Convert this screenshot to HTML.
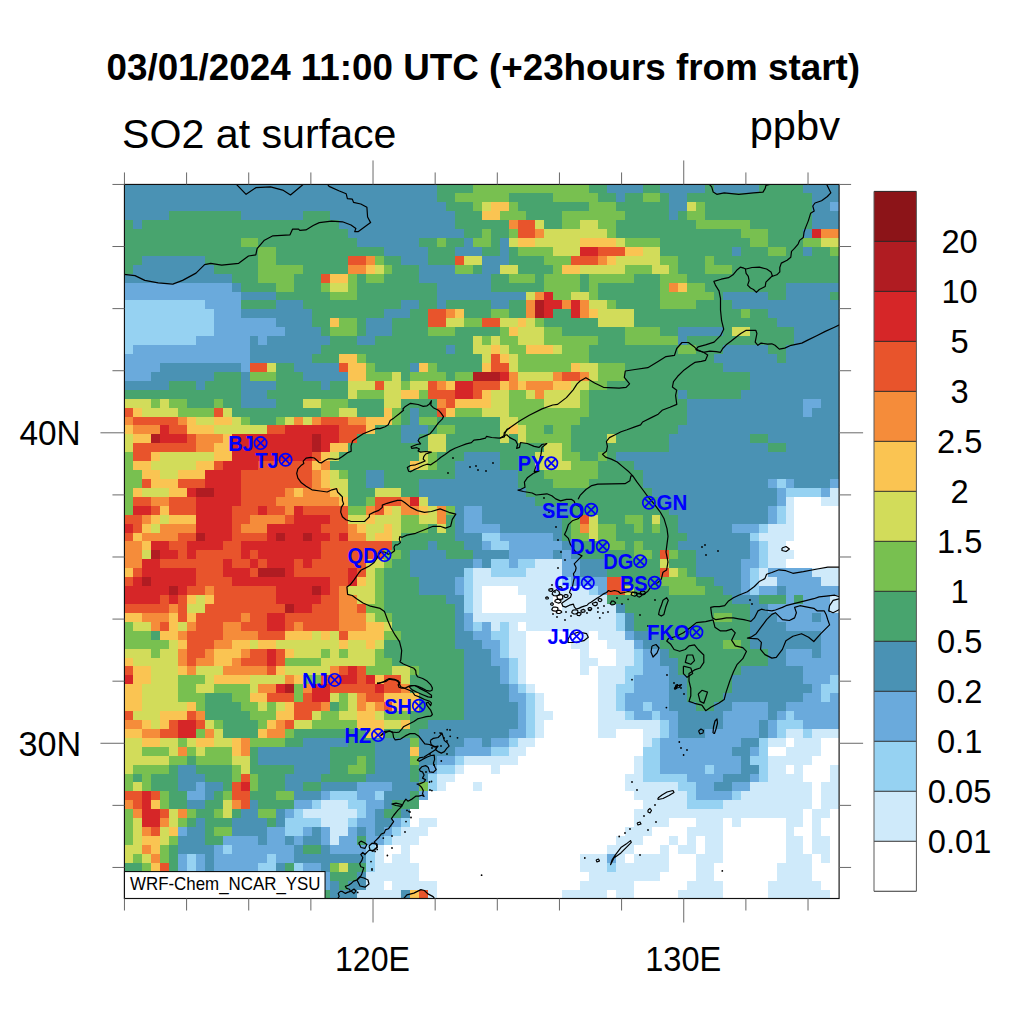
<!DOCTYPE html>
<html><head><meta charset="utf-8"><style>
html,body{margin:0;padding:0;background:#fff;}
svg{display:block;}
text{font-family:"Liberation Sans",sans-serif;fill:#000;}
</style></head><body>
<svg width="1024" height="1024" viewBox="0 0 1024 1024">
<rect width="1024" height="1024" fill="#fff"/>
<text x="106.5" y="80.1" font-size="37.5" font-weight="bold" textLength="753.5" lengthAdjust="spacingAndGlyphs">03/01/2024 11:00 UTC (+23hours from start)</text>
<text x="122" y="148" font-size="41.5" textLength="274.5" lengthAdjust="spacingAndGlyphs">SO2 at surface</text>
<text x="749.7" y="140" font-size="41.5" textLength="90.3" lengthAdjust="spacingAndGlyphs">ppbv</text>
<clipPath id="mc"><rect x="124.44" y="184.44" width="714.6600000000001" height="714.06"/></clipPath>
<g clip-path="url(#mc)" shape-rendering="crispEdges">
<rect x="124.44" y="184.44" width="313.16" height="9.43" fill="#4a92b4"/>
<rect x="437.10" y="184.44" width="36.23" height="9.43" fill="#48a46e"/>
<rect x="472.84" y="184.44" width="116.63" height="9.43" fill="#78c050"/>
<rect x="588.97" y="184.44" width="18.37" height="9.43" fill="#48a46e"/>
<rect x="606.84" y="184.44" width="36.23" height="9.43" fill="#4a92b4"/>
<rect x="642.57" y="184.44" width="18.37" height="9.43" fill="#48a46e"/>
<rect x="660.44" y="184.44" width="45.17" height="9.43" fill="#4a92b4"/>
<rect x="705.10" y="184.44" width="9.43" height="9.43" fill="#48a46e"/>
<rect x="714.03" y="184.44" width="45.17" height="9.43" fill="#4a92b4"/>
<rect x="758.70" y="184.44" width="45.17" height="9.43" fill="#48a46e"/>
<rect x="803.37" y="184.44" width="36.23" height="9.43" fill="#4a92b4"/>
<rect x="124.44" y="193.37" width="313.16" height="9.43" fill="#4a92b4"/>
<rect x="437.10" y="193.37" width="18.37" height="9.43" fill="#48a46e"/>
<rect x="454.97" y="193.37" width="54.10" height="9.43" fill="#78c050"/>
<rect x="508.57" y="193.37" width="45.17" height="9.43" fill="#48a46e"/>
<rect x="553.24" y="193.37" width="45.17" height="9.43" fill="#78c050"/>
<rect x="597.90" y="193.37" width="18.37" height="9.43" fill="#48a46e"/>
<rect x="615.77" y="193.37" width="9.43" height="9.43" fill="#4a92b4"/>
<rect x="624.70" y="193.37" width="18.37" height="9.43" fill="#48a46e"/>
<rect x="642.57" y="193.37" width="18.37" height="9.43" fill="#78c050"/>
<rect x="660.44" y="193.37" width="9.43" height="9.43" fill="#48a46e"/>
<rect x="669.37" y="193.37" width="18.37" height="9.43" fill="#4a92b4"/>
<rect x="687.23" y="193.37" width="125.57" height="9.43" fill="#48a46e"/>
<rect x="812.30" y="193.37" width="27.30" height="9.43" fill="#4a92b4"/>
<rect x="124.44" y="202.29" width="322.10" height="9.43" fill="#4a92b4"/>
<rect x="446.04" y="202.29" width="27.30" height="9.43" fill="#48a46e"/>
<rect x="472.84" y="202.29" width="9.43" height="9.43" fill="#78c050"/>
<rect x="481.77" y="202.29" width="9.43" height="9.43" fill="#d2dc5a"/>
<rect x="490.70" y="202.29" width="18.37" height="9.43" fill="#fac452"/>
<rect x="508.57" y="202.29" width="9.43" height="9.43" fill="#78c050"/>
<rect x="517.50" y="202.29" width="71.97" height="9.43" fill="#48a46e"/>
<rect x="588.97" y="202.29" width="27.30" height="9.43" fill="#78c050"/>
<rect x="615.77" y="202.29" width="54.10" height="9.43" fill="#48a46e"/>
<rect x="669.37" y="202.29" width="18.37" height="9.43" fill="#4a92b4"/>
<rect x="687.23" y="202.29" width="9.43" height="9.43" fill="#d2dc5a"/>
<rect x="696.17" y="202.29" width="9.43" height="9.43" fill="#78c050"/>
<rect x="705.10" y="202.29" width="107.70" height="9.43" fill="#48a46e"/>
<rect x="812.30" y="202.29" width="18.37" height="9.43" fill="#4a92b4"/>
<rect x="830.17" y="202.29" width="9.43" height="9.43" fill="#6aaadc"/>
<rect x="124.44" y="211.22" width="45.17" height="9.43" fill="#4a92b4"/>
<rect x="169.11" y="211.22" width="71.97" height="9.43" fill="#48a46e"/>
<rect x="240.57" y="211.22" width="63.03" height="9.43" fill="#4a92b4"/>
<rect x="303.11" y="211.22" width="27.30" height="9.43" fill="#48a46e"/>
<rect x="329.90" y="211.22" width="125.57" height="9.43" fill="#4a92b4"/>
<rect x="454.97" y="211.22" width="27.30" height="9.43" fill="#48a46e"/>
<rect x="481.77" y="211.22" width="18.37" height="9.43" fill="#fac452"/>
<rect x="499.64" y="211.22" width="27.30" height="9.43" fill="#78c050"/>
<rect x="526.44" y="211.22" width="36.23" height="9.43" fill="#48a46e"/>
<rect x="562.17" y="211.22" width="63.03" height="9.43" fill="#78c050"/>
<rect x="624.70" y="211.22" width="45.17" height="9.43" fill="#48a46e"/>
<rect x="669.37" y="211.22" width="9.43" height="9.43" fill="#4a92b4"/>
<rect x="678.30" y="211.22" width="9.43" height="9.43" fill="#48a46e"/>
<rect x="687.23" y="211.22" width="18.37" height="9.43" fill="#78c050"/>
<rect x="705.10" y="211.22" width="107.70" height="9.43" fill="#48a46e"/>
<rect x="812.30" y="211.22" width="27.30" height="9.43" fill="#4a92b4"/>
<rect x="124.44" y="220.14" width="9.43" height="9.43" fill="#48a46e"/>
<rect x="133.37" y="220.14" width="9.43" height="9.43" fill="#4a92b4"/>
<rect x="142.31" y="220.14" width="197.03" height="9.43" fill="#48a46e"/>
<rect x="338.84" y="220.14" width="116.63" height="9.43" fill="#4a92b4"/>
<rect x="454.97" y="220.14" width="54.10" height="9.43" fill="#48a46e"/>
<rect x="508.57" y="220.14" width="9.43" height="9.43" fill="#f58c3a"/>
<rect x="517.50" y="220.14" width="18.37" height="9.43" fill="#e8542c"/>
<rect x="535.37" y="220.14" width="9.43" height="9.43" fill="#d2dc5a"/>
<rect x="544.30" y="220.14" width="18.37" height="9.43" fill="#48a46e"/>
<rect x="562.17" y="220.14" width="18.37" height="9.43" fill="#78c050"/>
<rect x="580.04" y="220.14" width="18.37" height="9.43" fill="#d2dc5a"/>
<rect x="597.90" y="220.14" width="18.37" height="9.43" fill="#78c050"/>
<rect x="615.77" y="220.14" width="80.90" height="9.43" fill="#48a46e"/>
<rect x="696.17" y="220.14" width="54.10" height="9.43" fill="#78c050"/>
<rect x="749.77" y="220.14" width="63.03" height="9.43" fill="#48a46e"/>
<rect x="812.30" y="220.14" width="27.30" height="9.43" fill="#4a92b4"/>
<rect x="124.44" y="229.07" width="223.83" height="9.43" fill="#48a46e"/>
<rect x="347.77" y="229.07" width="116.63" height="9.43" fill="#4a92b4"/>
<rect x="463.90" y="229.07" width="18.37" height="9.43" fill="#48a46e"/>
<rect x="481.77" y="229.07" width="9.43" height="9.43" fill="#78c050"/>
<rect x="490.70" y="229.07" width="18.37" height="9.43" fill="#48a46e"/>
<rect x="508.57" y="229.07" width="9.43" height="9.43" fill="#78c050"/>
<rect x="517.50" y="229.07" width="18.37" height="9.43" fill="#e8542c"/>
<rect x="535.37" y="229.07" width="9.43" height="9.43" fill="#f58c3a"/>
<rect x="544.30" y="229.07" width="63.03" height="9.43" fill="#d2dc5a"/>
<rect x="606.84" y="229.07" width="9.43" height="9.43" fill="#78c050"/>
<rect x="615.77" y="229.07" width="125.57" height="9.43" fill="#48a46e"/>
<rect x="740.83" y="229.07" width="27.30" height="9.43" fill="#78c050"/>
<rect x="767.63" y="229.07" width="36.23" height="9.43" fill="#48a46e"/>
<rect x="803.37" y="229.07" width="9.43" height="9.43" fill="#4a92b4"/>
<rect x="812.30" y="229.07" width="9.43" height="9.43" fill="#d62628"/>
<rect x="821.23" y="229.07" width="18.37" height="9.43" fill="#f58c3a"/>
<rect x="124.44" y="237.99" width="116.63" height="9.43" fill="#48a46e"/>
<rect x="240.57" y="237.99" width="18.37" height="9.43" fill="#78c050"/>
<rect x="258.44" y="237.99" width="98.77" height="9.43" fill="#48a46e"/>
<rect x="356.70" y="237.99" width="63.03" height="9.43" fill="#4a92b4"/>
<rect x="419.24" y="237.99" width="18.37" height="9.43" fill="#48a46e"/>
<rect x="437.10" y="237.99" width="9.43" height="9.43" fill="#78c050"/>
<rect x="446.04" y="237.99" width="18.37" height="9.43" fill="#48a46e"/>
<rect x="463.90" y="237.99" width="9.43" height="9.43" fill="#4a92b4"/>
<rect x="472.84" y="237.99" width="18.37" height="9.43" fill="#78c050"/>
<rect x="490.70" y="237.99" width="9.43" height="9.43" fill="#48a46e"/>
<rect x="499.64" y="237.99" width="9.43" height="9.43" fill="#4a92b4"/>
<rect x="508.57" y="237.99" width="9.43" height="9.43" fill="#d2dc5a"/>
<rect x="517.50" y="237.99" width="18.37" height="9.43" fill="#fac452"/>
<rect x="535.37" y="237.99" width="45.17" height="9.43" fill="#d2dc5a"/>
<rect x="580.04" y="237.99" width="36.23" height="9.43" fill="#fac452"/>
<rect x="615.77" y="237.99" width="9.43" height="9.43" fill="#d2dc5a"/>
<rect x="624.70" y="237.99" width="36.23" height="9.43" fill="#78c050"/>
<rect x="660.44" y="237.99" width="89.83" height="9.43" fill="#48a46e"/>
<rect x="749.77" y="237.99" width="18.37" height="9.43" fill="#78c050"/>
<rect x="767.63" y="237.99" width="36.23" height="9.43" fill="#48a46e"/>
<rect x="803.37" y="237.99" width="18.37" height="9.43" fill="#78c050"/>
<rect x="821.23" y="237.99" width="18.37" height="9.43" fill="#d2dc5a"/>
<rect x="124.44" y="246.92" width="134.50" height="9.43" fill="#48a46e"/>
<rect x="258.44" y="246.92" width="18.37" height="9.43" fill="#78c050"/>
<rect x="276.31" y="246.92" width="107.70" height="9.43" fill="#48a46e"/>
<rect x="383.50" y="246.92" width="45.17" height="9.43" fill="#4a92b4"/>
<rect x="428.17" y="246.92" width="27.30" height="9.43" fill="#48a46e"/>
<rect x="454.97" y="246.92" width="27.30" height="9.43" fill="#4a92b4"/>
<rect x="481.77" y="246.92" width="18.37" height="9.43" fill="#48a46e"/>
<rect x="499.64" y="246.92" width="9.43" height="9.43" fill="#4a92b4"/>
<rect x="508.57" y="246.92" width="9.43" height="9.43" fill="#48a46e"/>
<rect x="517.50" y="246.92" width="36.23" height="9.43" fill="#78c050"/>
<rect x="553.24" y="246.92" width="27.30" height="9.43" fill="#d2dc5a"/>
<rect x="580.04" y="246.92" width="18.37" height="9.43" fill="#d62628"/>
<rect x="597.90" y="246.92" width="27.30" height="9.43" fill="#e8542c"/>
<rect x="624.70" y="246.92" width="18.37" height="9.43" fill="#fac452"/>
<rect x="642.57" y="246.92" width="18.37" height="9.43" fill="#d2dc5a"/>
<rect x="660.44" y="246.92" width="71.97" height="9.43" fill="#48a46e"/>
<rect x="731.90" y="246.92" width="9.43" height="9.43" fill="#4a92b4"/>
<rect x="740.83" y="246.92" width="27.30" height="9.43" fill="#48a46e"/>
<rect x="767.63" y="246.92" width="18.37" height="9.43" fill="#78c050"/>
<rect x="785.50" y="246.92" width="18.37" height="9.43" fill="#48a46e"/>
<rect x="803.37" y="246.92" width="9.43" height="9.43" fill="#4a92b4"/>
<rect x="812.30" y="246.92" width="18.37" height="9.43" fill="#48a46e"/>
<rect x="830.17" y="246.92" width="9.43" height="9.43" fill="#78c050"/>
<rect x="124.44" y="255.85" width="18.37" height="9.43" fill="#48a46e"/>
<rect x="142.31" y="255.85" width="63.03" height="9.43" fill="#4a92b4"/>
<rect x="204.84" y="255.85" width="54.10" height="9.43" fill="#48a46e"/>
<rect x="258.44" y="255.85" width="18.37" height="9.43" fill="#78c050"/>
<rect x="276.31" y="255.85" width="71.97" height="9.43" fill="#48a46e"/>
<rect x="347.77" y="255.85" width="18.37" height="9.43" fill="#e8542c"/>
<rect x="365.64" y="255.85" width="9.43" height="9.43" fill="#f58c3a"/>
<rect x="374.57" y="255.85" width="9.43" height="9.43" fill="#78c050"/>
<rect x="383.50" y="255.85" width="18.37" height="9.43" fill="#48a46e"/>
<rect x="401.37" y="255.85" width="27.30" height="9.43" fill="#4a92b4"/>
<rect x="428.17" y="255.85" width="27.30" height="9.43" fill="#48a46e"/>
<rect x="454.97" y="255.85" width="9.43" height="9.43" fill="#e8542c"/>
<rect x="463.90" y="255.85" width="18.37" height="9.43" fill="#d2dc5a"/>
<rect x="481.77" y="255.85" width="27.30" height="9.43" fill="#4a92b4"/>
<rect x="508.57" y="255.85" width="36.23" height="9.43" fill="#48a46e"/>
<rect x="544.30" y="255.85" width="27.30" height="9.43" fill="#78c050"/>
<rect x="571.10" y="255.85" width="27.30" height="9.43" fill="#e8542c"/>
<rect x="597.90" y="255.85" width="9.43" height="9.43" fill="#f58c3a"/>
<rect x="606.84" y="255.85" width="9.43" height="9.43" fill="#fac452"/>
<rect x="615.77" y="255.85" width="45.17" height="9.43" fill="#d2dc5a"/>
<rect x="660.44" y="255.85" width="18.37" height="9.43" fill="#78c050"/>
<rect x="678.30" y="255.85" width="27.30" height="9.43" fill="#48a46e"/>
<rect x="705.10" y="255.85" width="9.43" height="9.43" fill="#78c050"/>
<rect x="714.03" y="255.85" width="125.57" height="9.43" fill="#48a46e"/>
<rect x="124.44" y="264.77" width="9.43" height="9.43" fill="#48a46e"/>
<rect x="133.37" y="264.77" width="80.90" height="9.43" fill="#4a92b4"/>
<rect x="213.77" y="264.77" width="45.17" height="9.43" fill="#48a46e"/>
<rect x="258.44" y="264.77" width="45.17" height="9.43" fill="#78c050"/>
<rect x="303.11" y="264.77" width="45.17" height="9.43" fill="#48a46e"/>
<rect x="347.77" y="264.77" width="18.37" height="9.43" fill="#f58c3a"/>
<rect x="365.64" y="264.77" width="9.43" height="9.43" fill="#fac452"/>
<rect x="374.57" y="264.77" width="9.43" height="9.43" fill="#d2dc5a"/>
<rect x="383.50" y="264.77" width="9.43" height="9.43" fill="#78c050"/>
<rect x="392.44" y="264.77" width="27.30" height="9.43" fill="#48a46e"/>
<rect x="419.24" y="264.77" width="36.23" height="9.43" fill="#4a92b4"/>
<rect x="454.97" y="264.77" width="18.37" height="9.43" fill="#78c050"/>
<rect x="472.84" y="264.77" width="9.43" height="9.43" fill="#48a46e"/>
<rect x="481.77" y="264.77" width="18.37" height="9.43" fill="#4a92b4"/>
<rect x="499.64" y="264.77" width="18.37" height="9.43" fill="#d2dc5a"/>
<rect x="517.50" y="264.77" width="36.23" height="9.43" fill="#48a46e"/>
<rect x="553.24" y="264.77" width="9.43" height="9.43" fill="#78c050"/>
<rect x="562.17" y="264.77" width="18.37" height="9.43" fill="#fac452"/>
<rect x="580.04" y="264.77" width="45.17" height="9.43" fill="#d2dc5a"/>
<rect x="624.70" y="264.77" width="27.30" height="9.43" fill="#78c050"/>
<rect x="651.50" y="264.77" width="18.37" height="9.43" fill="#d2dc5a"/>
<rect x="669.37" y="264.77" width="9.43" height="9.43" fill="#78c050"/>
<rect x="678.30" y="264.77" width="27.30" height="9.43" fill="#48a46e"/>
<rect x="705.10" y="264.77" width="27.30" height="9.43" fill="#78c050"/>
<rect x="731.90" y="264.77" width="107.70" height="9.43" fill="#48a46e"/>
<rect x="124.44" y="273.70" width="107.70" height="9.43" fill="#4a92b4"/>
<rect x="231.64" y="273.70" width="27.30" height="9.43" fill="#48a46e"/>
<rect x="258.44" y="273.70" width="36.23" height="9.43" fill="#78c050"/>
<rect x="294.17" y="273.70" width="27.30" height="9.43" fill="#48a46e"/>
<rect x="320.97" y="273.70" width="9.43" height="9.43" fill="#e8542c"/>
<rect x="329.90" y="273.70" width="18.37" height="9.43" fill="#fac452"/>
<rect x="347.77" y="273.70" width="9.43" height="9.43" fill="#78c050"/>
<rect x="356.70" y="273.70" width="9.43" height="9.43" fill="#48a46e"/>
<rect x="365.64" y="273.70" width="18.37" height="9.43" fill="#78c050"/>
<rect x="383.50" y="273.70" width="36.23" height="9.43" fill="#48a46e"/>
<rect x="419.24" y="273.70" width="71.97" height="9.43" fill="#4a92b4"/>
<rect x="490.70" y="273.70" width="18.37" height="9.43" fill="#48a46e"/>
<rect x="508.57" y="273.70" width="27.30" height="9.43" fill="#78c050"/>
<rect x="535.37" y="273.70" width="9.43" height="9.43" fill="#48a46e"/>
<rect x="544.30" y="273.70" width="36.23" height="9.43" fill="#78c050"/>
<rect x="580.04" y="273.70" width="9.43" height="9.43" fill="#48a46e"/>
<rect x="588.97" y="273.70" width="45.17" height="9.43" fill="#78c050"/>
<rect x="633.64" y="273.70" width="27.30" height="9.43" fill="#48a46e"/>
<rect x="660.44" y="273.70" width="27.30" height="9.43" fill="#78c050"/>
<rect x="687.23" y="273.70" width="152.37" height="9.43" fill="#48a46e"/>
<rect x="124.44" y="282.62" width="107.70" height="9.43" fill="#6aaadc"/>
<rect x="231.64" y="282.62" width="9.43" height="9.43" fill="#4a92b4"/>
<rect x="240.57" y="282.62" width="36.23" height="9.43" fill="#48a46e"/>
<rect x="276.31" y="282.62" width="18.37" height="9.43" fill="#78c050"/>
<rect x="294.17" y="282.62" width="27.30" height="9.43" fill="#48a46e"/>
<rect x="320.97" y="282.62" width="9.43" height="9.43" fill="#78c050"/>
<rect x="329.90" y="282.62" width="18.37" height="9.43" fill="#d2dc5a"/>
<rect x="347.77" y="282.62" width="9.43" height="9.43" fill="#78c050"/>
<rect x="356.70" y="282.62" width="80.90" height="9.43" fill="#48a46e"/>
<rect x="437.10" y="282.62" width="54.10" height="9.43" fill="#4a92b4"/>
<rect x="490.70" y="282.62" width="54.10" height="9.43" fill="#48a46e"/>
<rect x="544.30" y="282.62" width="36.23" height="9.43" fill="#78c050"/>
<rect x="580.04" y="282.62" width="9.43" height="9.43" fill="#48a46e"/>
<rect x="588.97" y="282.62" width="9.43" height="9.43" fill="#78c050"/>
<rect x="597.90" y="282.62" width="63.03" height="9.43" fill="#48a46e"/>
<rect x="660.44" y="282.62" width="9.43" height="9.43" fill="#78c050"/>
<rect x="669.37" y="282.62" width="9.43" height="9.43" fill="#f58c3a"/>
<rect x="678.30" y="282.62" width="9.43" height="9.43" fill="#fac452"/>
<rect x="687.23" y="282.62" width="18.37" height="9.43" fill="#78c050"/>
<rect x="705.10" y="282.62" width="80.90" height="9.43" fill="#48a46e"/>
<rect x="785.50" y="282.62" width="54.10" height="9.43" fill="#4a92b4"/>
<rect x="124.44" y="291.55" width="116.63" height="9.43" fill="#6aaadc"/>
<rect x="240.57" y="291.55" width="36.23" height="9.43" fill="#4a92b4"/>
<rect x="276.31" y="291.55" width="54.10" height="9.43" fill="#48a46e"/>
<rect x="329.90" y="291.55" width="27.30" height="9.43" fill="#78c050"/>
<rect x="356.70" y="291.55" width="80.90" height="9.43" fill="#48a46e"/>
<rect x="437.10" y="291.55" width="89.83" height="9.43" fill="#4a92b4"/>
<rect x="526.44" y="291.55" width="9.43" height="9.43" fill="#d2dc5a"/>
<rect x="535.37" y="291.55" width="9.43" height="9.43" fill="#f58c3a"/>
<rect x="544.30" y="291.55" width="9.43" height="9.43" fill="#d62628"/>
<rect x="553.24" y="291.55" width="18.37" height="9.43" fill="#78c050"/>
<rect x="571.10" y="291.55" width="18.37" height="9.43" fill="#d2dc5a"/>
<rect x="588.97" y="291.55" width="9.43" height="9.43" fill="#78c050"/>
<rect x="597.90" y="291.55" width="63.03" height="9.43" fill="#48a46e"/>
<rect x="660.44" y="291.55" width="54.10" height="9.43" fill="#78c050"/>
<rect x="714.03" y="291.55" width="9.43" height="9.43" fill="#48a46e"/>
<rect x="722.97" y="291.55" width="45.17" height="9.43" fill="#4a92b4"/>
<rect x="767.63" y="291.55" width="18.37" height="9.43" fill="#48a46e"/>
<rect x="785.50" y="291.55" width="45.17" height="9.43" fill="#4a92b4"/>
<rect x="830.17" y="291.55" width="9.43" height="9.43" fill="#48a46e"/>
<rect x="124.44" y="300.47" width="80.90" height="9.43" fill="#96d2f2"/>
<rect x="204.84" y="300.47" width="36.23" height="9.43" fill="#6aaadc"/>
<rect x="240.57" y="300.47" width="36.23" height="9.43" fill="#48a46e"/>
<rect x="276.31" y="300.47" width="27.30" height="9.43" fill="#4a92b4"/>
<rect x="303.11" y="300.47" width="98.77" height="9.43" fill="#48a46e"/>
<rect x="401.37" y="300.47" width="18.37" height="9.43" fill="#4a92b4"/>
<rect x="419.24" y="300.47" width="18.37" height="9.43" fill="#48a46e"/>
<rect x="437.10" y="300.47" width="9.43" height="9.43" fill="#4a92b4"/>
<rect x="446.04" y="300.47" width="45.17" height="9.43" fill="#48a46e"/>
<rect x="490.70" y="300.47" width="18.37" height="9.43" fill="#4a92b4"/>
<rect x="508.57" y="300.47" width="18.37" height="9.43" fill="#48a46e"/>
<rect x="526.44" y="300.47" width="9.43" height="9.43" fill="#f58c3a"/>
<rect x="535.37" y="300.47" width="9.43" height="9.43" fill="#b01c22"/>
<rect x="544.30" y="300.47" width="18.37" height="9.43" fill="#d62628"/>
<rect x="562.17" y="300.47" width="9.43" height="9.43" fill="#f58c3a"/>
<rect x="571.10" y="300.47" width="9.43" height="9.43" fill="#d62628"/>
<rect x="580.04" y="300.47" width="9.43" height="9.43" fill="#f58c3a"/>
<rect x="588.97" y="300.47" width="18.37" height="9.43" fill="#d2dc5a"/>
<rect x="606.84" y="300.47" width="9.43" height="9.43" fill="#78c050"/>
<rect x="615.77" y="300.47" width="45.17" height="9.43" fill="#48a46e"/>
<rect x="660.44" y="300.47" width="36.23" height="9.43" fill="#78c050"/>
<rect x="696.17" y="300.47" width="36.23" height="9.43" fill="#48a46e"/>
<rect x="731.90" y="300.47" width="107.70" height="9.43" fill="#4a92b4"/>
<rect x="124.44" y="309.40" width="89.83" height="9.43" fill="#96d2f2"/>
<rect x="213.77" y="309.40" width="27.30" height="9.43" fill="#6aaadc"/>
<rect x="240.57" y="309.40" width="71.97" height="9.43" fill="#4a92b4"/>
<rect x="312.04" y="309.40" width="71.97" height="9.43" fill="#48a46e"/>
<rect x="383.50" y="309.40" width="27.30" height="9.43" fill="#4a92b4"/>
<rect x="410.30" y="309.40" width="18.37" height="9.43" fill="#48a46e"/>
<rect x="428.17" y="309.40" width="18.37" height="9.43" fill="#e8542c"/>
<rect x="446.04" y="309.40" width="9.43" height="9.43" fill="#f58c3a"/>
<rect x="454.97" y="309.40" width="9.43" height="9.43" fill="#fac452"/>
<rect x="463.90" y="309.40" width="27.30" height="9.43" fill="#48a46e"/>
<rect x="490.70" y="309.40" width="18.37" height="9.43" fill="#78c050"/>
<rect x="508.57" y="309.40" width="18.37" height="9.43" fill="#48a46e"/>
<rect x="526.44" y="309.40" width="9.43" height="9.43" fill="#f58c3a"/>
<rect x="535.37" y="309.40" width="9.43" height="9.43" fill="#b01c22"/>
<rect x="544.30" y="309.40" width="9.43" height="9.43" fill="#d62628"/>
<rect x="553.24" y="309.40" width="18.37" height="9.43" fill="#48a46e"/>
<rect x="571.10" y="309.40" width="9.43" height="9.43" fill="#d62628"/>
<rect x="580.04" y="309.40" width="9.43" height="9.43" fill="#f58c3a"/>
<rect x="588.97" y="309.40" width="9.43" height="9.43" fill="#fac452"/>
<rect x="597.90" y="309.40" width="36.23" height="9.43" fill="#d2dc5a"/>
<rect x="633.64" y="309.40" width="107.70" height="9.43" fill="#48a46e"/>
<rect x="740.83" y="309.40" width="9.43" height="9.43" fill="#78c050"/>
<rect x="749.77" y="309.40" width="18.37" height="9.43" fill="#48a46e"/>
<rect x="767.63" y="309.40" width="71.97" height="9.43" fill="#4a92b4"/>
<rect x="124.44" y="318.33" width="89.83" height="9.43" fill="#96d2f2"/>
<rect x="213.77" y="318.33" width="63.03" height="9.43" fill="#6aaadc"/>
<rect x="276.31" y="318.33" width="36.23" height="9.43" fill="#4a92b4"/>
<rect x="312.04" y="318.33" width="18.37" height="9.43" fill="#48a46e"/>
<rect x="329.90" y="318.33" width="9.43" height="9.43" fill="#fac452"/>
<rect x="338.84" y="318.33" width="18.37" height="9.43" fill="#78c050"/>
<rect x="356.70" y="318.33" width="9.43" height="9.43" fill="#48a46e"/>
<rect x="365.64" y="318.33" width="27.30" height="9.43" fill="#4a92b4"/>
<rect x="392.44" y="318.33" width="36.23" height="9.43" fill="#48a46e"/>
<rect x="428.17" y="318.33" width="18.37" height="9.43" fill="#e8542c"/>
<rect x="446.04" y="318.33" width="18.37" height="9.43" fill="#d2dc5a"/>
<rect x="463.90" y="318.33" width="18.37" height="9.43" fill="#78c050"/>
<rect x="481.77" y="318.33" width="18.37" height="9.43" fill="#e8542c"/>
<rect x="499.64" y="318.33" width="18.37" height="9.43" fill="#d2dc5a"/>
<rect x="517.50" y="318.33" width="9.43" height="9.43" fill="#fac452"/>
<rect x="526.44" y="318.33" width="9.43" height="9.43" fill="#d2dc5a"/>
<rect x="535.37" y="318.33" width="9.43" height="9.43" fill="#78c050"/>
<rect x="544.30" y="318.33" width="54.10" height="9.43" fill="#48a46e"/>
<rect x="597.90" y="318.33" width="36.23" height="9.43" fill="#d2dc5a"/>
<rect x="633.64" y="318.33" width="143.43" height="9.43" fill="#48a46e"/>
<rect x="776.57" y="318.33" width="63.03" height="9.43" fill="#4a92b4"/>
<rect x="124.44" y="327.25" width="89.83" height="9.43" fill="#96d2f2"/>
<rect x="213.77" y="327.25" width="71.97" height="9.43" fill="#6aaadc"/>
<rect x="285.24" y="327.25" width="36.23" height="9.43" fill="#4a92b4"/>
<rect x="320.97" y="327.25" width="9.43" height="9.43" fill="#48a46e"/>
<rect x="329.90" y="327.25" width="27.30" height="9.43" fill="#78c050"/>
<rect x="356.70" y="327.25" width="9.43" height="9.43" fill="#48a46e"/>
<rect x="365.64" y="327.25" width="27.30" height="9.43" fill="#4a92b4"/>
<rect x="392.44" y="327.25" width="36.23" height="9.43" fill="#48a46e"/>
<rect x="428.17" y="327.25" width="27.30" height="9.43" fill="#78c050"/>
<rect x="454.97" y="327.25" width="45.17" height="9.43" fill="#48a46e"/>
<rect x="499.64" y="327.25" width="9.43" height="9.43" fill="#78c050"/>
<rect x="508.57" y="327.25" width="9.43" height="9.43" fill="#fac452"/>
<rect x="517.50" y="327.25" width="27.30" height="9.43" fill="#d2dc5a"/>
<rect x="544.30" y="327.25" width="18.37" height="9.43" fill="#78c050"/>
<rect x="562.17" y="327.25" width="63.03" height="9.43" fill="#48a46e"/>
<rect x="624.70" y="327.25" width="36.23" height="9.43" fill="#78c050"/>
<rect x="660.44" y="327.25" width="18.37" height="9.43" fill="#48a46e"/>
<rect x="678.30" y="327.25" width="45.17" height="9.43" fill="#4a92b4"/>
<rect x="722.97" y="327.25" width="9.43" height="9.43" fill="#48a46e"/>
<rect x="731.90" y="327.25" width="18.37" height="9.43" fill="#d2dc5a"/>
<rect x="749.77" y="327.25" width="45.17" height="9.43" fill="#48a46e"/>
<rect x="794.43" y="327.25" width="45.17" height="9.43" fill="#4a92b4"/>
<rect x="124.44" y="336.18" width="71.97" height="9.43" fill="#96d2f2"/>
<rect x="195.91" y="336.18" width="54.10" height="9.43" fill="#6aaadc"/>
<rect x="249.51" y="336.18" width="9.43" height="9.43" fill="#4a92b4"/>
<rect x="258.44" y="336.18" width="9.43" height="9.43" fill="#6aaadc"/>
<rect x="267.37" y="336.18" width="63.03" height="9.43" fill="#4a92b4"/>
<rect x="329.90" y="336.18" width="27.30" height="9.43" fill="#48a46e"/>
<rect x="356.70" y="336.18" width="18.37" height="9.43" fill="#4a92b4"/>
<rect x="374.57" y="336.18" width="98.77" height="9.43" fill="#48a46e"/>
<rect x="472.84" y="336.18" width="9.43" height="9.43" fill="#d2dc5a"/>
<rect x="481.77" y="336.18" width="9.43" height="9.43" fill="#78c050"/>
<rect x="490.70" y="336.18" width="9.43" height="9.43" fill="#d2dc5a"/>
<rect x="499.64" y="336.18" width="18.37" height="9.43" fill="#78c050"/>
<rect x="517.50" y="336.18" width="27.30" height="9.43" fill="#d2dc5a"/>
<rect x="544.30" y="336.18" width="54.10" height="9.43" fill="#78c050"/>
<rect x="597.90" y="336.18" width="27.30" height="9.43" fill="#48a46e"/>
<rect x="624.70" y="336.18" width="54.10" height="9.43" fill="#78c050"/>
<rect x="678.30" y="336.18" width="9.43" height="9.43" fill="#4a92b4"/>
<rect x="687.23" y="336.18" width="107.70" height="9.43" fill="#48a46e"/>
<rect x="794.43" y="336.18" width="45.17" height="9.43" fill="#4a92b4"/>
<rect x="124.44" y="345.10" width="9.43" height="9.43" fill="#96d2f2"/>
<rect x="133.37" y="345.10" width="116.63" height="9.43" fill="#6aaadc"/>
<rect x="249.51" y="345.10" width="71.97" height="9.43" fill="#4a92b4"/>
<rect x="320.97" y="345.10" width="125.57" height="9.43" fill="#48a46e"/>
<rect x="446.04" y="345.10" width="9.43" height="9.43" fill="#4a92b4"/>
<rect x="454.97" y="345.10" width="18.37" height="9.43" fill="#48a46e"/>
<rect x="472.84" y="345.10" width="18.37" height="9.43" fill="#d2dc5a"/>
<rect x="490.70" y="345.10" width="9.43" height="9.43" fill="#fac452"/>
<rect x="499.64" y="345.10" width="9.43" height="9.43" fill="#d2dc5a"/>
<rect x="508.57" y="345.10" width="18.37" height="9.43" fill="#78c050"/>
<rect x="526.44" y="345.10" width="27.30" height="9.43" fill="#fac452"/>
<rect x="553.24" y="345.10" width="9.43" height="9.43" fill="#d2dc5a"/>
<rect x="562.17" y="345.10" width="27.30" height="9.43" fill="#78c050"/>
<rect x="588.97" y="345.10" width="89.83" height="9.43" fill="#48a46e"/>
<rect x="678.30" y="345.10" width="18.37" height="9.43" fill="#78c050"/>
<rect x="696.17" y="345.10" width="27.30" height="9.43" fill="#48a46e"/>
<rect x="722.97" y="345.10" width="45.17" height="9.43" fill="#4a92b4"/>
<rect x="767.63" y="345.10" width="18.37" height="9.43" fill="#48a46e"/>
<rect x="785.50" y="345.10" width="54.10" height="9.43" fill="#4a92b4"/>
<rect x="124.44" y="354.03" width="125.57" height="9.43" fill="#6aaadc"/>
<rect x="249.51" y="354.03" width="63.03" height="9.43" fill="#4a92b4"/>
<rect x="312.04" y="354.03" width="27.30" height="9.43" fill="#48a46e"/>
<rect x="338.84" y="354.03" width="18.37" height="9.43" fill="#fac452"/>
<rect x="356.70" y="354.03" width="9.43" height="9.43" fill="#78c050"/>
<rect x="365.64" y="354.03" width="116.63" height="9.43" fill="#48a46e"/>
<rect x="481.77" y="354.03" width="9.43" height="9.43" fill="#d2dc5a"/>
<rect x="490.70" y="354.03" width="9.43" height="9.43" fill="#e8542c"/>
<rect x="499.64" y="354.03" width="9.43" height="9.43" fill="#fac452"/>
<rect x="508.57" y="354.03" width="9.43" height="9.43" fill="#d2dc5a"/>
<rect x="517.50" y="354.03" width="71.97" height="9.43" fill="#78c050"/>
<rect x="588.97" y="354.03" width="125.57" height="9.43" fill="#48a46e"/>
<rect x="714.03" y="354.03" width="63.03" height="9.43" fill="#4a92b4"/>
<rect x="776.57" y="354.03" width="9.43" height="9.43" fill="#48a46e"/>
<rect x="785.50" y="354.03" width="54.10" height="9.43" fill="#4a92b4"/>
<rect x="124.44" y="362.95" width="36.23" height="9.43" fill="#6aaadc"/>
<rect x="160.17" y="362.95" width="80.90" height="9.43" fill="#4a92b4"/>
<rect x="240.57" y="362.95" width="9.43" height="9.43" fill="#6aaadc"/>
<rect x="249.51" y="362.95" width="18.37" height="9.43" fill="#e8542c"/>
<rect x="267.37" y="362.95" width="9.43" height="9.43" fill="#d2dc5a"/>
<rect x="276.31" y="362.95" width="18.37" height="9.43" fill="#48a46e"/>
<rect x="294.17" y="362.95" width="45.17" height="9.43" fill="#4a92b4"/>
<rect x="338.84" y="362.95" width="9.43" height="9.43" fill="#e8542c"/>
<rect x="347.77" y="362.95" width="18.37" height="9.43" fill="#fac452"/>
<rect x="365.64" y="362.95" width="9.43" height="9.43" fill="#78c050"/>
<rect x="374.57" y="362.95" width="36.23" height="9.43" fill="#48a46e"/>
<rect x="410.30" y="362.95" width="9.43" height="9.43" fill="#4a92b4"/>
<rect x="419.24" y="362.95" width="9.43" height="9.43" fill="#fac452"/>
<rect x="428.17" y="362.95" width="9.43" height="9.43" fill="#78c050"/>
<rect x="437.10" y="362.95" width="45.17" height="9.43" fill="#48a46e"/>
<rect x="481.77" y="362.95" width="9.43" height="9.43" fill="#fac452"/>
<rect x="490.70" y="362.95" width="18.37" height="9.43" fill="#e8542c"/>
<rect x="508.57" y="362.95" width="9.43" height="9.43" fill="#d2dc5a"/>
<rect x="517.50" y="362.95" width="54.10" height="9.43" fill="#78c050"/>
<rect x="571.10" y="362.95" width="9.43" height="9.43" fill="#fac452"/>
<rect x="580.04" y="362.95" width="18.37" height="9.43" fill="#d2dc5a"/>
<rect x="597.90" y="362.95" width="27.30" height="9.43" fill="#78c050"/>
<rect x="624.70" y="362.95" width="98.77" height="9.43" fill="#48a46e"/>
<rect x="722.97" y="362.95" width="116.63" height="9.43" fill="#4a92b4"/>
<rect x="124.44" y="371.88" width="27.30" height="9.43" fill="#6aaadc"/>
<rect x="151.24" y="371.88" width="63.03" height="9.43" fill="#4a92b4"/>
<rect x="213.77" y="371.88" width="27.30" height="9.43" fill="#48a46e"/>
<rect x="240.57" y="371.88" width="9.43" height="9.43" fill="#4a92b4"/>
<rect x="249.51" y="371.88" width="27.30" height="9.43" fill="#78c050"/>
<rect x="276.31" y="371.88" width="27.30" height="9.43" fill="#48a46e"/>
<rect x="303.11" y="371.88" width="45.17" height="9.43" fill="#4a92b4"/>
<rect x="347.77" y="371.88" width="18.37" height="9.43" fill="#fac452"/>
<rect x="365.64" y="371.88" width="27.30" height="9.43" fill="#78c050"/>
<rect x="392.44" y="371.88" width="9.43" height="9.43" fill="#d2dc5a"/>
<rect x="401.37" y="371.88" width="9.43" height="9.43" fill="#48a46e"/>
<rect x="410.30" y="371.88" width="36.23" height="9.43" fill="#78c050"/>
<rect x="446.04" y="371.88" width="9.43" height="9.43" fill="#48a46e"/>
<rect x="454.97" y="371.88" width="18.37" height="9.43" fill="#78c050"/>
<rect x="472.84" y="371.88" width="27.30" height="9.43" fill="#b01c22"/>
<rect x="499.64" y="371.88" width="9.43" height="9.43" fill="#d62628"/>
<rect x="508.57" y="371.88" width="9.43" height="9.43" fill="#f58c3a"/>
<rect x="517.50" y="371.88" width="36.23" height="9.43" fill="#d2dc5a"/>
<rect x="553.24" y="371.88" width="9.43" height="9.43" fill="#f58c3a"/>
<rect x="562.17" y="371.88" width="18.37" height="9.43" fill="#e8542c"/>
<rect x="580.04" y="371.88" width="9.43" height="9.43" fill="#f58c3a"/>
<rect x="588.97" y="371.88" width="9.43" height="9.43" fill="#d2dc5a"/>
<rect x="597.90" y="371.88" width="27.30" height="9.43" fill="#78c050"/>
<rect x="624.70" y="371.88" width="125.57" height="9.43" fill="#48a46e"/>
<rect x="749.77" y="371.88" width="89.83" height="9.43" fill="#4a92b4"/>
<rect x="124.44" y="380.81" width="45.17" height="9.43" fill="#4a92b4"/>
<rect x="169.11" y="380.81" width="27.30" height="9.43" fill="#48a46e"/>
<rect x="195.91" y="380.81" width="9.43" height="9.43" fill="#4a92b4"/>
<rect x="204.84" y="380.81" width="36.23" height="9.43" fill="#48a46e"/>
<rect x="240.57" y="380.81" width="36.23" height="9.43" fill="#4a92b4"/>
<rect x="276.31" y="380.81" width="45.17" height="9.43" fill="#48a46e"/>
<rect x="320.97" y="380.81" width="9.43" height="9.43" fill="#4a92b4"/>
<rect x="329.90" y="380.81" width="18.37" height="9.43" fill="#48a46e"/>
<rect x="347.77" y="380.81" width="27.30" height="9.43" fill="#d2dc5a"/>
<rect x="374.57" y="380.81" width="9.43" height="9.43" fill="#e8542c"/>
<rect x="383.50" y="380.81" width="18.37" height="9.43" fill="#d2dc5a"/>
<rect x="401.37" y="380.81" width="9.43" height="9.43" fill="#78c050"/>
<rect x="410.30" y="380.81" width="18.37" height="9.43" fill="#d2dc5a"/>
<rect x="428.17" y="380.81" width="9.43" height="9.43" fill="#e8542c"/>
<rect x="437.10" y="380.81" width="9.43" height="9.43" fill="#f58c3a"/>
<rect x="446.04" y="380.81" width="9.43" height="9.43" fill="#fac452"/>
<rect x="454.97" y="380.81" width="18.37" height="9.43" fill="#d62628"/>
<rect x="472.84" y="380.81" width="27.30" height="9.43" fill="#e8542c"/>
<rect x="499.64" y="380.81" width="9.43" height="9.43" fill="#fac452"/>
<rect x="508.57" y="380.81" width="9.43" height="9.43" fill="#f58c3a"/>
<rect x="517.50" y="380.81" width="9.43" height="9.43" fill="#fac452"/>
<rect x="526.44" y="380.81" width="27.30" height="9.43" fill="#f58c3a"/>
<rect x="553.24" y="380.81" width="18.37" height="9.43" fill="#fac452"/>
<rect x="571.10" y="380.81" width="18.37" height="9.43" fill="#d2dc5a"/>
<rect x="588.97" y="380.81" width="18.37" height="9.43" fill="#78c050"/>
<rect x="606.84" y="380.81" width="143.43" height="9.43" fill="#48a46e"/>
<rect x="749.77" y="380.81" width="89.83" height="9.43" fill="#4a92b4"/>
<rect x="124.44" y="389.73" width="116.63" height="9.43" fill="#48a46e"/>
<rect x="240.57" y="389.73" width="27.30" height="9.43" fill="#4a92b4"/>
<rect x="267.37" y="389.73" width="80.90" height="9.43" fill="#48a46e"/>
<rect x="347.77" y="389.73" width="9.43" height="9.43" fill="#d2dc5a"/>
<rect x="356.70" y="389.73" width="27.30" height="9.43" fill="#78c050"/>
<rect x="383.50" y="389.73" width="18.37" height="9.43" fill="#d2dc5a"/>
<rect x="401.37" y="389.73" width="18.37" height="9.43" fill="#fac452"/>
<rect x="419.24" y="389.73" width="9.43" height="9.43" fill="#78c050"/>
<rect x="428.17" y="389.73" width="27.30" height="9.43" fill="#e8542c"/>
<rect x="454.97" y="389.73" width="18.37" height="9.43" fill="#d62628"/>
<rect x="472.84" y="389.73" width="9.43" height="9.43" fill="#e8542c"/>
<rect x="481.77" y="389.73" width="9.43" height="9.43" fill="#fac452"/>
<rect x="490.70" y="389.73" width="18.37" height="9.43" fill="#d2dc5a"/>
<rect x="508.57" y="389.73" width="18.37" height="9.43" fill="#78c050"/>
<rect x="526.44" y="389.73" width="9.43" height="9.43" fill="#d2dc5a"/>
<rect x="535.37" y="389.73" width="9.43" height="9.43" fill="#f58c3a"/>
<rect x="544.30" y="389.73" width="36.23" height="9.43" fill="#d2dc5a"/>
<rect x="580.04" y="389.73" width="9.43" height="9.43" fill="#78c050"/>
<rect x="588.97" y="389.73" width="89.83" height="9.43" fill="#48a46e"/>
<rect x="678.30" y="389.73" width="9.43" height="9.43" fill="#4a92b4"/>
<rect x="687.23" y="389.73" width="54.10" height="9.43" fill="#48a46e"/>
<rect x="740.83" y="389.73" width="98.77" height="9.43" fill="#4a92b4"/>
<rect x="124.44" y="398.66" width="27.30" height="9.43" fill="#d2dc5a"/>
<rect x="151.24" y="398.66" width="9.43" height="9.43" fill="#78c050"/>
<rect x="160.17" y="398.66" width="9.43" height="9.43" fill="#d2dc5a"/>
<rect x="169.11" y="398.66" width="18.37" height="9.43" fill="#78c050"/>
<rect x="186.97" y="398.66" width="27.30" height="9.43" fill="#48a46e"/>
<rect x="213.77" y="398.66" width="9.43" height="9.43" fill="#78c050"/>
<rect x="222.71" y="398.66" width="18.37" height="9.43" fill="#48a46e"/>
<rect x="240.57" y="398.66" width="36.23" height="9.43" fill="#4a92b4"/>
<rect x="276.31" y="398.66" width="27.30" height="9.43" fill="#48a46e"/>
<rect x="303.11" y="398.66" width="18.37" height="9.43" fill="#d2dc5a"/>
<rect x="320.97" y="398.66" width="27.30" height="9.43" fill="#78c050"/>
<rect x="347.77" y="398.66" width="36.23" height="9.43" fill="#48a46e"/>
<rect x="383.50" y="398.66" width="18.37" height="9.43" fill="#d2dc5a"/>
<rect x="401.37" y="398.66" width="36.23" height="9.43" fill="#48a46e"/>
<rect x="437.10" y="398.66" width="9.43" height="9.43" fill="#f58c3a"/>
<rect x="446.04" y="398.66" width="9.43" height="9.43" fill="#e8542c"/>
<rect x="454.97" y="398.66" width="36.23" height="9.43" fill="#fac452"/>
<rect x="490.70" y="398.66" width="18.37" height="9.43" fill="#d2dc5a"/>
<rect x="508.57" y="398.66" width="36.23" height="9.43" fill="#78c050"/>
<rect x="544.30" y="398.66" width="36.23" height="9.43" fill="#d2dc5a"/>
<rect x="580.04" y="398.66" width="9.43" height="9.43" fill="#78c050"/>
<rect x="588.97" y="398.66" width="98.77" height="9.43" fill="#48a46e"/>
<rect x="687.23" y="398.66" width="116.63" height="9.43" fill="#4a92b4"/>
<rect x="803.37" y="398.66" width="18.37" height="9.43" fill="#6aaadc"/>
<rect x="821.23" y="398.66" width="18.37" height="9.43" fill="#4a92b4"/>
<rect x="124.44" y="407.58" width="9.43" height="9.43" fill="#e8542c"/>
<rect x="133.37" y="407.58" width="9.43" height="9.43" fill="#fac452"/>
<rect x="142.31" y="407.58" width="36.23" height="9.43" fill="#d2dc5a"/>
<rect x="178.04" y="407.58" width="36.23" height="9.43" fill="#78c050"/>
<rect x="213.77" y="407.58" width="9.43" height="9.43" fill="#e8542c"/>
<rect x="222.71" y="407.58" width="9.43" height="9.43" fill="#d2dc5a"/>
<rect x="231.64" y="407.58" width="89.83" height="9.43" fill="#48a46e"/>
<rect x="320.97" y="407.58" width="18.37" height="9.43" fill="#78c050"/>
<rect x="338.84" y="407.58" width="18.37" height="9.43" fill="#d2dc5a"/>
<rect x="356.70" y="407.58" width="27.30" height="9.43" fill="#48a46e"/>
<rect x="383.50" y="407.58" width="9.43" height="9.43" fill="#fac452"/>
<rect x="392.44" y="407.58" width="9.43" height="9.43" fill="#78c050"/>
<rect x="401.37" y="407.58" width="9.43" height="9.43" fill="#48a46e"/>
<rect x="410.30" y="407.58" width="9.43" height="9.43" fill="#4a92b4"/>
<rect x="419.24" y="407.58" width="18.37" height="9.43" fill="#48a46e"/>
<rect x="437.10" y="407.58" width="9.43" height="9.43" fill="#e8542c"/>
<rect x="446.04" y="407.58" width="9.43" height="9.43" fill="#fac452"/>
<rect x="454.97" y="407.58" width="27.30" height="9.43" fill="#78c050"/>
<rect x="481.77" y="407.58" width="27.30" height="9.43" fill="#d2dc5a"/>
<rect x="508.57" y="407.58" width="80.90" height="9.43" fill="#78c050"/>
<rect x="588.97" y="407.58" width="98.77" height="9.43" fill="#48a46e"/>
<rect x="687.23" y="407.58" width="116.63" height="9.43" fill="#4a92b4"/>
<rect x="803.37" y="407.58" width="9.43" height="9.43" fill="#6aaadc"/>
<rect x="812.30" y="407.58" width="27.30" height="9.43" fill="#4a92b4"/>
<rect x="124.44" y="416.51" width="9.43" height="9.43" fill="#f58c3a"/>
<rect x="133.37" y="416.51" width="45.17" height="9.43" fill="#e8542c"/>
<rect x="178.04" y="416.51" width="9.43" height="9.43" fill="#f58c3a"/>
<rect x="186.97" y="416.51" width="9.43" height="9.43" fill="#fac452"/>
<rect x="195.91" y="416.51" width="18.37" height="9.43" fill="#d2dc5a"/>
<rect x="213.77" y="416.51" width="18.37" height="9.43" fill="#fac452"/>
<rect x="231.64" y="416.51" width="9.43" height="9.43" fill="#d2dc5a"/>
<rect x="240.57" y="416.51" width="9.43" height="9.43" fill="#78c050"/>
<rect x="249.51" y="416.51" width="27.30" height="9.43" fill="#48a46e"/>
<rect x="276.31" y="416.51" width="9.43" height="9.43" fill="#78c050"/>
<rect x="285.24" y="416.51" width="9.43" height="9.43" fill="#d2dc5a"/>
<rect x="294.17" y="416.51" width="9.43" height="9.43" fill="#f58c3a"/>
<rect x="303.11" y="416.51" width="9.43" height="9.43" fill="#d2dc5a"/>
<rect x="312.04" y="416.51" width="9.43" height="9.43" fill="#f58c3a"/>
<rect x="320.97" y="416.51" width="27.30" height="9.43" fill="#e8542c"/>
<rect x="347.77" y="416.51" width="18.37" height="9.43" fill="#f58c3a"/>
<rect x="365.64" y="416.51" width="27.30" height="9.43" fill="#fac452"/>
<rect x="392.44" y="416.51" width="9.43" height="9.43" fill="#78c050"/>
<rect x="401.37" y="416.51" width="9.43" height="9.43" fill="#48a46e"/>
<rect x="410.30" y="416.51" width="9.43" height="9.43" fill="#4a92b4"/>
<rect x="419.24" y="416.51" width="18.37" height="9.43" fill="#78c050"/>
<rect x="437.10" y="416.51" width="63.03" height="9.43" fill="#48a46e"/>
<rect x="499.64" y="416.51" width="18.37" height="9.43" fill="#d2dc5a"/>
<rect x="517.50" y="416.51" width="63.03" height="9.43" fill="#78c050"/>
<rect x="580.04" y="416.51" width="107.70" height="9.43" fill="#48a46e"/>
<rect x="687.23" y="416.51" width="152.37" height="9.43" fill="#4a92b4"/>
<rect x="124.44" y="425.44" width="9.43" height="9.43" fill="#fac452"/>
<rect x="133.37" y="425.44" width="27.30" height="9.43" fill="#f58c3a"/>
<rect x="160.17" y="425.44" width="9.43" height="9.43" fill="#d62628"/>
<rect x="169.11" y="425.44" width="18.37" height="9.43" fill="#e8542c"/>
<rect x="186.97" y="425.44" width="27.30" height="9.43" fill="#fac452"/>
<rect x="213.77" y="425.44" width="54.10" height="9.43" fill="#d2dc5a"/>
<rect x="267.37" y="425.44" width="18.37" height="9.43" fill="#e8542c"/>
<rect x="285.24" y="425.44" width="54.10" height="9.43" fill="#d62628"/>
<rect x="338.84" y="425.44" width="27.30" height="9.43" fill="#e8542c"/>
<rect x="365.64" y="425.44" width="9.43" height="9.43" fill="#fac452"/>
<rect x="374.57" y="425.44" width="27.30" height="9.43" fill="#48a46e"/>
<rect x="401.37" y="425.44" width="27.30" height="9.43" fill="#4a92b4"/>
<rect x="428.17" y="425.44" width="9.43" height="9.43" fill="#48a46e"/>
<rect x="437.10" y="425.44" width="18.37" height="9.43" fill="#78c050"/>
<rect x="454.97" y="425.44" width="45.17" height="9.43" fill="#48a46e"/>
<rect x="499.64" y="425.44" width="9.43" height="9.43" fill="#d2dc5a"/>
<rect x="508.57" y="425.44" width="9.43" height="9.43" fill="#fac452"/>
<rect x="517.50" y="425.44" width="9.43" height="9.43" fill="#d2dc5a"/>
<rect x="526.44" y="425.44" width="18.37" height="9.43" fill="#78c050"/>
<rect x="544.30" y="425.44" width="9.43" height="9.43" fill="#48a46e"/>
<rect x="553.24" y="425.44" width="18.37" height="9.43" fill="#78c050"/>
<rect x="571.10" y="425.44" width="107.70" height="9.43" fill="#48a46e"/>
<rect x="678.30" y="425.44" width="161.30" height="9.43" fill="#4a92b4"/>
<rect x="124.44" y="434.36" width="9.43" height="9.43" fill="#d2dc5a"/>
<rect x="133.37" y="434.36" width="18.37" height="9.43" fill="#fac452"/>
<rect x="151.24" y="434.36" width="9.43" height="9.43" fill="#b01c22"/>
<rect x="160.17" y="434.36" width="27.30" height="9.43" fill="#d62628"/>
<rect x="186.97" y="434.36" width="9.43" height="9.43" fill="#e8542c"/>
<rect x="195.91" y="434.36" width="27.30" height="9.43" fill="#f58c3a"/>
<rect x="222.71" y="434.36" width="9.43" height="9.43" fill="#fac452"/>
<rect x="231.64" y="434.36" width="80.90" height="9.43" fill="#d62628"/>
<rect x="312.04" y="434.36" width="9.43" height="9.43" fill="#b01c22"/>
<rect x="320.97" y="434.36" width="18.37" height="9.43" fill="#d62628"/>
<rect x="338.84" y="434.36" width="18.37" height="9.43" fill="#e8542c"/>
<rect x="356.70" y="434.36" width="45.17" height="9.43" fill="#48a46e"/>
<rect x="401.37" y="434.36" width="18.37" height="9.43" fill="#4a92b4"/>
<rect x="419.24" y="434.36" width="9.43" height="9.43" fill="#48a46e"/>
<rect x="428.17" y="434.36" width="18.37" height="9.43" fill="#d2dc5a"/>
<rect x="446.04" y="434.36" width="54.10" height="9.43" fill="#48a46e"/>
<rect x="499.64" y="434.36" width="9.43" height="9.43" fill="#d2dc5a"/>
<rect x="508.57" y="434.36" width="9.43" height="9.43" fill="#48a46e"/>
<rect x="517.50" y="434.36" width="9.43" height="9.43" fill="#d2dc5a"/>
<rect x="526.44" y="434.36" width="45.17" height="9.43" fill="#78c050"/>
<rect x="571.10" y="434.36" width="36.23" height="9.43" fill="#48a46e"/>
<rect x="606.84" y="434.36" width="9.43" height="9.43" fill="#d2dc5a"/>
<rect x="615.77" y="434.36" width="54.10" height="9.43" fill="#48a46e"/>
<rect x="669.37" y="434.36" width="80.90" height="9.43" fill="#4a92b4"/>
<rect x="749.77" y="434.36" width="18.37" height="9.43" fill="#48a46e"/>
<rect x="767.63" y="434.36" width="71.97" height="9.43" fill="#4a92b4"/>
<rect x="124.44" y="443.29" width="9.43" height="9.43" fill="#d2dc5a"/>
<rect x="133.37" y="443.29" width="63.03" height="9.43" fill="#e8542c"/>
<rect x="195.91" y="443.29" width="18.37" height="9.43" fill="#f58c3a"/>
<rect x="213.77" y="443.29" width="18.37" height="9.43" fill="#fac452"/>
<rect x="231.64" y="443.29" width="80.90" height="9.43" fill="#d62628"/>
<rect x="312.04" y="443.29" width="9.43" height="9.43" fill="#b01c22"/>
<rect x="320.97" y="443.29" width="9.43" height="9.43" fill="#d62628"/>
<rect x="329.90" y="443.29" width="18.37" height="9.43" fill="#fac452"/>
<rect x="347.77" y="443.29" width="80.90" height="9.43" fill="#48a46e"/>
<rect x="428.17" y="443.29" width="18.37" height="9.43" fill="#d2dc5a"/>
<rect x="446.04" y="443.29" width="98.77" height="9.43" fill="#48a46e"/>
<rect x="544.30" y="443.29" width="18.37" height="9.43" fill="#d2dc5a"/>
<rect x="562.17" y="443.29" width="9.43" height="9.43" fill="#78c050"/>
<rect x="571.10" y="443.29" width="98.77" height="9.43" fill="#48a46e"/>
<rect x="669.37" y="443.29" width="98.77" height="9.43" fill="#4a92b4"/>
<rect x="767.63" y="443.29" width="18.37" height="9.43" fill="#48a46e"/>
<rect x="785.50" y="443.29" width="54.10" height="9.43" fill="#4a92b4"/>
<rect x="124.44" y="452.21" width="9.43" height="9.43" fill="#78c050"/>
<rect x="133.37" y="452.21" width="18.37" height="9.43" fill="#e8542c"/>
<rect x="151.24" y="452.21" width="9.43" height="9.43" fill="#fac452"/>
<rect x="160.17" y="452.21" width="54.10" height="9.43" fill="#d2dc5a"/>
<rect x="213.77" y="452.21" width="18.37" height="9.43" fill="#fac452"/>
<rect x="231.64" y="452.21" width="80.90" height="9.43" fill="#d62628"/>
<rect x="312.04" y="452.21" width="9.43" height="9.43" fill="#e8542c"/>
<rect x="320.97" y="452.21" width="9.43" height="9.43" fill="#fac452"/>
<rect x="329.90" y="452.21" width="9.43" height="9.43" fill="#d2dc5a"/>
<rect x="338.84" y="452.21" width="80.90" height="9.43" fill="#48a46e"/>
<rect x="419.24" y="452.21" width="9.43" height="9.43" fill="#d2dc5a"/>
<rect x="428.17" y="452.21" width="9.43" height="9.43" fill="#78c050"/>
<rect x="437.10" y="452.21" width="27.30" height="9.43" fill="#48a46e"/>
<rect x="463.90" y="452.21" width="36.23" height="9.43" fill="#4a92b4"/>
<rect x="499.64" y="452.21" width="36.23" height="9.43" fill="#48a46e"/>
<rect x="535.37" y="452.21" width="27.30" height="9.43" fill="#d2dc5a"/>
<rect x="562.17" y="452.21" width="18.37" height="9.43" fill="#78c050"/>
<rect x="580.04" y="452.21" width="18.37" height="9.43" fill="#48a46e"/>
<rect x="597.90" y="452.21" width="9.43" height="9.43" fill="#78c050"/>
<rect x="606.84" y="452.21" width="9.43" height="9.43" fill="#48a46e"/>
<rect x="615.77" y="452.21" width="223.83" height="9.43" fill="#4a92b4"/>
<rect x="124.44" y="461.14" width="9.43" height="9.43" fill="#78c050"/>
<rect x="133.37" y="461.14" width="18.37" height="9.43" fill="#fac452"/>
<rect x="151.24" y="461.14" width="45.17" height="9.43" fill="#d2dc5a"/>
<rect x="195.91" y="461.14" width="18.37" height="9.43" fill="#fac452"/>
<rect x="213.77" y="461.14" width="9.43" height="9.43" fill="#e8542c"/>
<rect x="222.71" y="461.14" width="36.23" height="9.43" fill="#d62628"/>
<rect x="258.44" y="461.14" width="54.10" height="9.43" fill="#e8542c"/>
<rect x="312.04" y="461.14" width="9.43" height="9.43" fill="#fac452"/>
<rect x="320.97" y="461.14" width="9.43" height="9.43" fill="#f58c3a"/>
<rect x="329.90" y="461.14" width="80.90" height="9.43" fill="#48a46e"/>
<rect x="410.30" y="461.14" width="9.43" height="9.43" fill="#fac452"/>
<rect x="419.24" y="461.14" width="9.43" height="9.43" fill="#d2dc5a"/>
<rect x="428.17" y="461.14" width="9.43" height="9.43" fill="#78c050"/>
<rect x="437.10" y="461.14" width="18.37" height="9.43" fill="#48a46e"/>
<rect x="454.97" y="461.14" width="45.17" height="9.43" fill="#4a92b4"/>
<rect x="499.64" y="461.14" width="36.23" height="9.43" fill="#48a46e"/>
<rect x="535.37" y="461.14" width="36.23" height="9.43" fill="#d2dc5a"/>
<rect x="571.10" y="461.14" width="27.30" height="9.43" fill="#78c050"/>
<rect x="597.90" y="461.14" width="36.23" height="9.43" fill="#48a46e"/>
<rect x="633.64" y="461.14" width="205.96" height="9.43" fill="#4a92b4"/>
<rect x="124.44" y="470.06" width="18.37" height="9.43" fill="#78c050"/>
<rect x="142.31" y="470.06" width="18.37" height="9.43" fill="#fac452"/>
<rect x="160.17" y="470.06" width="18.37" height="9.43" fill="#d2dc5a"/>
<rect x="178.04" y="470.06" width="27.30" height="9.43" fill="#fac452"/>
<rect x="204.84" y="470.06" width="36.23" height="9.43" fill="#d62628"/>
<rect x="240.57" y="470.06" width="71.97" height="9.43" fill="#e8542c"/>
<rect x="312.04" y="470.06" width="9.43" height="9.43" fill="#f58c3a"/>
<rect x="320.97" y="470.06" width="9.43" height="9.43" fill="#fac452"/>
<rect x="329.90" y="470.06" width="9.43" height="9.43" fill="#d2dc5a"/>
<rect x="338.84" y="470.06" width="9.43" height="9.43" fill="#78c050"/>
<rect x="347.77" y="470.06" width="18.37" height="9.43" fill="#48a46e"/>
<rect x="365.64" y="470.06" width="18.37" height="9.43" fill="#4a92b4"/>
<rect x="383.50" y="470.06" width="71.97" height="9.43" fill="#48a46e"/>
<rect x="454.97" y="470.06" width="63.03" height="9.43" fill="#4a92b4"/>
<rect x="517.50" y="470.06" width="27.30" height="9.43" fill="#48a46e"/>
<rect x="544.30" y="470.06" width="54.10" height="9.43" fill="#78c050"/>
<rect x="597.90" y="470.06" width="45.17" height="9.43" fill="#48a46e"/>
<rect x="642.57" y="470.06" width="197.03" height="9.43" fill="#4a92b4"/>
<rect x="124.44" y="478.99" width="18.37" height="9.43" fill="#78c050"/>
<rect x="142.31" y="478.99" width="9.43" height="9.43" fill="#e8542c"/>
<rect x="151.24" y="478.99" width="27.30" height="9.43" fill="#fac452"/>
<rect x="178.04" y="478.99" width="27.30" height="9.43" fill="#e8542c"/>
<rect x="204.84" y="478.99" width="36.23" height="9.43" fill="#d62628"/>
<rect x="240.57" y="478.99" width="71.97" height="9.43" fill="#e8542c"/>
<rect x="312.04" y="478.99" width="9.43" height="9.43" fill="#f58c3a"/>
<rect x="320.97" y="478.99" width="9.43" height="9.43" fill="#fac452"/>
<rect x="329.90" y="478.99" width="18.37" height="9.43" fill="#d2dc5a"/>
<rect x="347.77" y="478.99" width="18.37" height="9.43" fill="#48a46e"/>
<rect x="365.64" y="478.99" width="18.37" height="9.43" fill="#4a92b4"/>
<rect x="383.50" y="478.99" width="36.23" height="9.43" fill="#48a46e"/>
<rect x="419.24" y="478.99" width="98.77" height="9.43" fill="#4a92b4"/>
<rect x="517.50" y="478.99" width="36.23" height="9.43" fill="#48a46e"/>
<rect x="553.24" y="478.99" width="36.23" height="9.43" fill="#78c050"/>
<rect x="588.97" y="478.99" width="54.10" height="9.43" fill="#48a46e"/>
<rect x="642.57" y="478.99" width="125.57" height="9.43" fill="#4a92b4"/>
<rect x="767.63" y="478.99" width="9.43" height="9.43" fill="#6aaadc"/>
<rect x="776.57" y="478.99" width="9.43" height="9.43" fill="#96d2f2"/>
<rect x="785.50" y="478.99" width="9.43" height="9.43" fill="#6aaadc"/>
<rect x="794.43" y="478.99" width="36.23" height="9.43" fill="#4a92b4"/>
<rect x="830.17" y="478.99" width="9.43" height="9.43" fill="#6aaadc"/>
<rect x="124.44" y="487.92" width="9.43" height="9.43" fill="#78c050"/>
<rect x="133.37" y="487.92" width="9.43" height="9.43" fill="#fac452"/>
<rect x="142.31" y="487.92" width="27.30" height="9.43" fill="#d2dc5a"/>
<rect x="169.11" y="487.92" width="18.37" height="9.43" fill="#fac452"/>
<rect x="186.97" y="487.92" width="9.43" height="9.43" fill="#d62628"/>
<rect x="195.91" y="487.92" width="18.37" height="9.43" fill="#b01c22"/>
<rect x="213.77" y="487.92" width="27.30" height="9.43" fill="#d62628"/>
<rect x="240.57" y="487.92" width="45.17" height="9.43" fill="#e8542c"/>
<rect x="285.24" y="487.92" width="9.43" height="9.43" fill="#f58c3a"/>
<rect x="294.17" y="487.92" width="9.43" height="9.43" fill="#fac452"/>
<rect x="303.11" y="487.92" width="27.30" height="9.43" fill="#f58c3a"/>
<rect x="329.90" y="487.92" width="9.43" height="9.43" fill="#fac452"/>
<rect x="338.84" y="487.92" width="9.43" height="9.43" fill="#d2dc5a"/>
<rect x="347.77" y="487.92" width="27.30" height="9.43" fill="#48a46e"/>
<rect x="374.57" y="487.92" width="27.30" height="9.43" fill="#d2dc5a"/>
<rect x="401.37" y="487.92" width="18.37" height="9.43" fill="#48a46e"/>
<rect x="419.24" y="487.92" width="107.70" height="9.43" fill="#4a92b4"/>
<rect x="526.44" y="487.92" width="125.57" height="9.43" fill="#48a46e"/>
<rect x="651.50" y="487.92" width="125.57" height="9.43" fill="#4a92b4"/>
<rect x="776.57" y="487.92" width="9.43" height="9.43" fill="#6aaadc"/>
<rect x="785.50" y="487.92" width="36.23" height="9.43" fill="#96d2f2"/>
<rect x="821.23" y="487.92" width="9.43" height="9.43" fill="#6aaadc"/>
<rect x="830.17" y="487.92" width="9.43" height="9.43" fill="#cfeafa"/>
<rect x="124.44" y="496.84" width="9.43" height="9.43" fill="#78c050"/>
<rect x="133.37" y="496.84" width="18.37" height="9.43" fill="#e8542c"/>
<rect x="151.24" y="496.84" width="18.37" height="9.43" fill="#f58c3a"/>
<rect x="169.11" y="496.84" width="27.30" height="9.43" fill="#e8542c"/>
<rect x="195.91" y="496.84" width="45.17" height="9.43" fill="#d62628"/>
<rect x="240.57" y="496.84" width="36.23" height="9.43" fill="#e8542c"/>
<rect x="276.31" y="496.84" width="63.03" height="9.43" fill="#f58c3a"/>
<rect x="338.84" y="496.84" width="9.43" height="9.43" fill="#fac452"/>
<rect x="347.77" y="496.84" width="18.37" height="9.43" fill="#48a46e"/>
<rect x="365.64" y="496.84" width="9.43" height="9.43" fill="#78c050"/>
<rect x="374.57" y="496.84" width="27.30" height="9.43" fill="#e8542c"/>
<rect x="401.37" y="496.84" width="9.43" height="9.43" fill="#f58c3a"/>
<rect x="410.30" y="496.84" width="9.43" height="9.43" fill="#d62628"/>
<rect x="419.24" y="496.84" width="9.43" height="9.43" fill="#d2dc5a"/>
<rect x="428.17" y="496.84" width="107.70" height="9.43" fill="#4a92b4"/>
<rect x="535.37" y="496.84" width="125.57" height="9.43" fill="#48a46e"/>
<rect x="660.44" y="496.84" width="116.63" height="9.43" fill="#4a92b4"/>
<rect x="776.57" y="496.84" width="9.43" height="9.43" fill="#6aaadc"/>
<rect x="785.50" y="496.84" width="9.43" height="9.43" fill="#cfeafa"/>
<rect x="794.43" y="496.84" width="27.30" height="9.43" fill="#ffffff"/>
<rect x="821.23" y="496.84" width="18.37" height="9.43" fill="#cfeafa"/>
<rect x="124.44" y="505.77" width="9.43" height="9.43" fill="#78c050"/>
<rect x="133.37" y="505.77" width="18.37" height="9.43" fill="#d62628"/>
<rect x="151.24" y="505.77" width="9.43" height="9.43" fill="#e8542c"/>
<rect x="160.17" y="505.77" width="9.43" height="9.43" fill="#fac452"/>
<rect x="169.11" y="505.77" width="27.30" height="9.43" fill="#e8542c"/>
<rect x="195.91" y="505.77" width="36.23" height="9.43" fill="#d62628"/>
<rect x="231.64" y="505.77" width="27.30" height="9.43" fill="#e8542c"/>
<rect x="258.44" y="505.77" width="9.43" height="9.43" fill="#d62628"/>
<rect x="267.37" y="505.77" width="18.37" height="9.43" fill="#e8542c"/>
<rect x="285.24" y="505.77" width="9.43" height="9.43" fill="#f58c3a"/>
<rect x="294.17" y="505.77" width="9.43" height="9.43" fill="#d62628"/>
<rect x="303.11" y="505.77" width="45.17" height="9.43" fill="#e8542c"/>
<rect x="347.77" y="505.77" width="18.37" height="9.43" fill="#78c050"/>
<rect x="365.64" y="505.77" width="9.43" height="9.43" fill="#f58c3a"/>
<rect x="374.57" y="505.77" width="9.43" height="9.43" fill="#e8542c"/>
<rect x="383.50" y="505.77" width="9.43" height="9.43" fill="#fac452"/>
<rect x="392.44" y="505.77" width="9.43" height="9.43" fill="#d2dc5a"/>
<rect x="401.37" y="505.77" width="18.37" height="9.43" fill="#f58c3a"/>
<rect x="419.24" y="505.77" width="9.43" height="9.43" fill="#fac452"/>
<rect x="428.17" y="505.77" width="9.43" height="9.43" fill="#d2dc5a"/>
<rect x="437.10" y="505.77" width="9.43" height="9.43" fill="#f58c3a"/>
<rect x="446.04" y="505.77" width="9.43" height="9.43" fill="#78c050"/>
<rect x="454.97" y="505.77" width="9.43" height="9.43" fill="#4a92b4"/>
<rect x="463.90" y="505.77" width="18.37" height="9.43" fill="#6aaadc"/>
<rect x="481.77" y="505.77" width="89.83" height="9.43" fill="#4a92b4"/>
<rect x="571.10" y="505.77" width="98.77" height="9.43" fill="#48a46e"/>
<rect x="669.37" y="505.77" width="98.77" height="9.43" fill="#4a92b4"/>
<rect x="767.63" y="505.77" width="9.43" height="9.43" fill="#6aaadc"/>
<rect x="776.57" y="505.77" width="9.43" height="9.43" fill="#96d2f2"/>
<rect x="785.50" y="505.77" width="9.43" height="9.43" fill="#cfeafa"/>
<rect x="794.43" y="505.77" width="45.17" height="9.43" fill="#ffffff"/>
<rect x="124.44" y="514.69" width="18.37" height="9.43" fill="#e8542c"/>
<rect x="142.31" y="514.69" width="9.43" height="9.43" fill="#f58c3a"/>
<rect x="151.24" y="514.69" width="9.43" height="9.43" fill="#fac452"/>
<rect x="160.17" y="514.69" width="9.43" height="9.43" fill="#d2dc5a"/>
<rect x="169.11" y="514.69" width="27.30" height="9.43" fill="#fac452"/>
<rect x="195.91" y="514.69" width="36.23" height="9.43" fill="#d62628"/>
<rect x="231.64" y="514.69" width="18.37" height="9.43" fill="#e8542c"/>
<rect x="249.51" y="514.69" width="36.23" height="9.43" fill="#f58c3a"/>
<rect x="285.24" y="514.69" width="9.43" height="9.43" fill="#e8542c"/>
<rect x="294.17" y="514.69" width="36.23" height="9.43" fill="#d62628"/>
<rect x="329.90" y="514.69" width="18.37" height="9.43" fill="#e8542c"/>
<rect x="347.77" y="514.69" width="18.37" height="9.43" fill="#d2dc5a"/>
<rect x="365.64" y="514.69" width="9.43" height="9.43" fill="#fac452"/>
<rect x="374.57" y="514.69" width="27.30" height="9.43" fill="#d2dc5a"/>
<rect x="401.37" y="514.69" width="18.37" height="9.43" fill="#78c050"/>
<rect x="419.24" y="514.69" width="18.37" height="9.43" fill="#d2dc5a"/>
<rect x="437.10" y="514.69" width="9.43" height="9.43" fill="#f58c3a"/>
<rect x="446.04" y="514.69" width="9.43" height="9.43" fill="#48a46e"/>
<rect x="454.97" y="514.69" width="9.43" height="9.43" fill="#4a92b4"/>
<rect x="463.90" y="514.69" width="18.37" height="9.43" fill="#6aaadc"/>
<rect x="481.77" y="514.69" width="80.90" height="9.43" fill="#4a92b4"/>
<rect x="562.17" y="514.69" width="9.43" height="9.43" fill="#48a46e"/>
<rect x="571.10" y="514.69" width="9.43" height="9.43" fill="#78c050"/>
<rect x="580.04" y="514.69" width="9.43" height="9.43" fill="#e8542c"/>
<rect x="588.97" y="514.69" width="9.43" height="9.43" fill="#d2dc5a"/>
<rect x="597.90" y="514.69" width="27.30" height="9.43" fill="#48a46e"/>
<rect x="624.70" y="514.69" width="18.37" height="9.43" fill="#78c050"/>
<rect x="642.57" y="514.69" width="9.43" height="9.43" fill="#48a46e"/>
<rect x="651.50" y="514.69" width="9.43" height="9.43" fill="#d2dc5a"/>
<rect x="660.44" y="514.69" width="18.37" height="9.43" fill="#48a46e"/>
<rect x="678.30" y="514.69" width="89.83" height="9.43" fill="#4a92b4"/>
<rect x="767.63" y="514.69" width="9.43" height="9.43" fill="#6aaadc"/>
<rect x="776.57" y="514.69" width="9.43" height="9.43" fill="#96d2f2"/>
<rect x="785.50" y="514.69" width="9.43" height="9.43" fill="#cfeafa"/>
<rect x="794.43" y="514.69" width="45.17" height="9.43" fill="#ffffff"/>
<rect x="124.44" y="523.62" width="9.43" height="9.43" fill="#d62628"/>
<rect x="133.37" y="523.62" width="9.43" height="9.43" fill="#e8542c"/>
<rect x="142.31" y="523.62" width="9.43" height="9.43" fill="#fac452"/>
<rect x="151.24" y="523.62" width="9.43" height="9.43" fill="#d2dc5a"/>
<rect x="160.17" y="523.62" width="36.23" height="9.43" fill="#f58c3a"/>
<rect x="195.91" y="523.62" width="36.23" height="9.43" fill="#d62628"/>
<rect x="231.64" y="523.62" width="9.43" height="9.43" fill="#e8542c"/>
<rect x="240.57" y="523.62" width="27.30" height="9.43" fill="#f58c3a"/>
<rect x="267.37" y="523.62" width="54.10" height="9.43" fill="#d62628"/>
<rect x="320.97" y="523.62" width="27.30" height="9.43" fill="#e8542c"/>
<rect x="347.77" y="523.62" width="9.43" height="9.43" fill="#f58c3a"/>
<rect x="356.70" y="523.62" width="9.43" height="9.43" fill="#fac452"/>
<rect x="365.64" y="523.62" width="18.37" height="9.43" fill="#d2dc5a"/>
<rect x="383.50" y="523.62" width="9.43" height="9.43" fill="#fac452"/>
<rect x="392.44" y="523.62" width="9.43" height="9.43" fill="#d2dc5a"/>
<rect x="401.37" y="523.62" width="27.30" height="9.43" fill="#78c050"/>
<rect x="428.17" y="523.62" width="9.43" height="9.43" fill="#48a46e"/>
<rect x="437.10" y="523.62" width="9.43" height="9.43" fill="#d2dc5a"/>
<rect x="446.04" y="523.62" width="9.43" height="9.43" fill="#48a46e"/>
<rect x="454.97" y="523.62" width="9.43" height="9.43" fill="#4a92b4"/>
<rect x="463.90" y="523.62" width="36.23" height="9.43" fill="#6aaadc"/>
<rect x="499.64" y="523.62" width="63.03" height="9.43" fill="#4a92b4"/>
<rect x="562.17" y="523.62" width="9.43" height="9.43" fill="#48a46e"/>
<rect x="571.10" y="523.62" width="9.43" height="9.43" fill="#78c050"/>
<rect x="580.04" y="523.62" width="9.43" height="9.43" fill="#f58c3a"/>
<rect x="588.97" y="523.62" width="9.43" height="9.43" fill="#d2dc5a"/>
<rect x="597.90" y="523.62" width="18.37" height="9.43" fill="#78c050"/>
<rect x="615.77" y="523.62" width="18.37" height="9.43" fill="#48a46e"/>
<rect x="633.64" y="523.62" width="9.43" height="9.43" fill="#78c050"/>
<rect x="642.57" y="523.62" width="9.43" height="9.43" fill="#48a46e"/>
<rect x="651.50" y="523.62" width="9.43" height="9.43" fill="#78c050"/>
<rect x="660.44" y="523.62" width="18.37" height="9.43" fill="#48a46e"/>
<rect x="678.30" y="523.62" width="54.10" height="9.43" fill="#4a92b4"/>
<rect x="731.90" y="523.62" width="27.30" height="9.43" fill="#6aaadc"/>
<rect x="758.70" y="523.62" width="9.43" height="9.43" fill="#96d2f2"/>
<rect x="767.63" y="523.62" width="27.30" height="9.43" fill="#cfeafa"/>
<rect x="794.43" y="523.62" width="45.17" height="9.43" fill="#ffffff"/>
<rect x="124.44" y="532.54" width="9.43" height="9.43" fill="#e8542c"/>
<rect x="133.37" y="532.54" width="9.43" height="9.43" fill="#fac452"/>
<rect x="142.31" y="532.54" width="36.23" height="9.43" fill="#f58c3a"/>
<rect x="178.04" y="532.54" width="18.37" height="9.43" fill="#e8542c"/>
<rect x="195.91" y="532.54" width="9.43" height="9.43" fill="#b01c22"/>
<rect x="204.84" y="532.54" width="27.30" height="9.43" fill="#d62628"/>
<rect x="231.64" y="532.54" width="36.23" height="9.43" fill="#e8542c"/>
<rect x="267.37" y="532.54" width="9.43" height="9.43" fill="#d62628"/>
<rect x="276.31" y="532.54" width="9.43" height="9.43" fill="#b01c22"/>
<rect x="285.24" y="532.54" width="18.37" height="9.43" fill="#d62628"/>
<rect x="303.11" y="532.54" width="9.43" height="9.43" fill="#b01c22"/>
<rect x="312.04" y="532.54" width="18.37" height="9.43" fill="#d62628"/>
<rect x="329.90" y="532.54" width="9.43" height="9.43" fill="#e8542c"/>
<rect x="338.84" y="532.54" width="9.43" height="9.43" fill="#d62628"/>
<rect x="347.77" y="532.54" width="18.37" height="9.43" fill="#f58c3a"/>
<rect x="365.64" y="532.54" width="9.43" height="9.43" fill="#d2dc5a"/>
<rect x="374.57" y="532.54" width="18.37" height="9.43" fill="#fac452"/>
<rect x="392.44" y="532.54" width="9.43" height="9.43" fill="#d2dc5a"/>
<rect x="401.37" y="532.54" width="54.10" height="9.43" fill="#48a46e"/>
<rect x="454.97" y="532.54" width="27.30" height="9.43" fill="#4a92b4"/>
<rect x="481.77" y="532.54" width="18.37" height="9.43" fill="#96d2f2"/>
<rect x="499.64" y="532.54" width="54.10" height="9.43" fill="#6aaadc"/>
<rect x="553.24" y="532.54" width="9.43" height="9.43" fill="#4a92b4"/>
<rect x="562.17" y="532.54" width="9.43" height="9.43" fill="#48a46e"/>
<rect x="571.10" y="532.54" width="18.37" height="9.43" fill="#78c050"/>
<rect x="588.97" y="532.54" width="9.43" height="9.43" fill="#d2dc5a"/>
<rect x="597.90" y="532.54" width="18.37" height="9.43" fill="#78c050"/>
<rect x="615.77" y="532.54" width="71.97" height="9.43" fill="#48a46e"/>
<rect x="687.23" y="532.54" width="63.03" height="9.43" fill="#4a92b4"/>
<rect x="749.77" y="532.54" width="9.43" height="9.43" fill="#96d2f2"/>
<rect x="758.70" y="532.54" width="36.23" height="9.43" fill="#cfeafa"/>
<rect x="794.43" y="532.54" width="45.17" height="9.43" fill="#ffffff"/>
<rect x="124.44" y="541.47" width="18.37" height="9.43" fill="#f58c3a"/>
<rect x="142.31" y="541.47" width="9.43" height="9.43" fill="#fac452"/>
<rect x="151.24" y="541.47" width="18.37" height="9.43" fill="#d62628"/>
<rect x="169.11" y="541.47" width="18.37" height="9.43" fill="#e8542c"/>
<rect x="186.97" y="541.47" width="36.23" height="9.43" fill="#d62628"/>
<rect x="222.71" y="541.47" width="18.37" height="9.43" fill="#e8542c"/>
<rect x="240.57" y="541.47" width="80.90" height="9.43" fill="#d62628"/>
<rect x="320.97" y="541.47" width="71.97" height="9.43" fill="#e8542c"/>
<rect x="392.44" y="541.47" width="36.23" height="9.43" fill="#48a46e"/>
<rect x="428.17" y="541.47" width="9.43" height="9.43" fill="#4a92b4"/>
<rect x="437.10" y="541.47" width="27.30" height="9.43" fill="#48a46e"/>
<rect x="463.90" y="541.47" width="18.37" height="9.43" fill="#4a92b4"/>
<rect x="481.77" y="541.47" width="9.43" height="9.43" fill="#6aaadc"/>
<rect x="490.70" y="541.47" width="18.37" height="9.43" fill="#96d2f2"/>
<rect x="508.57" y="541.47" width="54.10" height="9.43" fill="#6aaadc"/>
<rect x="562.17" y="541.47" width="18.37" height="9.43" fill="#4a92b4"/>
<rect x="580.04" y="541.47" width="27.30" height="9.43" fill="#48a46e"/>
<rect x="606.84" y="541.47" width="18.37" height="9.43" fill="#78c050"/>
<rect x="624.70" y="541.47" width="9.43" height="9.43" fill="#48a46e"/>
<rect x="633.64" y="541.47" width="9.43" height="9.43" fill="#78c050"/>
<rect x="642.57" y="541.47" width="36.23" height="9.43" fill="#48a46e"/>
<rect x="678.30" y="541.47" width="71.97" height="9.43" fill="#4a92b4"/>
<rect x="749.77" y="541.47" width="9.43" height="9.43" fill="#6aaadc"/>
<rect x="758.70" y="541.47" width="9.43" height="9.43" fill="#96d2f2"/>
<rect x="767.63" y="541.47" width="18.37" height="9.43" fill="#cfeafa"/>
<rect x="785.50" y="541.47" width="54.10" height="9.43" fill="#ffffff"/>
<rect x="124.44" y="550.40" width="18.37" height="9.43" fill="#f58c3a"/>
<rect x="142.31" y="550.40" width="9.43" height="9.43" fill="#d2dc5a"/>
<rect x="151.24" y="550.40" width="9.43" height="9.43" fill="#b01c22"/>
<rect x="160.17" y="550.40" width="18.37" height="9.43" fill="#d62628"/>
<rect x="178.04" y="550.40" width="9.43" height="9.43" fill="#e8542c"/>
<rect x="186.97" y="550.40" width="9.43" height="9.43" fill="#d62628"/>
<rect x="195.91" y="550.40" width="45.17" height="9.43" fill="#e8542c"/>
<rect x="240.57" y="550.40" width="9.43" height="9.43" fill="#d62628"/>
<rect x="249.51" y="550.40" width="9.43" height="9.43" fill="#e8542c"/>
<rect x="258.44" y="550.40" width="63.03" height="9.43" fill="#d62628"/>
<rect x="320.97" y="550.40" width="63.03" height="9.43" fill="#e8542c"/>
<rect x="383.50" y="550.40" width="18.37" height="9.43" fill="#78c050"/>
<rect x="401.37" y="550.40" width="9.43" height="9.43" fill="#48a46e"/>
<rect x="410.30" y="550.40" width="36.23" height="9.43" fill="#4a92b4"/>
<rect x="446.04" y="550.40" width="27.30" height="9.43" fill="#48a46e"/>
<rect x="472.84" y="550.40" width="36.23" height="9.43" fill="#4a92b4"/>
<rect x="508.57" y="550.40" width="45.17" height="9.43" fill="#6aaadc"/>
<rect x="553.24" y="550.40" width="9.43" height="9.43" fill="#4a92b4"/>
<rect x="562.17" y="550.40" width="9.43" height="9.43" fill="#6aaadc"/>
<rect x="571.10" y="550.40" width="9.43" height="9.43" fill="#4a92b4"/>
<rect x="580.04" y="550.40" width="54.10" height="9.43" fill="#48a46e"/>
<rect x="633.64" y="550.40" width="18.37" height="9.43" fill="#78c050"/>
<rect x="651.50" y="550.40" width="9.43" height="9.43" fill="#48a46e"/>
<rect x="660.44" y="550.40" width="9.43" height="9.43" fill="#e8542c"/>
<rect x="669.37" y="550.40" width="9.43" height="9.43" fill="#78c050"/>
<rect x="678.30" y="550.40" width="18.37" height="9.43" fill="#48a46e"/>
<rect x="696.17" y="550.40" width="54.10" height="9.43" fill="#4a92b4"/>
<rect x="749.77" y="550.40" width="9.43" height="9.43" fill="#6aaadc"/>
<rect x="758.70" y="550.40" width="9.43" height="9.43" fill="#96d2f2"/>
<rect x="767.63" y="550.40" width="27.30" height="9.43" fill="#cfeafa"/>
<rect x="794.43" y="550.40" width="45.17" height="9.43" fill="#ffffff"/>
<rect x="124.44" y="559.32" width="18.37" height="9.43" fill="#f58c3a"/>
<rect x="142.31" y="559.32" width="18.37" height="9.43" fill="#d62628"/>
<rect x="160.17" y="559.32" width="63.03" height="9.43" fill="#e8542c"/>
<rect x="222.71" y="559.32" width="9.43" height="9.43" fill="#d62628"/>
<rect x="231.64" y="559.32" width="18.37" height="9.43" fill="#e8542c"/>
<rect x="249.51" y="559.32" width="9.43" height="9.43" fill="#d62628"/>
<rect x="258.44" y="559.32" width="9.43" height="9.43" fill="#e8542c"/>
<rect x="267.37" y="559.32" width="27.30" height="9.43" fill="#d62628"/>
<rect x="294.17" y="559.32" width="9.43" height="9.43" fill="#e8542c"/>
<rect x="303.11" y="559.32" width="9.43" height="9.43" fill="#d62628"/>
<rect x="312.04" y="559.32" width="54.10" height="9.43" fill="#e8542c"/>
<rect x="365.64" y="559.32" width="18.37" height="9.43" fill="#d2dc5a"/>
<rect x="383.50" y="559.32" width="9.43" height="9.43" fill="#78c050"/>
<rect x="392.44" y="559.32" width="18.37" height="9.43" fill="#48a46e"/>
<rect x="410.30" y="559.32" width="63.03" height="9.43" fill="#4a92b4"/>
<rect x="472.84" y="559.32" width="9.43" height="9.43" fill="#6aaadc"/>
<rect x="481.77" y="559.32" width="9.43" height="9.43" fill="#4a92b4"/>
<rect x="490.70" y="559.32" width="18.37" height="9.43" fill="#96d2f2"/>
<rect x="508.57" y="559.32" width="9.43" height="9.43" fill="#6aaadc"/>
<rect x="517.50" y="559.32" width="18.37" height="9.43" fill="#96d2f2"/>
<rect x="535.37" y="559.32" width="27.30" height="9.43" fill="#cfeafa"/>
<rect x="562.17" y="559.32" width="18.37" height="9.43" fill="#6aaadc"/>
<rect x="580.04" y="559.32" width="27.30" height="9.43" fill="#4a92b4"/>
<rect x="606.84" y="559.32" width="54.10" height="9.43" fill="#48a46e"/>
<rect x="660.44" y="559.32" width="9.43" height="9.43" fill="#d2dc5a"/>
<rect x="669.37" y="559.32" width="27.30" height="9.43" fill="#48a46e"/>
<rect x="696.17" y="559.32" width="45.17" height="9.43" fill="#4a92b4"/>
<rect x="740.83" y="559.32" width="18.37" height="9.43" fill="#6aaadc"/>
<rect x="758.70" y="559.32" width="9.43" height="9.43" fill="#96d2f2"/>
<rect x="767.63" y="559.32" width="18.37" height="9.43" fill="#cfeafa"/>
<rect x="785.50" y="559.32" width="54.10" height="9.43" fill="#ffffff"/>
<rect x="124.44" y="568.25" width="9.43" height="9.43" fill="#fac452"/>
<rect x="133.37" y="568.25" width="9.43" height="9.43" fill="#e8542c"/>
<rect x="142.31" y="568.25" width="54.10" height="9.43" fill="#d62628"/>
<rect x="195.91" y="568.25" width="27.30" height="9.43" fill="#e8542c"/>
<rect x="222.71" y="568.25" width="27.30" height="9.43" fill="#d62628"/>
<rect x="249.51" y="568.25" width="9.43" height="9.43" fill="#e8542c"/>
<rect x="258.44" y="568.25" width="27.30" height="9.43" fill="#b01c22"/>
<rect x="285.24" y="568.25" width="9.43" height="9.43" fill="#d62628"/>
<rect x="294.17" y="568.25" width="54.10" height="9.43" fill="#e8542c"/>
<rect x="347.77" y="568.25" width="9.43" height="9.43" fill="#d62628"/>
<rect x="356.70" y="568.25" width="9.43" height="9.43" fill="#e8542c"/>
<rect x="365.64" y="568.25" width="9.43" height="9.43" fill="#d2dc5a"/>
<rect x="374.57" y="568.25" width="9.43" height="9.43" fill="#78c050"/>
<rect x="383.50" y="568.25" width="27.30" height="9.43" fill="#48a46e"/>
<rect x="410.30" y="568.25" width="54.10" height="9.43" fill="#4a92b4"/>
<rect x="463.90" y="568.25" width="9.43" height="9.43" fill="#96d2f2"/>
<rect x="472.84" y="568.25" width="18.37" height="9.43" fill="#cfeafa"/>
<rect x="490.70" y="568.25" width="36.23" height="9.43" fill="#96d2f2"/>
<rect x="526.44" y="568.25" width="36.23" height="9.43" fill="#cfeafa"/>
<rect x="562.17" y="568.25" width="18.37" height="9.43" fill="#6aaadc"/>
<rect x="580.04" y="568.25" width="27.30" height="9.43" fill="#4a92b4"/>
<rect x="606.84" y="568.25" width="54.10" height="9.43" fill="#48a46e"/>
<rect x="660.44" y="568.25" width="9.43" height="9.43" fill="#e8542c"/>
<rect x="669.37" y="568.25" width="9.43" height="9.43" fill="#d2dc5a"/>
<rect x="678.30" y="568.25" width="9.43" height="9.43" fill="#78c050"/>
<rect x="687.23" y="568.25" width="9.43" height="9.43" fill="#48a46e"/>
<rect x="696.17" y="568.25" width="45.17" height="9.43" fill="#4a92b4"/>
<rect x="740.83" y="568.25" width="9.43" height="9.43" fill="#6aaadc"/>
<rect x="749.77" y="568.25" width="9.43" height="9.43" fill="#96d2f2"/>
<rect x="758.70" y="568.25" width="9.43" height="9.43" fill="#cfeafa"/>
<rect x="767.63" y="568.25" width="45.17" height="9.43" fill="#6aaadc"/>
<rect x="812.30" y="568.25" width="27.30" height="9.43" fill="#cfeafa"/>
<rect x="124.44" y="577.17" width="9.43" height="9.43" fill="#e8542c"/>
<rect x="133.37" y="577.17" width="9.43" height="9.43" fill="#d62628"/>
<rect x="142.31" y="577.17" width="9.43" height="9.43" fill="#b01c22"/>
<rect x="151.24" y="577.17" width="45.17" height="9.43" fill="#d62628"/>
<rect x="195.91" y="577.17" width="36.23" height="9.43" fill="#e8542c"/>
<rect x="231.64" y="577.17" width="98.77" height="9.43" fill="#d62628"/>
<rect x="329.90" y="577.17" width="18.37" height="9.43" fill="#e8542c"/>
<rect x="347.77" y="577.17" width="9.43" height="9.43" fill="#d62628"/>
<rect x="356.70" y="577.17" width="9.43" height="9.43" fill="#fac452"/>
<rect x="365.64" y="577.17" width="9.43" height="9.43" fill="#d2dc5a"/>
<rect x="374.57" y="577.17" width="9.43" height="9.43" fill="#78c050"/>
<rect x="383.50" y="577.17" width="36.23" height="9.43" fill="#48a46e"/>
<rect x="419.24" y="577.17" width="36.23" height="9.43" fill="#4a92b4"/>
<rect x="454.97" y="577.17" width="9.43" height="9.43" fill="#6aaadc"/>
<rect x="463.90" y="577.17" width="9.43" height="9.43" fill="#96d2f2"/>
<rect x="472.84" y="577.17" width="89.83" height="9.43" fill="#cfeafa"/>
<rect x="562.17" y="577.17" width="9.43" height="9.43" fill="#96d2f2"/>
<rect x="571.10" y="577.17" width="36.23" height="9.43" fill="#6aaadc"/>
<rect x="606.84" y="577.17" width="18.37" height="9.43" fill="#e8542c"/>
<rect x="624.70" y="577.17" width="36.23" height="9.43" fill="#48a46e"/>
<rect x="660.44" y="577.17" width="36.23" height="9.43" fill="#78c050"/>
<rect x="696.17" y="577.17" width="18.37" height="9.43" fill="#48a46e"/>
<rect x="714.03" y="577.17" width="27.30" height="9.43" fill="#4a92b4"/>
<rect x="740.83" y="577.17" width="9.43" height="9.43" fill="#6aaadc"/>
<rect x="749.77" y="577.17" width="9.43" height="9.43" fill="#96d2f2"/>
<rect x="758.70" y="577.17" width="18.37" height="9.43" fill="#cfeafa"/>
<rect x="776.57" y="577.17" width="45.17" height="9.43" fill="#6aaadc"/>
<rect x="821.23" y="577.17" width="18.37" height="9.43" fill="#cfeafa"/>
<rect x="124.44" y="586.10" width="45.17" height="9.43" fill="#d62628"/>
<rect x="169.11" y="586.10" width="9.43" height="9.43" fill="#b01c22"/>
<rect x="178.04" y="586.10" width="9.43" height="9.43" fill="#d62628"/>
<rect x="186.97" y="586.10" width="18.37" height="9.43" fill="#e8542c"/>
<rect x="204.84" y="586.10" width="9.43" height="9.43" fill="#f58c3a"/>
<rect x="213.77" y="586.10" width="63.03" height="9.43" fill="#e8542c"/>
<rect x="276.31" y="586.10" width="36.23" height="9.43" fill="#d62628"/>
<rect x="312.04" y="586.10" width="9.43" height="9.43" fill="#b01c22"/>
<rect x="320.97" y="586.10" width="9.43" height="9.43" fill="#d62628"/>
<rect x="329.90" y="586.10" width="9.43" height="9.43" fill="#e8542c"/>
<rect x="338.84" y="586.10" width="9.43" height="9.43" fill="#f58c3a"/>
<rect x="347.77" y="586.10" width="27.30" height="9.43" fill="#d2dc5a"/>
<rect x="374.57" y="586.10" width="9.43" height="9.43" fill="#78c050"/>
<rect x="383.50" y="586.10" width="36.23" height="9.43" fill="#48a46e"/>
<rect x="419.24" y="586.10" width="36.23" height="9.43" fill="#4a92b4"/>
<rect x="454.97" y="586.10" width="9.43" height="9.43" fill="#6aaadc"/>
<rect x="463.90" y="586.10" width="9.43" height="9.43" fill="#96d2f2"/>
<rect x="472.84" y="586.10" width="9.43" height="9.43" fill="#cfeafa"/>
<rect x="481.77" y="586.10" width="36.23" height="9.43" fill="#ffffff"/>
<rect x="517.50" y="586.10" width="71.97" height="9.43" fill="#cfeafa"/>
<rect x="588.97" y="586.10" width="9.43" height="9.43" fill="#96d2f2"/>
<rect x="597.90" y="586.10" width="9.43" height="9.43" fill="#6aaadc"/>
<rect x="606.84" y="586.10" width="18.37" height="9.43" fill="#e8542c"/>
<rect x="624.70" y="586.10" width="9.43" height="9.43" fill="#d2dc5a"/>
<rect x="633.64" y="586.10" width="36.23" height="9.43" fill="#48a46e"/>
<rect x="669.37" y="586.10" width="36.23" height="9.43" fill="#78c050"/>
<rect x="705.10" y="586.10" width="18.37" height="9.43" fill="#48a46e"/>
<rect x="722.97" y="586.10" width="18.37" height="9.43" fill="#4a92b4"/>
<rect x="740.83" y="586.10" width="9.43" height="9.43" fill="#6aaadc"/>
<rect x="749.77" y="586.10" width="9.43" height="9.43" fill="#96d2f2"/>
<rect x="758.70" y="586.10" width="18.37" height="9.43" fill="#6aaadc"/>
<rect x="776.57" y="586.10" width="9.43" height="9.43" fill="#4a92b4"/>
<rect x="785.50" y="586.10" width="54.10" height="9.43" fill="#6aaadc"/>
<rect x="124.44" y="595.02" width="36.23" height="9.43" fill="#d62628"/>
<rect x="160.17" y="595.02" width="9.43" height="9.43" fill="#e8542c"/>
<rect x="169.11" y="595.02" width="9.43" height="9.43" fill="#d62628"/>
<rect x="178.04" y="595.02" width="9.43" height="9.43" fill="#e8542c"/>
<rect x="186.97" y="595.02" width="9.43" height="9.43" fill="#fac452"/>
<rect x="195.91" y="595.02" width="9.43" height="9.43" fill="#d2dc5a"/>
<rect x="204.84" y="595.02" width="9.43" height="9.43" fill="#fac452"/>
<rect x="213.77" y="595.02" width="63.03" height="9.43" fill="#e8542c"/>
<rect x="276.31" y="595.02" width="45.17" height="9.43" fill="#d62628"/>
<rect x="320.97" y="595.02" width="18.37" height="9.43" fill="#e8542c"/>
<rect x="338.84" y="595.02" width="18.37" height="9.43" fill="#f58c3a"/>
<rect x="356.70" y="595.02" width="18.37" height="9.43" fill="#d2dc5a"/>
<rect x="374.57" y="595.02" width="9.43" height="9.43" fill="#78c050"/>
<rect x="383.50" y="595.02" width="63.03" height="9.43" fill="#48a46e"/>
<rect x="446.04" y="595.02" width="18.37" height="9.43" fill="#4a92b4"/>
<rect x="463.90" y="595.02" width="9.43" height="9.43" fill="#96d2f2"/>
<rect x="472.84" y="595.02" width="9.43" height="9.43" fill="#cfeafa"/>
<rect x="481.77" y="595.02" width="45.17" height="9.43" fill="#ffffff"/>
<rect x="526.44" y="595.02" width="27.30" height="9.43" fill="#cfeafa"/>
<rect x="553.24" y="595.02" width="9.43" height="9.43" fill="#ffffff"/>
<rect x="562.17" y="595.02" width="45.17" height="9.43" fill="#cfeafa"/>
<rect x="606.84" y="595.02" width="125.57" height="9.43" fill="#48a46e"/>
<rect x="731.90" y="595.02" width="27.30" height="9.43" fill="#4a92b4"/>
<rect x="758.70" y="595.02" width="27.30" height="9.43" fill="#48a46e"/>
<rect x="785.50" y="595.02" width="9.43" height="9.43" fill="#6aaadc"/>
<rect x="794.43" y="595.02" width="9.43" height="9.43" fill="#48a46e"/>
<rect x="803.37" y="595.02" width="27.30" height="9.43" fill="#6aaadc"/>
<rect x="830.17" y="595.02" width="9.43" height="9.43" fill="#cfeafa"/>
<rect x="124.44" y="603.95" width="45.17" height="9.43" fill="#e8542c"/>
<rect x="169.11" y="603.95" width="9.43" height="9.43" fill="#f58c3a"/>
<rect x="178.04" y="603.95" width="9.43" height="9.43" fill="#e8542c"/>
<rect x="186.97" y="603.95" width="18.37" height="9.43" fill="#d2dc5a"/>
<rect x="204.84" y="603.95" width="80.90" height="9.43" fill="#e8542c"/>
<rect x="285.24" y="603.95" width="9.43" height="9.43" fill="#b01c22"/>
<rect x="294.17" y="603.95" width="18.37" height="9.43" fill="#d62628"/>
<rect x="312.04" y="603.95" width="27.30" height="9.43" fill="#e8542c"/>
<rect x="338.84" y="603.95" width="18.37" height="9.43" fill="#f58c3a"/>
<rect x="356.70" y="603.95" width="9.43" height="9.43" fill="#e8542c"/>
<rect x="365.64" y="603.95" width="18.37" height="9.43" fill="#78c050"/>
<rect x="383.50" y="603.95" width="71.97" height="9.43" fill="#48a46e"/>
<rect x="454.97" y="603.95" width="9.43" height="9.43" fill="#4a92b4"/>
<rect x="463.90" y="603.95" width="9.43" height="9.43" fill="#96d2f2"/>
<rect x="472.84" y="603.95" width="9.43" height="9.43" fill="#cfeafa"/>
<rect x="481.77" y="603.95" width="45.17" height="9.43" fill="#ffffff"/>
<rect x="526.44" y="603.95" width="27.30" height="9.43" fill="#cfeafa"/>
<rect x="553.24" y="603.95" width="9.43" height="9.43" fill="#ffffff"/>
<rect x="562.17" y="603.95" width="54.10" height="9.43" fill="#cfeafa"/>
<rect x="615.77" y="603.95" width="9.43" height="9.43" fill="#4a92b4"/>
<rect x="624.70" y="603.95" width="125.57" height="9.43" fill="#48a46e"/>
<rect x="749.77" y="603.95" width="18.37" height="9.43" fill="#4a92b4"/>
<rect x="767.63" y="603.95" width="63.03" height="9.43" fill="#6aaadc"/>
<rect x="830.17" y="603.95" width="9.43" height="9.43" fill="#cfeafa"/>
<rect x="124.44" y="612.88" width="18.37" height="9.43" fill="#fac452"/>
<rect x="142.31" y="612.88" width="27.30" height="9.43" fill="#f58c3a"/>
<rect x="169.11" y="612.88" width="9.43" height="9.43" fill="#fac452"/>
<rect x="178.04" y="612.88" width="9.43" height="9.43" fill="#e8542c"/>
<rect x="186.97" y="612.88" width="9.43" height="9.43" fill="#fac452"/>
<rect x="195.91" y="612.88" width="45.17" height="9.43" fill="#e8542c"/>
<rect x="240.57" y="612.88" width="9.43" height="9.43" fill="#f58c3a"/>
<rect x="249.51" y="612.88" width="18.37" height="9.43" fill="#e8542c"/>
<rect x="267.37" y="612.88" width="18.37" height="9.43" fill="#d62628"/>
<rect x="285.24" y="612.88" width="54.10" height="9.43" fill="#e8542c"/>
<rect x="338.84" y="612.88" width="27.30" height="9.43" fill="#f58c3a"/>
<rect x="365.64" y="612.88" width="9.43" height="9.43" fill="#d2dc5a"/>
<rect x="374.57" y="612.88" width="18.37" height="9.43" fill="#78c050"/>
<rect x="392.44" y="612.88" width="63.03" height="9.43" fill="#48a46e"/>
<rect x="454.97" y="612.88" width="9.43" height="9.43" fill="#4a92b4"/>
<rect x="463.90" y="612.88" width="9.43" height="9.43" fill="#6aaadc"/>
<rect x="472.84" y="612.88" width="143.43" height="9.43" fill="#cfeafa"/>
<rect x="615.77" y="612.88" width="9.43" height="9.43" fill="#96d2f2"/>
<rect x="624.70" y="612.88" width="9.43" height="9.43" fill="#4a92b4"/>
<rect x="633.64" y="612.88" width="80.90" height="9.43" fill="#48a46e"/>
<rect x="714.03" y="612.88" width="18.37" height="9.43" fill="#78c050"/>
<rect x="731.90" y="612.88" width="18.37" height="9.43" fill="#48a46e"/>
<rect x="749.77" y="612.88" width="27.30" height="9.43" fill="#4a92b4"/>
<rect x="776.57" y="612.88" width="36.23" height="9.43" fill="#6aaadc"/>
<rect x="812.30" y="612.88" width="9.43" height="9.43" fill="#4a92b4"/>
<rect x="821.23" y="612.88" width="18.37" height="9.43" fill="#6aaadc"/>
<rect x="124.44" y="621.80" width="9.43" height="9.43" fill="#78c050"/>
<rect x="133.37" y="621.80" width="18.37" height="9.43" fill="#d2dc5a"/>
<rect x="151.24" y="621.80" width="9.43" height="9.43" fill="#f58c3a"/>
<rect x="160.17" y="621.80" width="9.43" height="9.43" fill="#e8542c"/>
<rect x="169.11" y="621.80" width="9.43" height="9.43" fill="#fac452"/>
<rect x="178.04" y="621.80" width="9.43" height="9.43" fill="#d2dc5a"/>
<rect x="186.97" y="621.80" width="9.43" height="9.43" fill="#f58c3a"/>
<rect x="195.91" y="621.80" width="27.30" height="9.43" fill="#e8542c"/>
<rect x="222.71" y="621.80" width="18.37" height="9.43" fill="#f58c3a"/>
<rect x="240.57" y="621.80" width="27.30" height="9.43" fill="#e8542c"/>
<rect x="267.37" y="621.80" width="18.37" height="9.43" fill="#d62628"/>
<rect x="285.24" y="621.80" width="9.43" height="9.43" fill="#e8542c"/>
<rect x="294.17" y="621.80" width="9.43" height="9.43" fill="#f58c3a"/>
<rect x="303.11" y="621.80" width="36.23" height="9.43" fill="#e8542c"/>
<rect x="338.84" y="621.80" width="27.30" height="9.43" fill="#f58c3a"/>
<rect x="365.64" y="621.80" width="18.37" height="9.43" fill="#fac452"/>
<rect x="383.50" y="621.80" width="9.43" height="9.43" fill="#d2dc5a"/>
<rect x="392.44" y="621.80" width="63.03" height="9.43" fill="#48a46e"/>
<rect x="454.97" y="621.80" width="9.43" height="9.43" fill="#4a92b4"/>
<rect x="463.90" y="621.80" width="9.43" height="9.43" fill="#6aaadc"/>
<rect x="472.84" y="621.80" width="9.43" height="9.43" fill="#96d2f2"/>
<rect x="481.77" y="621.80" width="9.43" height="9.43" fill="#6aaadc"/>
<rect x="490.70" y="621.80" width="9.43" height="9.43" fill="#cfeafa"/>
<rect x="499.64" y="621.80" width="9.43" height="9.43" fill="#96d2f2"/>
<rect x="508.57" y="621.80" width="9.43" height="9.43" fill="#cfeafa"/>
<rect x="517.50" y="621.80" width="9.43" height="9.43" fill="#ffffff"/>
<rect x="526.44" y="621.80" width="89.83" height="9.43" fill="#cfeafa"/>
<rect x="615.77" y="621.80" width="9.43" height="9.43" fill="#96d2f2"/>
<rect x="624.70" y="621.80" width="9.43" height="9.43" fill="#4a92b4"/>
<rect x="633.64" y="621.80" width="116.63" height="9.43" fill="#48a46e"/>
<rect x="749.77" y="621.80" width="36.23" height="9.43" fill="#4a92b4"/>
<rect x="785.50" y="621.80" width="54.10" height="9.43" fill="#6aaadc"/>
<rect x="124.44" y="630.73" width="27.30" height="9.43" fill="#78c050"/>
<rect x="151.24" y="630.73" width="9.43" height="9.43" fill="#48a46e"/>
<rect x="160.17" y="630.73" width="18.37" height="9.43" fill="#fac452"/>
<rect x="178.04" y="630.73" width="9.43" height="9.43" fill="#f58c3a"/>
<rect x="186.97" y="630.73" width="36.23" height="9.43" fill="#e8542c"/>
<rect x="222.71" y="630.73" width="36.23" height="9.43" fill="#f58c3a"/>
<rect x="258.44" y="630.73" width="27.30" height="9.43" fill="#e8542c"/>
<rect x="285.24" y="630.73" width="27.30" height="9.43" fill="#fac452"/>
<rect x="312.04" y="630.73" width="9.43" height="9.43" fill="#d2dc5a"/>
<rect x="320.97" y="630.73" width="9.43" height="9.43" fill="#fac452"/>
<rect x="329.90" y="630.73" width="9.43" height="9.43" fill="#d2dc5a"/>
<rect x="338.84" y="630.73" width="9.43" height="9.43" fill="#e8542c"/>
<rect x="347.77" y="630.73" width="36.23" height="9.43" fill="#fac452"/>
<rect x="383.50" y="630.73" width="18.37" height="9.43" fill="#78c050"/>
<rect x="401.37" y="630.73" width="54.10" height="9.43" fill="#48a46e"/>
<rect x="454.97" y="630.73" width="18.37" height="9.43" fill="#4a92b4"/>
<rect x="472.84" y="630.73" width="18.37" height="9.43" fill="#6aaadc"/>
<rect x="490.70" y="630.73" width="18.37" height="9.43" fill="#96d2f2"/>
<rect x="508.57" y="630.73" width="18.37" height="9.43" fill="#cfeafa"/>
<rect x="526.44" y="630.73" width="54.10" height="9.43" fill="#ffffff"/>
<rect x="580.04" y="630.73" width="9.43" height="9.43" fill="#cfeafa"/>
<rect x="588.97" y="630.73" width="9.43" height="9.43" fill="#ffffff"/>
<rect x="597.90" y="630.73" width="27.30" height="9.43" fill="#cfeafa"/>
<rect x="624.70" y="630.73" width="9.43" height="9.43" fill="#6aaadc"/>
<rect x="633.64" y="630.73" width="27.30" height="9.43" fill="#4a92b4"/>
<rect x="660.44" y="630.73" width="89.83" height="9.43" fill="#48a46e"/>
<rect x="749.77" y="630.73" width="71.97" height="9.43" fill="#4a92b4"/>
<rect x="821.23" y="630.73" width="18.37" height="9.43" fill="#6aaadc"/>
<rect x="124.44" y="639.65" width="45.17" height="9.43" fill="#78c050"/>
<rect x="169.11" y="639.65" width="9.43" height="9.43" fill="#d2dc5a"/>
<rect x="178.04" y="639.65" width="9.43" height="9.43" fill="#fac452"/>
<rect x="186.97" y="639.65" width="27.30" height="9.43" fill="#e8542c"/>
<rect x="213.77" y="639.65" width="18.37" height="9.43" fill="#f58c3a"/>
<rect x="231.64" y="639.65" width="18.37" height="9.43" fill="#fac452"/>
<rect x="249.51" y="639.65" width="9.43" height="9.43" fill="#d2dc5a"/>
<rect x="258.44" y="639.65" width="18.37" height="9.43" fill="#fac452"/>
<rect x="276.31" y="639.65" width="63.03" height="9.43" fill="#d2dc5a"/>
<rect x="338.84" y="639.65" width="9.43" height="9.43" fill="#fac452"/>
<rect x="347.77" y="639.65" width="18.37" height="9.43" fill="#d2dc5a"/>
<rect x="365.64" y="639.65" width="9.43" height="9.43" fill="#fac452"/>
<rect x="374.57" y="639.65" width="9.43" height="9.43" fill="#d2dc5a"/>
<rect x="383.50" y="639.65" width="71.97" height="9.43" fill="#48a46e"/>
<rect x="454.97" y="639.65" width="27.30" height="9.43" fill="#4a92b4"/>
<rect x="481.77" y="639.65" width="18.37" height="9.43" fill="#6aaadc"/>
<rect x="499.64" y="639.65" width="9.43" height="9.43" fill="#96d2f2"/>
<rect x="508.57" y="639.65" width="18.37" height="9.43" fill="#cfeafa"/>
<rect x="526.44" y="639.65" width="45.17" height="9.43" fill="#ffffff"/>
<rect x="571.10" y="639.65" width="18.37" height="9.43" fill="#cfeafa"/>
<rect x="588.97" y="639.65" width="18.37" height="9.43" fill="#ffffff"/>
<rect x="606.84" y="639.65" width="27.30" height="9.43" fill="#cfeafa"/>
<rect x="633.64" y="639.65" width="9.43" height="9.43" fill="#6aaadc"/>
<rect x="642.57" y="639.65" width="18.37" height="9.43" fill="#4a92b4"/>
<rect x="660.44" y="639.65" width="63.03" height="9.43" fill="#48a46e"/>
<rect x="722.97" y="639.65" width="18.37" height="9.43" fill="#78c050"/>
<rect x="740.83" y="639.65" width="9.43" height="9.43" fill="#48a46e"/>
<rect x="749.77" y="639.65" width="71.97" height="9.43" fill="#4a92b4"/>
<rect x="821.23" y="639.65" width="18.37" height="9.43" fill="#6aaadc"/>
<rect x="124.44" y="648.58" width="27.30" height="9.43" fill="#d2dc5a"/>
<rect x="151.24" y="648.58" width="9.43" height="9.43" fill="#78c050"/>
<rect x="160.17" y="648.58" width="18.37" height="9.43" fill="#d2dc5a"/>
<rect x="178.04" y="648.58" width="9.43" height="9.43" fill="#f58c3a"/>
<rect x="186.97" y="648.58" width="18.37" height="9.43" fill="#e8542c"/>
<rect x="204.84" y="648.58" width="9.43" height="9.43" fill="#f58c3a"/>
<rect x="213.77" y="648.58" width="27.30" height="9.43" fill="#fac452"/>
<rect x="240.57" y="648.58" width="9.43" height="9.43" fill="#f58c3a"/>
<rect x="249.51" y="648.58" width="18.37" height="9.43" fill="#e8542c"/>
<rect x="267.37" y="648.58" width="9.43" height="9.43" fill="#d62628"/>
<rect x="276.31" y="648.58" width="9.43" height="9.43" fill="#e8542c"/>
<rect x="285.24" y="648.58" width="9.43" height="9.43" fill="#fac452"/>
<rect x="294.17" y="648.58" width="27.30" height="9.43" fill="#d2dc5a"/>
<rect x="320.97" y="648.58" width="9.43" height="9.43" fill="#78c050"/>
<rect x="329.90" y="648.58" width="9.43" height="9.43" fill="#d2dc5a"/>
<rect x="338.84" y="648.58" width="9.43" height="9.43" fill="#78c050"/>
<rect x="347.77" y="648.58" width="27.30" height="9.43" fill="#d2dc5a"/>
<rect x="374.57" y="648.58" width="9.43" height="9.43" fill="#78c050"/>
<rect x="383.50" y="648.58" width="80.90" height="9.43" fill="#48a46e"/>
<rect x="463.90" y="648.58" width="27.30" height="9.43" fill="#4a92b4"/>
<rect x="490.70" y="648.58" width="9.43" height="9.43" fill="#6aaadc"/>
<rect x="499.64" y="648.58" width="9.43" height="9.43" fill="#96d2f2"/>
<rect x="508.57" y="648.58" width="18.37" height="9.43" fill="#cfeafa"/>
<rect x="526.44" y="648.58" width="54.10" height="9.43" fill="#ffffff"/>
<rect x="580.04" y="648.58" width="9.43" height="9.43" fill="#cfeafa"/>
<rect x="588.97" y="648.58" width="27.30" height="9.43" fill="#ffffff"/>
<rect x="615.77" y="648.58" width="18.37" height="9.43" fill="#cfeafa"/>
<rect x="633.64" y="648.58" width="9.43" height="9.43" fill="#96d2f2"/>
<rect x="642.57" y="648.58" width="18.37" height="9.43" fill="#6aaadc"/>
<rect x="660.44" y="648.58" width="9.43" height="9.43" fill="#4a92b4"/>
<rect x="669.37" y="648.58" width="98.77" height="9.43" fill="#48a46e"/>
<rect x="767.63" y="648.58" width="18.37" height="9.43" fill="#4a92b4"/>
<rect x="785.50" y="648.58" width="27.30" height="9.43" fill="#6aaadc"/>
<rect x="812.30" y="648.58" width="9.43" height="9.43" fill="#4a92b4"/>
<rect x="821.23" y="648.58" width="18.37" height="9.43" fill="#6aaadc"/>
<rect x="124.44" y="657.50" width="9.43" height="9.43" fill="#fac452"/>
<rect x="133.37" y="657.50" width="45.17" height="9.43" fill="#d2dc5a"/>
<rect x="178.04" y="657.50" width="9.43" height="9.43" fill="#f58c3a"/>
<rect x="186.97" y="657.50" width="9.43" height="9.43" fill="#e8542c"/>
<rect x="195.91" y="657.50" width="18.37" height="9.43" fill="#f58c3a"/>
<rect x="213.77" y="657.50" width="18.37" height="9.43" fill="#fac452"/>
<rect x="231.64" y="657.50" width="9.43" height="9.43" fill="#f58c3a"/>
<rect x="240.57" y="657.50" width="27.30" height="9.43" fill="#e8542c"/>
<rect x="267.37" y="657.50" width="9.43" height="9.43" fill="#d62628"/>
<rect x="276.31" y="657.50" width="9.43" height="9.43" fill="#e8542c"/>
<rect x="285.24" y="657.50" width="36.23" height="9.43" fill="#78c050"/>
<rect x="320.97" y="657.50" width="54.10" height="9.43" fill="#d2dc5a"/>
<rect x="374.57" y="657.50" width="18.37" height="9.43" fill="#78c050"/>
<rect x="392.44" y="657.50" width="71.97" height="9.43" fill="#48a46e"/>
<rect x="463.90" y="657.50" width="27.30" height="9.43" fill="#4a92b4"/>
<rect x="490.70" y="657.50" width="18.37" height="9.43" fill="#6aaadc"/>
<rect x="508.57" y="657.50" width="9.43" height="9.43" fill="#96d2f2"/>
<rect x="517.50" y="657.50" width="9.43" height="9.43" fill="#cfeafa"/>
<rect x="526.44" y="657.50" width="54.10" height="9.43" fill="#ffffff"/>
<rect x="580.04" y="657.50" width="18.37" height="9.43" fill="#cfeafa"/>
<rect x="597.90" y="657.50" width="18.37" height="9.43" fill="#ffffff"/>
<rect x="615.77" y="657.50" width="18.37" height="9.43" fill="#cfeafa"/>
<rect x="633.64" y="657.50" width="9.43" height="9.43" fill="#96d2f2"/>
<rect x="642.57" y="657.50" width="18.37" height="9.43" fill="#6aaadc"/>
<rect x="660.44" y="657.50" width="18.37" height="9.43" fill="#4a92b4"/>
<rect x="678.30" y="657.50" width="89.83" height="9.43" fill="#48a46e"/>
<rect x="767.63" y="657.50" width="18.37" height="9.43" fill="#4a92b4"/>
<rect x="785.50" y="657.50" width="54.10" height="9.43" fill="#6aaadc"/>
<rect x="124.44" y="666.43" width="9.43" height="9.43" fill="#e8542c"/>
<rect x="133.37" y="666.43" width="18.37" height="9.43" fill="#fac452"/>
<rect x="151.24" y="666.43" width="27.30" height="9.43" fill="#d2dc5a"/>
<rect x="178.04" y="666.43" width="9.43" height="9.43" fill="#fac452"/>
<rect x="186.97" y="666.43" width="9.43" height="9.43" fill="#f58c3a"/>
<rect x="195.91" y="666.43" width="27.30" height="9.43" fill="#d2dc5a"/>
<rect x="222.71" y="666.43" width="45.17" height="9.43" fill="#f58c3a"/>
<rect x="267.37" y="666.43" width="9.43" height="9.43" fill="#e8542c"/>
<rect x="276.31" y="666.43" width="9.43" height="9.43" fill="#fac452"/>
<rect x="285.24" y="666.43" width="45.17" height="9.43" fill="#d2dc5a"/>
<rect x="329.90" y="666.43" width="9.43" height="9.43" fill="#f58c3a"/>
<rect x="338.84" y="666.43" width="9.43" height="9.43" fill="#e8542c"/>
<rect x="347.77" y="666.43" width="9.43" height="9.43" fill="#d62628"/>
<rect x="356.70" y="666.43" width="9.43" height="9.43" fill="#e8542c"/>
<rect x="365.64" y="666.43" width="27.30" height="9.43" fill="#78c050"/>
<rect x="392.44" y="666.43" width="18.37" height="9.43" fill="#d2dc5a"/>
<rect x="410.30" y="666.43" width="9.43" height="9.43" fill="#78c050"/>
<rect x="419.24" y="666.43" width="45.17" height="9.43" fill="#48a46e"/>
<rect x="463.90" y="666.43" width="36.23" height="9.43" fill="#4a92b4"/>
<rect x="499.64" y="666.43" width="9.43" height="9.43" fill="#6aaadc"/>
<rect x="508.57" y="666.43" width="9.43" height="9.43" fill="#96d2f2"/>
<rect x="517.50" y="666.43" width="9.43" height="9.43" fill="#cfeafa"/>
<rect x="526.44" y="666.43" width="54.10" height="9.43" fill="#ffffff"/>
<rect x="580.04" y="666.43" width="9.43" height="9.43" fill="#cfeafa"/>
<rect x="588.97" y="666.43" width="9.43" height="9.43" fill="#ffffff"/>
<rect x="597.90" y="666.43" width="27.30" height="9.43" fill="#cfeafa"/>
<rect x="624.70" y="666.43" width="18.37" height="9.43" fill="#96d2f2"/>
<rect x="642.57" y="666.43" width="27.30" height="9.43" fill="#6aaadc"/>
<rect x="669.37" y="666.43" width="9.43" height="9.43" fill="#4a92b4"/>
<rect x="678.30" y="666.43" width="63.03" height="9.43" fill="#48a46e"/>
<rect x="740.83" y="666.43" width="63.03" height="9.43" fill="#4a92b4"/>
<rect x="803.37" y="666.43" width="36.23" height="9.43" fill="#6aaadc"/>
<rect x="124.44" y="675.36" width="9.43" height="9.43" fill="#d62628"/>
<rect x="133.37" y="675.36" width="18.37" height="9.43" fill="#fac452"/>
<rect x="151.24" y="675.36" width="27.30" height="9.43" fill="#d2dc5a"/>
<rect x="178.04" y="675.36" width="27.30" height="9.43" fill="#78c050"/>
<rect x="204.84" y="675.36" width="9.43" height="9.43" fill="#d2dc5a"/>
<rect x="213.77" y="675.36" width="36.23" height="9.43" fill="#fac452"/>
<rect x="249.51" y="675.36" width="36.23" height="9.43" fill="#d2dc5a"/>
<rect x="285.24" y="675.36" width="9.43" height="9.43" fill="#f58c3a"/>
<rect x="294.17" y="675.36" width="9.43" height="9.43" fill="#fac452"/>
<rect x="303.11" y="675.36" width="18.37" height="9.43" fill="#78c050"/>
<rect x="320.97" y="675.36" width="18.37" height="9.43" fill="#e8542c"/>
<rect x="338.84" y="675.36" width="18.37" height="9.43" fill="#d62628"/>
<rect x="356.70" y="675.36" width="9.43" height="9.43" fill="#e8542c"/>
<rect x="365.64" y="675.36" width="9.43" height="9.43" fill="#d62628"/>
<rect x="374.57" y="675.36" width="9.43" height="9.43" fill="#fac452"/>
<rect x="383.50" y="675.36" width="18.37" height="9.43" fill="#e8542c"/>
<rect x="401.37" y="675.36" width="9.43" height="9.43" fill="#d2dc5a"/>
<rect x="410.30" y="675.36" width="54.10" height="9.43" fill="#48a46e"/>
<rect x="463.90" y="675.36" width="36.23" height="9.43" fill="#4a92b4"/>
<rect x="499.64" y="675.36" width="9.43" height="9.43" fill="#6aaadc"/>
<rect x="508.57" y="675.36" width="9.43" height="9.43" fill="#96d2f2"/>
<rect x="517.50" y="675.36" width="9.43" height="9.43" fill="#cfeafa"/>
<rect x="526.44" y="675.36" width="71.97" height="9.43" fill="#ffffff"/>
<rect x="597.90" y="675.36" width="27.30" height="9.43" fill="#cfeafa"/>
<rect x="624.70" y="675.36" width="9.43" height="9.43" fill="#96d2f2"/>
<rect x="633.64" y="675.36" width="36.23" height="9.43" fill="#6aaadc"/>
<rect x="669.37" y="675.36" width="18.37" height="9.43" fill="#4a92b4"/>
<rect x="687.23" y="675.36" width="45.17" height="9.43" fill="#48a46e"/>
<rect x="731.90" y="675.36" width="71.97" height="9.43" fill="#4a92b4"/>
<rect x="803.37" y="675.36" width="27.30" height="9.43" fill="#6aaadc"/>
<rect x="830.17" y="675.36" width="9.43" height="9.43" fill="#96d2f2"/>
<rect x="124.44" y="684.28" width="18.37" height="9.43" fill="#fac452"/>
<rect x="142.31" y="684.28" width="36.23" height="9.43" fill="#d2dc5a"/>
<rect x="178.04" y="684.28" width="18.37" height="9.43" fill="#78c050"/>
<rect x="195.91" y="684.28" width="18.37" height="9.43" fill="#d2dc5a"/>
<rect x="213.77" y="684.28" width="36.23" height="9.43" fill="#78c050"/>
<rect x="249.51" y="684.28" width="9.43" height="9.43" fill="#d2dc5a"/>
<rect x="258.44" y="684.28" width="18.37" height="9.43" fill="#f58c3a"/>
<rect x="276.31" y="684.28" width="9.43" height="9.43" fill="#d62628"/>
<rect x="285.24" y="684.28" width="9.43" height="9.43" fill="#b01c22"/>
<rect x="294.17" y="684.28" width="9.43" height="9.43" fill="#78c050"/>
<rect x="303.11" y="684.28" width="9.43" height="9.43" fill="#f58c3a"/>
<rect x="312.04" y="684.28" width="18.37" height="9.43" fill="#d62628"/>
<rect x="329.90" y="684.28" width="45.17" height="9.43" fill="#e8542c"/>
<rect x="374.57" y="684.28" width="9.43" height="9.43" fill="#d62628"/>
<rect x="383.50" y="684.28" width="18.37" height="9.43" fill="#e8542c"/>
<rect x="401.37" y="684.28" width="9.43" height="9.43" fill="#f58c3a"/>
<rect x="410.30" y="684.28" width="54.10" height="9.43" fill="#48a46e"/>
<rect x="463.90" y="684.28" width="45.17" height="9.43" fill="#4a92b4"/>
<rect x="508.57" y="684.28" width="9.43" height="9.43" fill="#6aaadc"/>
<rect x="517.50" y="684.28" width="9.43" height="9.43" fill="#96d2f2"/>
<rect x="526.44" y="684.28" width="9.43" height="9.43" fill="#cfeafa"/>
<rect x="535.37" y="684.28" width="63.03" height="9.43" fill="#ffffff"/>
<rect x="597.90" y="684.28" width="18.37" height="9.43" fill="#cfeafa"/>
<rect x="615.77" y="684.28" width="18.37" height="9.43" fill="#96d2f2"/>
<rect x="633.64" y="684.28" width="36.23" height="9.43" fill="#6aaadc"/>
<rect x="669.37" y="684.28" width="18.37" height="9.43" fill="#4a92b4"/>
<rect x="687.23" y="684.28" width="45.17" height="9.43" fill="#48a46e"/>
<rect x="731.90" y="684.28" width="80.90" height="9.43" fill="#4a92b4"/>
<rect x="812.30" y="684.28" width="9.43" height="9.43" fill="#6aaadc"/>
<rect x="821.23" y="684.28" width="18.37" height="9.43" fill="#96d2f2"/>
<rect x="124.44" y="693.21" width="18.37" height="9.43" fill="#fac452"/>
<rect x="142.31" y="693.21" width="36.23" height="9.43" fill="#d2dc5a"/>
<rect x="178.04" y="693.21" width="27.30" height="9.43" fill="#78c050"/>
<rect x="204.84" y="693.21" width="27.30" height="9.43" fill="#48a46e"/>
<rect x="231.64" y="693.21" width="18.37" height="9.43" fill="#78c050"/>
<rect x="249.51" y="693.21" width="18.37" height="9.43" fill="#fac452"/>
<rect x="267.37" y="693.21" width="27.30" height="9.43" fill="#e8542c"/>
<rect x="294.17" y="693.21" width="9.43" height="9.43" fill="#78c050"/>
<rect x="303.11" y="693.21" width="9.43" height="9.43" fill="#e8542c"/>
<rect x="312.04" y="693.21" width="18.37" height="9.43" fill="#d62628"/>
<rect x="329.90" y="693.21" width="9.43" height="9.43" fill="#d2dc5a"/>
<rect x="338.84" y="693.21" width="9.43" height="9.43" fill="#78c050"/>
<rect x="347.77" y="693.21" width="9.43" height="9.43" fill="#d2dc5a"/>
<rect x="356.70" y="693.21" width="9.43" height="9.43" fill="#f58c3a"/>
<rect x="365.64" y="693.21" width="18.37" height="9.43" fill="#e8542c"/>
<rect x="383.50" y="693.21" width="36.23" height="9.43" fill="#fac452"/>
<rect x="419.24" y="693.21" width="45.17" height="9.43" fill="#48a46e"/>
<rect x="463.90" y="693.21" width="45.17" height="9.43" fill="#4a92b4"/>
<rect x="508.57" y="693.21" width="18.37" height="9.43" fill="#6aaadc"/>
<rect x="526.44" y="693.21" width="9.43" height="9.43" fill="#96d2f2"/>
<rect x="535.37" y="693.21" width="9.43" height="9.43" fill="#cfeafa"/>
<rect x="544.30" y="693.21" width="54.10" height="9.43" fill="#ffffff"/>
<rect x="597.90" y="693.21" width="18.37" height="9.43" fill="#cfeafa"/>
<rect x="615.77" y="693.21" width="9.43" height="9.43" fill="#96d2f2"/>
<rect x="624.70" y="693.21" width="45.17" height="9.43" fill="#6aaadc"/>
<rect x="669.37" y="693.21" width="18.37" height="9.43" fill="#4a92b4"/>
<rect x="687.23" y="693.21" width="36.23" height="9.43" fill="#48a46e"/>
<rect x="722.97" y="693.21" width="80.90" height="9.43" fill="#4a92b4"/>
<rect x="803.37" y="693.21" width="18.37" height="9.43" fill="#6aaadc"/>
<rect x="821.23" y="693.21" width="9.43" height="9.43" fill="#96d2f2"/>
<rect x="830.17" y="693.21" width="9.43" height="9.43" fill="#6aaadc"/>
<rect x="124.44" y="702.13" width="18.37" height="9.43" fill="#fac452"/>
<rect x="142.31" y="702.13" width="45.17" height="9.43" fill="#d2dc5a"/>
<rect x="186.97" y="702.13" width="9.43" height="9.43" fill="#fac452"/>
<rect x="195.91" y="702.13" width="9.43" height="9.43" fill="#78c050"/>
<rect x="204.84" y="702.13" width="36.23" height="9.43" fill="#48a46e"/>
<rect x="240.57" y="702.13" width="18.37" height="9.43" fill="#78c050"/>
<rect x="258.44" y="702.13" width="9.43" height="9.43" fill="#d2dc5a"/>
<rect x="267.37" y="702.13" width="9.43" height="9.43" fill="#78c050"/>
<rect x="276.31" y="702.13" width="9.43" height="9.43" fill="#d2dc5a"/>
<rect x="285.24" y="702.13" width="9.43" height="9.43" fill="#fac452"/>
<rect x="294.17" y="702.13" width="27.30" height="9.43" fill="#e8542c"/>
<rect x="320.97" y="702.13" width="9.43" height="9.43" fill="#f58c3a"/>
<rect x="329.90" y="702.13" width="9.43" height="9.43" fill="#48a46e"/>
<rect x="338.84" y="702.13" width="9.43" height="9.43" fill="#78c050"/>
<rect x="347.77" y="702.13" width="9.43" height="9.43" fill="#d2dc5a"/>
<rect x="356.70" y="702.13" width="9.43" height="9.43" fill="#f58c3a"/>
<rect x="365.64" y="702.13" width="9.43" height="9.43" fill="#fac452"/>
<rect x="374.57" y="702.13" width="9.43" height="9.43" fill="#f58c3a"/>
<rect x="383.50" y="702.13" width="9.43" height="9.43" fill="#e8542c"/>
<rect x="392.44" y="702.13" width="27.30" height="9.43" fill="#fac452"/>
<rect x="419.24" y="702.13" width="45.17" height="9.43" fill="#48a46e"/>
<rect x="463.90" y="702.13" width="54.10" height="9.43" fill="#4a92b4"/>
<rect x="517.50" y="702.13" width="9.43" height="9.43" fill="#6aaadc"/>
<rect x="526.44" y="702.13" width="9.43" height="9.43" fill="#96d2f2"/>
<rect x="535.37" y="702.13" width="9.43" height="9.43" fill="#cfeafa"/>
<rect x="544.30" y="702.13" width="54.10" height="9.43" fill="#ffffff"/>
<rect x="597.90" y="702.13" width="18.37" height="9.43" fill="#cfeafa"/>
<rect x="615.77" y="702.13" width="9.43" height="9.43" fill="#96d2f2"/>
<rect x="624.70" y="702.13" width="18.37" height="9.43" fill="#6aaadc"/>
<rect x="642.57" y="702.13" width="9.43" height="9.43" fill="#96d2f2"/>
<rect x="651.50" y="702.13" width="18.37" height="9.43" fill="#6aaadc"/>
<rect x="669.37" y="702.13" width="27.30" height="9.43" fill="#4a92b4"/>
<rect x="696.17" y="702.13" width="18.37" height="9.43" fill="#48a46e"/>
<rect x="714.03" y="702.13" width="18.37" height="9.43" fill="#4a92b4"/>
<rect x="731.90" y="702.13" width="36.23" height="9.43" fill="#6aaadc"/>
<rect x="767.63" y="702.13" width="18.37" height="9.43" fill="#4a92b4"/>
<rect x="785.50" y="702.13" width="54.10" height="9.43" fill="#6aaadc"/>
<rect x="124.44" y="711.06" width="9.43" height="9.43" fill="#e8542c"/>
<rect x="133.37" y="711.06" width="27.30" height="9.43" fill="#d2dc5a"/>
<rect x="160.17" y="711.06" width="27.30" height="9.43" fill="#fac452"/>
<rect x="186.97" y="711.06" width="9.43" height="9.43" fill="#e8542c"/>
<rect x="195.91" y="711.06" width="9.43" height="9.43" fill="#f58c3a"/>
<rect x="204.84" y="711.06" width="45.17" height="9.43" fill="#48a46e"/>
<rect x="249.51" y="711.06" width="27.30" height="9.43" fill="#78c050"/>
<rect x="276.31" y="711.06" width="18.37" height="9.43" fill="#fac452"/>
<rect x="294.17" y="711.06" width="18.37" height="9.43" fill="#e8542c"/>
<rect x="312.04" y="711.06" width="9.43" height="9.43" fill="#d2dc5a"/>
<rect x="320.97" y="711.06" width="18.37" height="9.43" fill="#78c050"/>
<rect x="338.84" y="711.06" width="18.37" height="9.43" fill="#d2dc5a"/>
<rect x="356.70" y="711.06" width="18.37" height="9.43" fill="#fac452"/>
<rect x="374.57" y="711.06" width="9.43" height="9.43" fill="#d2dc5a"/>
<rect x="383.50" y="711.06" width="27.30" height="9.43" fill="#78c050"/>
<rect x="410.30" y="711.06" width="54.10" height="9.43" fill="#48a46e"/>
<rect x="463.90" y="711.06" width="54.10" height="9.43" fill="#4a92b4"/>
<rect x="517.50" y="711.06" width="9.43" height="9.43" fill="#6aaadc"/>
<rect x="526.44" y="711.06" width="9.43" height="9.43" fill="#96d2f2"/>
<rect x="535.37" y="711.06" width="18.37" height="9.43" fill="#cfeafa"/>
<rect x="553.24" y="711.06" width="45.17" height="9.43" fill="#ffffff"/>
<rect x="597.90" y="711.06" width="27.30" height="9.43" fill="#cfeafa"/>
<rect x="624.70" y="711.06" width="9.43" height="9.43" fill="#96d2f2"/>
<rect x="633.64" y="711.06" width="18.37" height="9.43" fill="#6aaadc"/>
<rect x="651.50" y="711.06" width="9.43" height="9.43" fill="#96d2f2"/>
<rect x="660.44" y="711.06" width="18.37" height="9.43" fill="#6aaadc"/>
<rect x="678.30" y="711.06" width="45.17" height="9.43" fill="#4a92b4"/>
<rect x="722.97" y="711.06" width="45.17" height="9.43" fill="#6aaadc"/>
<rect x="767.63" y="711.06" width="9.43" height="9.43" fill="#4a92b4"/>
<rect x="776.57" y="711.06" width="9.43" height="9.43" fill="#6aaadc"/>
<rect x="785.50" y="711.06" width="9.43" height="9.43" fill="#96d2f2"/>
<rect x="794.43" y="711.06" width="45.17" height="9.43" fill="#6aaadc"/>
<rect x="124.44" y="719.98" width="18.37" height="9.43" fill="#f58c3a"/>
<rect x="142.31" y="719.98" width="9.43" height="9.43" fill="#fac452"/>
<rect x="151.24" y="719.98" width="9.43" height="9.43" fill="#d2dc5a"/>
<rect x="160.17" y="719.98" width="9.43" height="9.43" fill="#fac452"/>
<rect x="169.11" y="719.98" width="9.43" height="9.43" fill="#e8542c"/>
<rect x="178.04" y="719.98" width="18.37" height="9.43" fill="#d62628"/>
<rect x="195.91" y="719.98" width="9.43" height="9.43" fill="#e8542c"/>
<rect x="204.84" y="719.98" width="9.43" height="9.43" fill="#d2dc5a"/>
<rect x="213.77" y="719.98" width="9.43" height="9.43" fill="#78c050"/>
<rect x="222.71" y="719.98" width="36.23" height="9.43" fill="#48a46e"/>
<rect x="258.44" y="719.98" width="9.43" height="9.43" fill="#78c050"/>
<rect x="267.37" y="719.98" width="9.43" height="9.43" fill="#fac452"/>
<rect x="276.31" y="719.98" width="9.43" height="9.43" fill="#f58c3a"/>
<rect x="285.24" y="719.98" width="9.43" height="9.43" fill="#e8542c"/>
<rect x="294.17" y="719.98" width="18.37" height="9.43" fill="#d2dc5a"/>
<rect x="312.04" y="719.98" width="45.17" height="9.43" fill="#78c050"/>
<rect x="356.70" y="719.98" width="27.30" height="9.43" fill="#fac452"/>
<rect x="383.50" y="719.98" width="18.37" height="9.43" fill="#d2dc5a"/>
<rect x="401.37" y="719.98" width="9.43" height="9.43" fill="#fac452"/>
<rect x="410.30" y="719.98" width="18.37" height="9.43" fill="#48a46e"/>
<rect x="428.17" y="719.98" width="89.83" height="9.43" fill="#4a92b4"/>
<rect x="517.50" y="719.98" width="9.43" height="9.43" fill="#6aaadc"/>
<rect x="526.44" y="719.98" width="9.43" height="9.43" fill="#96d2f2"/>
<rect x="535.37" y="719.98" width="9.43" height="9.43" fill="#cfeafa"/>
<rect x="544.30" y="719.98" width="54.10" height="9.43" fill="#ffffff"/>
<rect x="597.90" y="719.98" width="63.03" height="9.43" fill="#cfeafa"/>
<rect x="660.44" y="719.98" width="9.43" height="9.43" fill="#96d2f2"/>
<rect x="669.37" y="719.98" width="9.43" height="9.43" fill="#6aaadc"/>
<rect x="678.30" y="719.98" width="45.17" height="9.43" fill="#4a92b4"/>
<rect x="722.97" y="719.98" width="36.23" height="9.43" fill="#6aaadc"/>
<rect x="758.70" y="719.98" width="9.43" height="9.43" fill="#4a92b4"/>
<rect x="767.63" y="719.98" width="9.43" height="9.43" fill="#6aaadc"/>
<rect x="776.57" y="719.98" width="27.30" height="9.43" fill="#96d2f2"/>
<rect x="803.37" y="719.98" width="36.23" height="9.43" fill="#6aaadc"/>
<rect x="124.44" y="728.91" width="18.37" height="9.43" fill="#fac452"/>
<rect x="142.31" y="728.91" width="18.37" height="9.43" fill="#f58c3a"/>
<rect x="160.17" y="728.91" width="18.37" height="9.43" fill="#e8542c"/>
<rect x="178.04" y="728.91" width="18.37" height="9.43" fill="#d62628"/>
<rect x="195.91" y="728.91" width="9.43" height="9.43" fill="#78c050"/>
<rect x="204.84" y="728.91" width="9.43" height="9.43" fill="#f58c3a"/>
<rect x="213.77" y="728.91" width="9.43" height="9.43" fill="#d2dc5a"/>
<rect x="222.71" y="728.91" width="36.23" height="9.43" fill="#48a46e"/>
<rect x="258.44" y="728.91" width="9.43" height="9.43" fill="#fac452"/>
<rect x="267.37" y="728.91" width="18.37" height="9.43" fill="#f58c3a"/>
<rect x="285.24" y="728.91" width="9.43" height="9.43" fill="#78c050"/>
<rect x="294.17" y="728.91" width="71.97" height="9.43" fill="#48a46e"/>
<rect x="365.64" y="728.91" width="18.37" height="9.43" fill="#fac452"/>
<rect x="383.50" y="728.91" width="36.23" height="9.43" fill="#48a46e"/>
<rect x="419.24" y="728.91" width="89.83" height="9.43" fill="#4a92b4"/>
<rect x="508.57" y="728.91" width="18.37" height="9.43" fill="#6aaadc"/>
<rect x="526.44" y="728.91" width="9.43" height="9.43" fill="#96d2f2"/>
<rect x="535.37" y="728.91" width="9.43" height="9.43" fill="#cfeafa"/>
<rect x="544.30" y="728.91" width="54.10" height="9.43" fill="#ffffff"/>
<rect x="597.90" y="728.91" width="18.37" height="9.43" fill="#cfeafa"/>
<rect x="615.77" y="728.91" width="27.30" height="9.43" fill="#ffffff"/>
<rect x="642.57" y="728.91" width="18.37" height="9.43" fill="#cfeafa"/>
<rect x="660.44" y="728.91" width="9.43" height="9.43" fill="#96d2f2"/>
<rect x="669.37" y="728.91" width="9.43" height="9.43" fill="#6aaadc"/>
<rect x="678.30" y="728.91" width="27.30" height="9.43" fill="#4a92b4"/>
<rect x="705.10" y="728.91" width="54.10" height="9.43" fill="#6aaadc"/>
<rect x="758.70" y="728.91" width="9.43" height="9.43" fill="#4a92b4"/>
<rect x="767.63" y="728.91" width="9.43" height="9.43" fill="#6aaadc"/>
<rect x="776.57" y="728.91" width="9.43" height="9.43" fill="#96d2f2"/>
<rect x="785.50" y="728.91" width="18.37" height="9.43" fill="#cfeafa"/>
<rect x="803.37" y="728.91" width="9.43" height="9.43" fill="#96d2f2"/>
<rect x="812.30" y="728.91" width="27.30" height="9.43" fill="#cfeafa"/>
<rect x="124.44" y="737.84" width="18.37" height="9.43" fill="#d2dc5a"/>
<rect x="142.31" y="737.84" width="18.37" height="9.43" fill="#fac452"/>
<rect x="160.17" y="737.84" width="18.37" height="9.43" fill="#d2dc5a"/>
<rect x="178.04" y="737.84" width="9.43" height="9.43" fill="#78c050"/>
<rect x="186.97" y="737.84" width="9.43" height="9.43" fill="#d2dc5a"/>
<rect x="195.91" y="737.84" width="18.37" height="9.43" fill="#fac452"/>
<rect x="213.77" y="737.84" width="18.37" height="9.43" fill="#d2dc5a"/>
<rect x="231.64" y="737.84" width="9.43" height="9.43" fill="#fac452"/>
<rect x="240.57" y="737.84" width="9.43" height="9.43" fill="#f58c3a"/>
<rect x="249.51" y="737.84" width="36.23" height="9.43" fill="#78c050"/>
<rect x="285.24" y="737.84" width="18.37" height="9.43" fill="#48a46e"/>
<rect x="303.11" y="737.84" width="45.17" height="9.43" fill="#4a92b4"/>
<rect x="347.77" y="737.84" width="27.30" height="9.43" fill="#48a46e"/>
<rect x="374.57" y="737.84" width="36.23" height="9.43" fill="#4a92b4"/>
<rect x="410.30" y="737.84" width="9.43" height="9.43" fill="#78c050"/>
<rect x="419.24" y="737.84" width="45.17" height="9.43" fill="#4a92b4"/>
<rect x="463.90" y="737.84" width="18.37" height="9.43" fill="#6aaadc"/>
<rect x="481.77" y="737.84" width="9.43" height="9.43" fill="#4a92b4"/>
<rect x="490.70" y="737.84" width="18.37" height="9.43" fill="#6aaadc"/>
<rect x="508.57" y="737.84" width="9.43" height="9.43" fill="#96d2f2"/>
<rect x="517.50" y="737.84" width="18.37" height="9.43" fill="#cfeafa"/>
<rect x="535.37" y="737.84" width="107.70" height="9.43" fill="#ffffff"/>
<rect x="642.57" y="737.84" width="9.43" height="9.43" fill="#cfeafa"/>
<rect x="651.50" y="737.84" width="9.43" height="9.43" fill="#96d2f2"/>
<rect x="660.44" y="737.84" width="80.90" height="9.43" fill="#6aaadc"/>
<rect x="740.83" y="737.84" width="18.37" height="9.43" fill="#4a92b4"/>
<rect x="758.70" y="737.84" width="9.43" height="9.43" fill="#96d2f2"/>
<rect x="767.63" y="737.84" width="18.37" height="9.43" fill="#cfeafa"/>
<rect x="785.50" y="737.84" width="9.43" height="9.43" fill="#ffffff"/>
<rect x="794.43" y="737.84" width="27.30" height="9.43" fill="#cfeafa"/>
<rect x="821.23" y="737.84" width="18.37" height="9.43" fill="#ffffff"/>
<rect x="124.44" y="746.76" width="18.37" height="9.43" fill="#d2dc5a"/>
<rect x="142.31" y="746.76" width="27.30" height="9.43" fill="#78c050"/>
<rect x="169.11" y="746.76" width="9.43" height="9.43" fill="#d2dc5a"/>
<rect x="178.04" y="746.76" width="9.43" height="9.43" fill="#f58c3a"/>
<rect x="186.97" y="746.76" width="9.43" height="9.43" fill="#78c050"/>
<rect x="195.91" y="746.76" width="9.43" height="9.43" fill="#d2dc5a"/>
<rect x="204.84" y="746.76" width="27.30" height="9.43" fill="#78c050"/>
<rect x="231.64" y="746.76" width="9.43" height="9.43" fill="#fac452"/>
<rect x="240.57" y="746.76" width="9.43" height="9.43" fill="#f58c3a"/>
<rect x="249.51" y="746.76" width="9.43" height="9.43" fill="#48a46e"/>
<rect x="258.44" y="746.76" width="71.97" height="9.43" fill="#4a92b4"/>
<rect x="329.90" y="746.76" width="45.17" height="9.43" fill="#48a46e"/>
<rect x="374.57" y="746.76" width="36.23" height="9.43" fill="#4a92b4"/>
<rect x="410.30" y="746.76" width="9.43" height="9.43" fill="#fac452"/>
<rect x="419.24" y="746.76" width="36.23" height="9.43" fill="#4a92b4"/>
<rect x="454.97" y="746.76" width="36.23" height="9.43" fill="#6aaadc"/>
<rect x="490.70" y="746.76" width="18.37" height="9.43" fill="#96d2f2"/>
<rect x="508.57" y="746.76" width="18.37" height="9.43" fill="#cfeafa"/>
<rect x="526.44" y="746.76" width="116.63" height="9.43" fill="#ffffff"/>
<rect x="642.57" y="746.76" width="18.37" height="9.43" fill="#96d2f2"/>
<rect x="660.44" y="746.76" width="71.97" height="9.43" fill="#6aaadc"/>
<rect x="731.90" y="746.76" width="18.37" height="9.43" fill="#4a92b4"/>
<rect x="749.77" y="746.76" width="9.43" height="9.43" fill="#6aaadc"/>
<rect x="758.70" y="746.76" width="9.43" height="9.43" fill="#96d2f2"/>
<rect x="767.63" y="746.76" width="18.37" height="9.43" fill="#ffffff"/>
<rect x="785.50" y="746.76" width="36.23" height="9.43" fill="#cfeafa"/>
<rect x="821.23" y="746.76" width="18.37" height="9.43" fill="#ffffff"/>
<rect x="124.44" y="755.69" width="45.17" height="9.43" fill="#d2dc5a"/>
<rect x="169.11" y="755.69" width="18.37" height="9.43" fill="#78c050"/>
<rect x="186.97" y="755.69" width="9.43" height="9.43" fill="#48a46e"/>
<rect x="195.91" y="755.69" width="36.23" height="9.43" fill="#78c050"/>
<rect x="231.64" y="755.69" width="18.37" height="9.43" fill="#d2dc5a"/>
<rect x="249.51" y="755.69" width="9.43" height="9.43" fill="#48a46e"/>
<rect x="258.44" y="755.69" width="71.97" height="9.43" fill="#4a92b4"/>
<rect x="329.90" y="755.69" width="27.30" height="9.43" fill="#48a46e"/>
<rect x="356.70" y="755.69" width="9.43" height="9.43" fill="#78c050"/>
<rect x="365.64" y="755.69" width="9.43" height="9.43" fill="#48a46e"/>
<rect x="374.57" y="755.69" width="36.23" height="9.43" fill="#4a92b4"/>
<rect x="410.30" y="755.69" width="9.43" height="9.43" fill="#78c050"/>
<rect x="419.24" y="755.69" width="18.37" height="9.43" fill="#4a92b4"/>
<rect x="437.10" y="755.69" width="18.37" height="9.43" fill="#6aaadc"/>
<rect x="454.97" y="755.69" width="9.43" height="9.43" fill="#96d2f2"/>
<rect x="463.90" y="755.69" width="54.10" height="9.43" fill="#cfeafa"/>
<rect x="517.50" y="755.69" width="116.63" height="9.43" fill="#ffffff"/>
<rect x="633.64" y="755.69" width="9.43" height="9.43" fill="#cfeafa"/>
<rect x="642.57" y="755.69" width="18.37" height="9.43" fill="#96d2f2"/>
<rect x="660.44" y="755.69" width="80.90" height="9.43" fill="#6aaadc"/>
<rect x="740.83" y="755.69" width="9.43" height="9.43" fill="#4a92b4"/>
<rect x="749.77" y="755.69" width="18.37" height="9.43" fill="#96d2f2"/>
<rect x="767.63" y="755.69" width="45.17" height="9.43" fill="#cfeafa"/>
<rect x="812.30" y="755.69" width="27.30" height="9.43" fill="#ffffff"/>
<rect x="124.44" y="764.61" width="9.43" height="9.43" fill="#d2dc5a"/>
<rect x="133.37" y="764.61" width="36.23" height="9.43" fill="#78c050"/>
<rect x="169.11" y="764.61" width="9.43" height="9.43" fill="#48a46e"/>
<rect x="178.04" y="764.61" width="18.37" height="9.43" fill="#4a92b4"/>
<rect x="195.91" y="764.61" width="36.23" height="9.43" fill="#48a46e"/>
<rect x="231.64" y="764.61" width="9.43" height="9.43" fill="#78c050"/>
<rect x="240.57" y="764.61" width="9.43" height="9.43" fill="#d2dc5a"/>
<rect x="249.51" y="764.61" width="45.17" height="9.43" fill="#48a46e"/>
<rect x="294.17" y="764.61" width="36.23" height="9.43" fill="#4a92b4"/>
<rect x="329.90" y="764.61" width="18.37" height="9.43" fill="#48a46e"/>
<rect x="347.77" y="764.61" width="18.37" height="9.43" fill="#78c050"/>
<rect x="365.64" y="764.61" width="9.43" height="9.43" fill="#48a46e"/>
<rect x="374.57" y="764.61" width="36.23" height="9.43" fill="#4a92b4"/>
<rect x="410.30" y="764.61" width="9.43" height="9.43" fill="#48a46e"/>
<rect x="419.24" y="764.61" width="9.43" height="9.43" fill="#4a92b4"/>
<rect x="428.17" y="764.61" width="9.43" height="9.43" fill="#6aaadc"/>
<rect x="437.10" y="764.61" width="18.37" height="9.43" fill="#96d2f2"/>
<rect x="454.97" y="764.61" width="9.43" height="9.43" fill="#cfeafa"/>
<rect x="463.90" y="764.61" width="27.30" height="9.43" fill="#ffffff"/>
<rect x="490.70" y="764.61" width="9.43" height="9.43" fill="#cfeafa"/>
<rect x="499.64" y="764.61" width="134.50" height="9.43" fill="#ffffff"/>
<rect x="633.64" y="764.61" width="9.43" height="9.43" fill="#cfeafa"/>
<rect x="642.57" y="764.61" width="18.37" height="9.43" fill="#96d2f2"/>
<rect x="660.44" y="764.61" width="45.17" height="9.43" fill="#6aaadc"/>
<rect x="705.10" y="764.61" width="9.43" height="9.43" fill="#96d2f2"/>
<rect x="714.03" y="764.61" width="27.30" height="9.43" fill="#6aaadc"/>
<rect x="740.83" y="764.61" width="18.37" height="9.43" fill="#4a92b4"/>
<rect x="758.70" y="764.61" width="9.43" height="9.43" fill="#96d2f2"/>
<rect x="767.63" y="764.61" width="18.37" height="9.43" fill="#cfeafa"/>
<rect x="785.50" y="764.61" width="9.43" height="9.43" fill="#ffffff"/>
<rect x="794.43" y="764.61" width="9.43" height="9.43" fill="#cfeafa"/>
<rect x="803.37" y="764.61" width="27.30" height="9.43" fill="#ffffff"/>
<rect x="830.17" y="764.61" width="9.43" height="9.43" fill="#cfeafa"/>
<rect x="124.44" y="773.54" width="9.43" height="9.43" fill="#78c050"/>
<rect x="133.37" y="773.54" width="9.43" height="9.43" fill="#48a46e"/>
<rect x="142.31" y="773.54" width="9.43" height="9.43" fill="#78c050"/>
<rect x="151.24" y="773.54" width="27.30" height="9.43" fill="#48a46e"/>
<rect x="178.04" y="773.54" width="27.30" height="9.43" fill="#4a92b4"/>
<rect x="204.84" y="773.54" width="27.30" height="9.43" fill="#48a46e"/>
<rect x="231.64" y="773.54" width="9.43" height="9.43" fill="#78c050"/>
<rect x="240.57" y="773.54" width="9.43" height="9.43" fill="#e8542c"/>
<rect x="249.51" y="773.54" width="9.43" height="9.43" fill="#78c050"/>
<rect x="258.44" y="773.54" width="27.30" height="9.43" fill="#48a46e"/>
<rect x="285.24" y="773.54" width="36.23" height="9.43" fill="#4a92b4"/>
<rect x="320.97" y="773.54" width="45.17" height="9.43" fill="#48a46e"/>
<rect x="365.64" y="773.54" width="45.17" height="9.43" fill="#4a92b4"/>
<rect x="410.30" y="773.54" width="9.43" height="9.43" fill="#48a46e"/>
<rect x="419.24" y="773.54" width="9.43" height="9.43" fill="#4a92b4"/>
<rect x="428.17" y="773.54" width="9.43" height="9.43" fill="#96d2f2"/>
<rect x="437.10" y="773.54" width="18.37" height="9.43" fill="#cfeafa"/>
<rect x="454.97" y="773.54" width="170.23" height="9.43" fill="#ffffff"/>
<rect x="624.70" y="773.54" width="18.37" height="9.43" fill="#cfeafa"/>
<rect x="642.57" y="773.54" width="45.17" height="9.43" fill="#96d2f2"/>
<rect x="687.23" y="773.54" width="36.23" height="9.43" fill="#6aaadc"/>
<rect x="722.97" y="773.54" width="27.30" height="9.43" fill="#4a92b4"/>
<rect x="749.77" y="773.54" width="9.43" height="9.43" fill="#6aaadc"/>
<rect x="758.70" y="773.54" width="9.43" height="9.43" fill="#96d2f2"/>
<rect x="767.63" y="773.54" width="36.23" height="9.43" fill="#cfeafa"/>
<rect x="803.37" y="773.54" width="27.30" height="9.43" fill="#ffffff"/>
<rect x="830.17" y="773.54" width="9.43" height="9.43" fill="#cfeafa"/>
<rect x="124.44" y="782.47" width="9.43" height="9.43" fill="#78c050"/>
<rect x="133.37" y="782.47" width="9.43" height="9.43" fill="#d2dc5a"/>
<rect x="142.31" y="782.47" width="9.43" height="9.43" fill="#78c050"/>
<rect x="151.24" y="782.47" width="27.30" height="9.43" fill="#48a46e"/>
<rect x="178.04" y="782.47" width="18.37" height="9.43" fill="#4a92b4"/>
<rect x="195.91" y="782.47" width="9.43" height="9.43" fill="#6aaadc"/>
<rect x="204.84" y="782.47" width="18.37" height="9.43" fill="#4a92b4"/>
<rect x="222.71" y="782.47" width="9.43" height="9.43" fill="#48a46e"/>
<rect x="231.64" y="782.47" width="9.43" height="9.43" fill="#e8542c"/>
<rect x="240.57" y="782.47" width="9.43" height="9.43" fill="#d62628"/>
<rect x="249.51" y="782.47" width="9.43" height="9.43" fill="#78c050"/>
<rect x="258.44" y="782.47" width="27.30" height="9.43" fill="#48a46e"/>
<rect x="285.24" y="782.47" width="18.37" height="9.43" fill="#4a92b4"/>
<rect x="303.11" y="782.47" width="18.37" height="9.43" fill="#48a46e"/>
<rect x="320.97" y="782.47" width="36.23" height="9.43" fill="#4a92b4"/>
<rect x="356.70" y="782.47" width="36.23" height="9.43" fill="#6aaadc"/>
<rect x="392.44" y="782.47" width="27.30" height="9.43" fill="#4a92b4"/>
<rect x="419.24" y="782.47" width="9.43" height="9.43" fill="#78c050"/>
<rect x="428.17" y="782.47" width="9.43" height="9.43" fill="#96d2f2"/>
<rect x="437.10" y="782.47" width="9.43" height="9.43" fill="#cfeafa"/>
<rect x="446.04" y="782.47" width="27.30" height="9.43" fill="#ffffff"/>
<rect x="472.84" y="782.47" width="9.43" height="9.43" fill="#cfeafa"/>
<rect x="481.77" y="782.47" width="143.43" height="9.43" fill="#ffffff"/>
<rect x="624.70" y="782.47" width="54.10" height="9.43" fill="#cfeafa"/>
<rect x="678.30" y="782.47" width="18.37" height="9.43" fill="#96d2f2"/>
<rect x="696.17" y="782.47" width="18.37" height="9.43" fill="#6aaadc"/>
<rect x="714.03" y="782.47" width="18.37" height="9.43" fill="#4a92b4"/>
<rect x="731.90" y="782.47" width="18.37" height="9.43" fill="#6aaadc"/>
<rect x="749.77" y="782.47" width="63.03" height="9.43" fill="#cfeafa"/>
<rect x="812.30" y="782.47" width="9.43" height="9.43" fill="#ffffff"/>
<rect x="821.23" y="782.47" width="18.37" height="9.43" fill="#cfeafa"/>
<rect x="124.44" y="791.39" width="18.37" height="9.43" fill="#e8542c"/>
<rect x="142.31" y="791.39" width="9.43" height="9.43" fill="#d62628"/>
<rect x="151.24" y="791.39" width="9.43" height="9.43" fill="#e8542c"/>
<rect x="160.17" y="791.39" width="9.43" height="9.43" fill="#78c050"/>
<rect x="169.11" y="791.39" width="18.37" height="9.43" fill="#48a46e"/>
<rect x="186.97" y="791.39" width="18.37" height="9.43" fill="#6aaadc"/>
<rect x="204.84" y="791.39" width="9.43" height="9.43" fill="#4a92b4"/>
<rect x="213.77" y="791.39" width="9.43" height="9.43" fill="#48a46e"/>
<rect x="222.71" y="791.39" width="9.43" height="9.43" fill="#78c050"/>
<rect x="231.64" y="791.39" width="18.37" height="9.43" fill="#e8542c"/>
<rect x="249.51" y="791.39" width="27.30" height="9.43" fill="#48a46e"/>
<rect x="276.31" y="791.39" width="18.37" height="9.43" fill="#78c050"/>
<rect x="294.17" y="791.39" width="27.30" height="9.43" fill="#4a92b4"/>
<rect x="320.97" y="791.39" width="9.43" height="9.43" fill="#6aaadc"/>
<rect x="329.90" y="791.39" width="27.30" height="9.43" fill="#96d2f2"/>
<rect x="356.70" y="791.39" width="18.37" height="9.43" fill="#6aaadc"/>
<rect x="374.57" y="791.39" width="9.43" height="9.43" fill="#96d2f2"/>
<rect x="383.50" y="791.39" width="27.30" height="9.43" fill="#4a92b4"/>
<rect x="410.30" y="791.39" width="9.43" height="9.43" fill="#48a46e"/>
<rect x="419.24" y="791.39" width="9.43" height="9.43" fill="#6aaadc"/>
<rect x="428.17" y="791.39" width="205.96" height="9.43" fill="#ffffff"/>
<rect x="633.64" y="791.39" width="54.10" height="9.43" fill="#cfeafa"/>
<rect x="687.23" y="791.39" width="9.43" height="9.43" fill="#96d2f2"/>
<rect x="696.17" y="791.39" width="36.23" height="9.43" fill="#6aaadc"/>
<rect x="731.90" y="791.39" width="9.43" height="9.43" fill="#96d2f2"/>
<rect x="740.83" y="791.39" width="71.97" height="9.43" fill="#cfeafa"/>
<rect x="812.30" y="791.39" width="9.43" height="9.43" fill="#ffffff"/>
<rect x="821.23" y="791.39" width="18.37" height="9.43" fill="#cfeafa"/>
<rect x="124.44" y="800.32" width="9.43" height="9.43" fill="#f58c3a"/>
<rect x="133.37" y="800.32" width="9.43" height="9.43" fill="#e8542c"/>
<rect x="142.31" y="800.32" width="9.43" height="9.43" fill="#d62628"/>
<rect x="151.24" y="800.32" width="9.43" height="9.43" fill="#fac452"/>
<rect x="160.17" y="800.32" width="9.43" height="9.43" fill="#78c050"/>
<rect x="169.11" y="800.32" width="18.37" height="9.43" fill="#48a46e"/>
<rect x="186.97" y="800.32" width="18.37" height="9.43" fill="#4a92b4"/>
<rect x="204.84" y="800.32" width="18.37" height="9.43" fill="#48a46e"/>
<rect x="222.71" y="800.32" width="9.43" height="9.43" fill="#d2dc5a"/>
<rect x="231.64" y="800.32" width="9.43" height="9.43" fill="#f58c3a"/>
<rect x="240.57" y="800.32" width="9.43" height="9.43" fill="#e8542c"/>
<rect x="249.51" y="800.32" width="9.43" height="9.43" fill="#4a92b4"/>
<rect x="258.44" y="800.32" width="36.23" height="9.43" fill="#48a46e"/>
<rect x="294.17" y="800.32" width="18.37" height="9.43" fill="#6aaadc"/>
<rect x="312.04" y="800.32" width="9.43" height="9.43" fill="#96d2f2"/>
<rect x="320.97" y="800.32" width="27.30" height="9.43" fill="#cfeafa"/>
<rect x="347.77" y="800.32" width="18.37" height="9.43" fill="#96d2f2"/>
<rect x="365.64" y="800.32" width="18.37" height="9.43" fill="#6aaadc"/>
<rect x="383.50" y="800.32" width="9.43" height="9.43" fill="#4a92b4"/>
<rect x="392.44" y="800.32" width="27.30" height="9.43" fill="#48a46e"/>
<rect x="419.24" y="800.32" width="223.83" height="9.43" fill="#ffffff"/>
<rect x="642.57" y="800.32" width="45.17" height="9.43" fill="#cfeafa"/>
<rect x="687.23" y="800.32" width="36.23" height="9.43" fill="#96d2f2"/>
<rect x="722.97" y="800.32" width="89.83" height="9.43" fill="#cfeafa"/>
<rect x="812.30" y="800.32" width="9.43" height="9.43" fill="#ffffff"/>
<rect x="821.23" y="800.32" width="18.37" height="9.43" fill="#cfeafa"/>
<rect x="124.44" y="809.24" width="9.43" height="9.43" fill="#78c050"/>
<rect x="133.37" y="809.24" width="9.43" height="9.43" fill="#f58c3a"/>
<rect x="142.31" y="809.24" width="18.37" height="9.43" fill="#d62628"/>
<rect x="160.17" y="809.24" width="9.43" height="9.43" fill="#e8542c"/>
<rect x="169.11" y="809.24" width="9.43" height="9.43" fill="#d2dc5a"/>
<rect x="178.04" y="809.24" width="9.43" height="9.43" fill="#f58c3a"/>
<rect x="186.97" y="809.24" width="9.43" height="9.43" fill="#78c050"/>
<rect x="195.91" y="809.24" width="18.37" height="9.43" fill="#48a46e"/>
<rect x="213.77" y="809.24" width="9.43" height="9.43" fill="#78c050"/>
<rect x="222.71" y="809.24" width="9.43" height="9.43" fill="#d2dc5a"/>
<rect x="231.64" y="809.24" width="9.43" height="9.43" fill="#48a46e"/>
<rect x="240.57" y="809.24" width="18.37" height="9.43" fill="#4a92b4"/>
<rect x="258.44" y="809.24" width="18.37" height="9.43" fill="#78c050"/>
<rect x="276.31" y="809.24" width="9.43" height="9.43" fill="#4a92b4"/>
<rect x="285.24" y="809.24" width="9.43" height="9.43" fill="#6aaadc"/>
<rect x="294.17" y="809.24" width="9.43" height="9.43" fill="#96d2f2"/>
<rect x="303.11" y="809.24" width="54.10" height="9.43" fill="#cfeafa"/>
<rect x="356.70" y="809.24" width="9.43" height="9.43" fill="#96d2f2"/>
<rect x="365.64" y="809.24" width="9.43" height="9.43" fill="#6aaadc"/>
<rect x="374.57" y="809.24" width="9.43" height="9.43" fill="#4a92b4"/>
<rect x="383.50" y="809.24" width="18.37" height="9.43" fill="#48a46e"/>
<rect x="401.37" y="809.24" width="9.43" height="9.43" fill="#4a92b4"/>
<rect x="410.30" y="809.24" width="223.83" height="9.43" fill="#ffffff"/>
<rect x="633.64" y="809.24" width="170.23" height="9.43" fill="#cfeafa"/>
<rect x="803.37" y="809.24" width="9.43" height="9.43" fill="#ffffff"/>
<rect x="812.30" y="809.24" width="18.37" height="9.43" fill="#cfeafa"/>
<rect x="830.17" y="809.24" width="9.43" height="9.43" fill="#ffffff"/>
<rect x="124.44" y="818.17" width="9.43" height="9.43" fill="#78c050"/>
<rect x="133.37" y="818.17" width="9.43" height="9.43" fill="#d2dc5a"/>
<rect x="142.31" y="818.17" width="18.37" height="9.43" fill="#d62628"/>
<rect x="160.17" y="818.17" width="9.43" height="9.43" fill="#f58c3a"/>
<rect x="169.11" y="818.17" width="9.43" height="9.43" fill="#d2dc5a"/>
<rect x="178.04" y="818.17" width="9.43" height="9.43" fill="#78c050"/>
<rect x="186.97" y="818.17" width="9.43" height="9.43" fill="#48a46e"/>
<rect x="195.91" y="818.17" width="9.43" height="9.43" fill="#4a92b4"/>
<rect x="204.84" y="818.17" width="27.30" height="9.43" fill="#48a46e"/>
<rect x="231.64" y="818.17" width="36.23" height="9.43" fill="#4a92b4"/>
<rect x="267.37" y="818.17" width="9.43" height="9.43" fill="#48a46e"/>
<rect x="276.31" y="818.17" width="9.43" height="9.43" fill="#4a92b4"/>
<rect x="285.24" y="818.17" width="36.23" height="9.43" fill="#96d2f2"/>
<rect x="320.97" y="818.17" width="27.30" height="9.43" fill="#cfeafa"/>
<rect x="347.77" y="818.17" width="9.43" height="9.43" fill="#96d2f2"/>
<rect x="356.70" y="818.17" width="18.37" height="9.43" fill="#6aaadc"/>
<rect x="374.57" y="818.17" width="18.37" height="9.43" fill="#4a92b4"/>
<rect x="392.44" y="818.17" width="9.43" height="9.43" fill="#6aaadc"/>
<rect x="401.37" y="818.17" width="9.43" height="9.43" fill="#96d2f2"/>
<rect x="410.30" y="818.17" width="9.43" height="9.43" fill="#ffffff"/>
<rect x="419.24" y="818.17" width="18.37" height="9.43" fill="#cfeafa"/>
<rect x="437.10" y="818.17" width="197.03" height="9.43" fill="#ffffff"/>
<rect x="633.64" y="818.17" width="36.23" height="9.43" fill="#cfeafa"/>
<rect x="669.37" y="818.17" width="27.30" height="9.43" fill="#ffffff"/>
<rect x="696.17" y="818.17" width="27.30" height="9.43" fill="#cfeafa"/>
<rect x="722.97" y="818.17" width="9.43" height="9.43" fill="#ffffff"/>
<rect x="731.90" y="818.17" width="9.43" height="9.43" fill="#cfeafa"/>
<rect x="740.83" y="818.17" width="45.17" height="9.43" fill="#ffffff"/>
<rect x="785.50" y="818.17" width="18.37" height="9.43" fill="#cfeafa"/>
<rect x="803.37" y="818.17" width="9.43" height="9.43" fill="#ffffff"/>
<rect x="812.30" y="818.17" width="9.43" height="9.43" fill="#cfeafa"/>
<rect x="821.23" y="818.17" width="18.37" height="9.43" fill="#ffffff"/>
<rect x="124.44" y="827.09" width="9.43" height="9.43" fill="#78c050"/>
<rect x="133.37" y="827.09" width="9.43" height="9.43" fill="#d2dc5a"/>
<rect x="142.31" y="827.09" width="9.43" height="9.43" fill="#f58c3a"/>
<rect x="151.24" y="827.09" width="9.43" height="9.43" fill="#e8542c"/>
<rect x="160.17" y="827.09" width="9.43" height="9.43" fill="#d2dc5a"/>
<rect x="169.11" y="827.09" width="9.43" height="9.43" fill="#fac452"/>
<rect x="178.04" y="827.09" width="9.43" height="9.43" fill="#6aaadc"/>
<rect x="186.97" y="827.09" width="18.37" height="9.43" fill="#4a92b4"/>
<rect x="204.84" y="827.09" width="9.43" height="9.43" fill="#48a46e"/>
<rect x="213.77" y="827.09" width="18.37" height="9.43" fill="#78c050"/>
<rect x="231.64" y="827.09" width="36.23" height="9.43" fill="#4a92b4"/>
<rect x="267.37" y="827.09" width="18.37" height="9.43" fill="#6aaadc"/>
<rect x="285.24" y="827.09" width="18.37" height="9.43" fill="#96d2f2"/>
<rect x="303.11" y="827.09" width="9.43" height="9.43" fill="#6aaadc"/>
<rect x="312.04" y="827.09" width="9.43" height="9.43" fill="#4a92b4"/>
<rect x="320.97" y="827.09" width="9.43" height="9.43" fill="#6aaadc"/>
<rect x="329.90" y="827.09" width="18.37" height="9.43" fill="#cfeafa"/>
<rect x="347.77" y="827.09" width="9.43" height="9.43" fill="#6aaadc"/>
<rect x="356.70" y="827.09" width="9.43" height="9.43" fill="#4a92b4"/>
<rect x="365.64" y="827.09" width="9.43" height="9.43" fill="#6aaadc"/>
<rect x="374.57" y="827.09" width="9.43" height="9.43" fill="#4a92b4"/>
<rect x="383.50" y="827.09" width="9.43" height="9.43" fill="#6aaadc"/>
<rect x="392.44" y="827.09" width="9.43" height="9.43" fill="#96d2f2"/>
<rect x="401.37" y="827.09" width="27.30" height="9.43" fill="#cfeafa"/>
<rect x="428.17" y="827.09" width="197.03" height="9.43" fill="#ffffff"/>
<rect x="624.70" y="827.09" width="27.30" height="9.43" fill="#cfeafa"/>
<rect x="651.50" y="827.09" width="36.23" height="9.43" fill="#ffffff"/>
<rect x="687.23" y="827.09" width="36.23" height="9.43" fill="#cfeafa"/>
<rect x="722.97" y="827.09" width="63.03" height="9.43" fill="#ffffff"/>
<rect x="785.50" y="827.09" width="9.43" height="9.43" fill="#cfeafa"/>
<rect x="794.43" y="827.09" width="18.37" height="9.43" fill="#ffffff"/>
<rect x="812.30" y="827.09" width="9.43" height="9.43" fill="#cfeafa"/>
<rect x="821.23" y="827.09" width="18.37" height="9.43" fill="#ffffff"/>
<rect x="124.44" y="836.02" width="9.43" height="9.43" fill="#78c050"/>
<rect x="133.37" y="836.02" width="9.43" height="9.43" fill="#d2dc5a"/>
<rect x="142.31" y="836.02" width="18.37" height="9.43" fill="#fac452"/>
<rect x="160.17" y="836.02" width="9.43" height="9.43" fill="#d2dc5a"/>
<rect x="169.11" y="836.02" width="9.43" height="9.43" fill="#78c050"/>
<rect x="178.04" y="836.02" width="27.30" height="9.43" fill="#4a92b4"/>
<rect x="204.84" y="836.02" width="18.37" height="9.43" fill="#48a46e"/>
<rect x="222.71" y="836.02" width="36.23" height="9.43" fill="#6aaadc"/>
<rect x="258.44" y="836.02" width="9.43" height="9.43" fill="#4a92b4"/>
<rect x="267.37" y="836.02" width="18.37" height="9.43" fill="#6aaadc"/>
<rect x="285.24" y="836.02" width="9.43" height="9.43" fill="#4a92b4"/>
<rect x="294.17" y="836.02" width="9.43" height="9.43" fill="#6aaadc"/>
<rect x="303.11" y="836.02" width="18.37" height="9.43" fill="#4a92b4"/>
<rect x="320.97" y="836.02" width="9.43" height="9.43" fill="#6aaadc"/>
<rect x="329.90" y="836.02" width="9.43" height="9.43" fill="#cfeafa"/>
<rect x="338.84" y="836.02" width="18.37" height="9.43" fill="#6aaadc"/>
<rect x="356.70" y="836.02" width="9.43" height="9.43" fill="#48a46e"/>
<rect x="365.64" y="836.02" width="18.37" height="9.43" fill="#6aaadc"/>
<rect x="383.50" y="836.02" width="9.43" height="9.43" fill="#96d2f2"/>
<rect x="392.44" y="836.02" width="27.30" height="9.43" fill="#cfeafa"/>
<rect x="419.24" y="836.02" width="197.03" height="9.43" fill="#ffffff"/>
<rect x="615.77" y="836.02" width="27.30" height="9.43" fill="#cfeafa"/>
<rect x="642.57" y="836.02" width="27.30" height="9.43" fill="#ffffff"/>
<rect x="669.37" y="836.02" width="9.43" height="9.43" fill="#cfeafa"/>
<rect x="678.30" y="836.02" width="9.43" height="9.43" fill="#ffffff"/>
<rect x="687.23" y="836.02" width="9.43" height="9.43" fill="#cfeafa"/>
<rect x="696.17" y="836.02" width="9.43" height="9.43" fill="#ffffff"/>
<rect x="705.10" y="836.02" width="18.37" height="9.43" fill="#cfeafa"/>
<rect x="722.97" y="836.02" width="63.03" height="9.43" fill="#ffffff"/>
<rect x="785.50" y="836.02" width="18.37" height="9.43" fill="#cfeafa"/>
<rect x="803.37" y="836.02" width="9.43" height="9.43" fill="#ffffff"/>
<rect x="812.30" y="836.02" width="18.37" height="9.43" fill="#cfeafa"/>
<rect x="830.17" y="836.02" width="9.43" height="9.43" fill="#ffffff"/>
<rect x="124.44" y="844.95" width="18.37" height="9.43" fill="#d2dc5a"/>
<rect x="142.31" y="844.95" width="9.43" height="9.43" fill="#f58c3a"/>
<rect x="151.24" y="844.95" width="9.43" height="9.43" fill="#fac452"/>
<rect x="160.17" y="844.95" width="9.43" height="9.43" fill="#78c050"/>
<rect x="169.11" y="844.95" width="9.43" height="9.43" fill="#48a46e"/>
<rect x="178.04" y="844.95" width="36.23" height="9.43" fill="#4a92b4"/>
<rect x="213.77" y="844.95" width="9.43" height="9.43" fill="#6aaadc"/>
<rect x="222.71" y="844.95" width="9.43" height="9.43" fill="#96d2f2"/>
<rect x="231.64" y="844.95" width="63.03" height="9.43" fill="#6aaadc"/>
<rect x="294.17" y="844.95" width="9.43" height="9.43" fill="#4a92b4"/>
<rect x="303.11" y="844.95" width="18.37" height="9.43" fill="#48a46e"/>
<rect x="320.97" y="844.95" width="9.43" height="9.43" fill="#4a92b4"/>
<rect x="329.90" y="844.95" width="36.23" height="9.43" fill="#6aaadc"/>
<rect x="365.64" y="844.95" width="9.43" height="9.43" fill="#96d2f2"/>
<rect x="374.57" y="844.95" width="9.43" height="9.43" fill="#cfeafa"/>
<rect x="383.50" y="844.95" width="18.37" height="9.43" fill="#ffffff"/>
<rect x="401.37" y="844.95" width="9.43" height="9.43" fill="#cfeafa"/>
<rect x="410.30" y="844.95" width="197.03" height="9.43" fill="#ffffff"/>
<rect x="606.84" y="844.95" width="27.30" height="9.43" fill="#cfeafa"/>
<rect x="633.64" y="844.95" width="27.30" height="9.43" fill="#ffffff"/>
<rect x="660.44" y="844.95" width="9.43" height="9.43" fill="#cfeafa"/>
<rect x="669.37" y="844.95" width="9.43" height="9.43" fill="#ffffff"/>
<rect x="678.30" y="844.95" width="18.37" height="9.43" fill="#cfeafa"/>
<rect x="696.17" y="844.95" width="9.43" height="9.43" fill="#ffffff"/>
<rect x="705.10" y="844.95" width="18.37" height="9.43" fill="#cfeafa"/>
<rect x="722.97" y="844.95" width="63.03" height="9.43" fill="#ffffff"/>
<rect x="785.50" y="844.95" width="18.37" height="9.43" fill="#cfeafa"/>
<rect x="803.37" y="844.95" width="9.43" height="9.43" fill="#ffffff"/>
<rect x="812.30" y="844.95" width="18.37" height="9.43" fill="#cfeafa"/>
<rect x="830.17" y="844.95" width="9.43" height="9.43" fill="#ffffff"/>
<rect x="124.44" y="853.87" width="9.43" height="9.43" fill="#d2dc5a"/>
<rect x="133.37" y="853.87" width="9.43" height="9.43" fill="#78c050"/>
<rect x="142.31" y="853.87" width="9.43" height="9.43" fill="#d2dc5a"/>
<rect x="151.24" y="853.87" width="9.43" height="9.43" fill="#f58c3a"/>
<rect x="160.17" y="853.87" width="9.43" height="9.43" fill="#78c050"/>
<rect x="169.11" y="853.87" width="9.43" height="9.43" fill="#48a46e"/>
<rect x="178.04" y="853.87" width="9.43" height="9.43" fill="#6aaadc"/>
<rect x="186.97" y="853.87" width="9.43" height="9.43" fill="#96d2f2"/>
<rect x="195.91" y="853.87" width="9.43" height="9.43" fill="#6aaadc"/>
<rect x="204.84" y="853.87" width="9.43" height="9.43" fill="#4a92b4"/>
<rect x="213.77" y="853.87" width="54.10" height="9.43" fill="#6aaadc"/>
<rect x="267.37" y="853.87" width="9.43" height="9.43" fill="#96d2f2"/>
<rect x="276.31" y="853.87" width="18.37" height="9.43" fill="#6aaadc"/>
<rect x="294.17" y="853.87" width="71.97" height="9.43" fill="#4a92b4"/>
<rect x="365.64" y="853.87" width="9.43" height="9.43" fill="#96d2f2"/>
<rect x="374.57" y="853.87" width="9.43" height="9.43" fill="#cfeafa"/>
<rect x="383.50" y="853.87" width="9.43" height="9.43" fill="#ffffff"/>
<rect x="392.44" y="853.87" width="18.37" height="9.43" fill="#cfeafa"/>
<rect x="410.30" y="853.87" width="170.23" height="9.43" fill="#ffffff"/>
<rect x="580.04" y="853.87" width="27.30" height="9.43" fill="#cfeafa"/>
<rect x="606.84" y="853.87" width="9.43" height="9.43" fill="#6aaadc"/>
<rect x="615.77" y="853.87" width="9.43" height="9.43" fill="#cfeafa"/>
<rect x="624.70" y="853.87" width="9.43" height="9.43" fill="#ffffff"/>
<rect x="633.64" y="853.87" width="36.23" height="9.43" fill="#cfeafa"/>
<rect x="669.37" y="853.87" width="27.30" height="9.43" fill="#ffffff"/>
<rect x="696.17" y="853.87" width="27.30" height="9.43" fill="#cfeafa"/>
<rect x="722.97" y="853.87" width="63.03" height="9.43" fill="#ffffff"/>
<rect x="785.50" y="853.87" width="27.30" height="9.43" fill="#cfeafa"/>
<rect x="812.30" y="853.87" width="9.43" height="9.43" fill="#ffffff"/>
<rect x="821.23" y="853.87" width="9.43" height="9.43" fill="#cfeafa"/>
<rect x="830.17" y="853.87" width="9.43" height="9.43" fill="#ffffff"/>
<rect x="124.44" y="862.80" width="18.37" height="9.43" fill="#48a46e"/>
<rect x="142.31" y="862.80" width="9.43" height="9.43" fill="#78c050"/>
<rect x="151.24" y="862.80" width="9.43" height="9.43" fill="#fac452"/>
<rect x="160.17" y="862.80" width="9.43" height="9.43" fill="#e8542c"/>
<rect x="169.11" y="862.80" width="9.43" height="9.43" fill="#48a46e"/>
<rect x="178.04" y="862.80" width="9.43" height="9.43" fill="#6aaadc"/>
<rect x="186.97" y="862.80" width="9.43" height="9.43" fill="#96d2f2"/>
<rect x="195.91" y="862.80" width="9.43" height="9.43" fill="#6aaadc"/>
<rect x="204.84" y="862.80" width="9.43" height="9.43" fill="#4a92b4"/>
<rect x="213.77" y="862.80" width="45.17" height="9.43" fill="#6aaadc"/>
<rect x="258.44" y="862.80" width="18.37" height="9.43" fill="#96d2f2"/>
<rect x="276.31" y="862.80" width="9.43" height="9.43" fill="#4a92b4"/>
<rect x="285.24" y="862.80" width="9.43" height="9.43" fill="#48a46e"/>
<rect x="294.17" y="862.80" width="9.43" height="9.43" fill="#96d2f2"/>
<rect x="303.11" y="862.80" width="18.37" height="9.43" fill="#6aaadc"/>
<rect x="320.97" y="862.80" width="9.43" height="9.43" fill="#4a92b4"/>
<rect x="329.90" y="862.80" width="9.43" height="9.43" fill="#78c050"/>
<rect x="338.84" y="862.80" width="9.43" height="9.43" fill="#d2dc5a"/>
<rect x="347.77" y="862.80" width="18.37" height="9.43" fill="#48a46e"/>
<rect x="365.64" y="862.80" width="9.43" height="9.43" fill="#96d2f2"/>
<rect x="374.57" y="862.80" width="45.17" height="9.43" fill="#cfeafa"/>
<rect x="419.24" y="862.80" width="161.30" height="9.43" fill="#ffffff"/>
<rect x="580.04" y="862.80" width="27.30" height="9.43" fill="#cfeafa"/>
<rect x="606.84" y="862.80" width="9.43" height="9.43" fill="#96d2f2"/>
<rect x="615.77" y="862.80" width="54.10" height="9.43" fill="#cfeafa"/>
<rect x="669.37" y="862.80" width="27.30" height="9.43" fill="#ffffff"/>
<rect x="696.17" y="862.80" width="18.37" height="9.43" fill="#cfeafa"/>
<rect x="714.03" y="862.80" width="63.03" height="9.43" fill="#ffffff"/>
<rect x="776.57" y="862.80" width="36.23" height="9.43" fill="#cfeafa"/>
<rect x="812.30" y="862.80" width="27.30" height="9.43" fill="#ffffff"/>
<rect x="124.44" y="871.72" width="18.37" height="9.43" fill="#48a46e"/>
<rect x="142.31" y="871.72" width="9.43" height="9.43" fill="#78c050"/>
<rect x="151.24" y="871.72" width="9.43" height="9.43" fill="#fac452"/>
<rect x="160.17" y="871.72" width="9.43" height="9.43" fill="#e8542c"/>
<rect x="169.11" y="871.72" width="9.43" height="9.43" fill="#48a46e"/>
<rect x="178.04" y="871.72" width="9.43" height="9.43" fill="#6aaadc"/>
<rect x="186.97" y="871.72" width="9.43" height="9.43" fill="#96d2f2"/>
<rect x="195.91" y="871.72" width="9.43" height="9.43" fill="#6aaadc"/>
<rect x="204.84" y="871.72" width="9.43" height="9.43" fill="#4a92b4"/>
<rect x="213.77" y="871.72" width="45.17" height="9.43" fill="#6aaadc"/>
<rect x="258.44" y="871.72" width="18.37" height="9.43" fill="#96d2f2"/>
<rect x="276.31" y="871.72" width="9.43" height="9.43" fill="#4a92b4"/>
<rect x="285.24" y="871.72" width="9.43" height="9.43" fill="#48a46e"/>
<rect x="294.17" y="871.72" width="9.43" height="9.43" fill="#96d2f2"/>
<rect x="303.11" y="871.72" width="18.37" height="9.43" fill="#4a92b4"/>
<rect x="320.97" y="871.72" width="9.43" height="9.43" fill="#6aaadc"/>
<rect x="329.90" y="871.72" width="27.30" height="9.43" fill="#48a46e"/>
<rect x="356.70" y="871.72" width="9.43" height="9.43" fill="#4a92b4"/>
<rect x="365.64" y="871.72" width="54.10" height="9.43" fill="#cfeafa"/>
<rect x="419.24" y="871.72" width="170.23" height="9.43" fill="#ffffff"/>
<rect x="588.97" y="871.72" width="71.97" height="9.43" fill="#cfeafa"/>
<rect x="660.44" y="871.72" width="36.23" height="9.43" fill="#ffffff"/>
<rect x="696.17" y="871.72" width="18.37" height="9.43" fill="#cfeafa"/>
<rect x="714.03" y="871.72" width="63.03" height="9.43" fill="#ffffff"/>
<rect x="776.57" y="871.72" width="36.23" height="9.43" fill="#cfeafa"/>
<rect x="812.30" y="871.72" width="27.30" height="9.43" fill="#ffffff"/>
<rect x="124.44" y="880.65" width="18.37" height="9.43" fill="#48a46e"/>
<rect x="142.31" y="880.65" width="9.43" height="9.43" fill="#78c050"/>
<rect x="151.24" y="880.65" width="9.43" height="9.43" fill="#fac452"/>
<rect x="160.17" y="880.65" width="9.43" height="9.43" fill="#e8542c"/>
<rect x="169.11" y="880.65" width="9.43" height="9.43" fill="#48a46e"/>
<rect x="178.04" y="880.65" width="9.43" height="9.43" fill="#6aaadc"/>
<rect x="186.97" y="880.65" width="9.43" height="9.43" fill="#96d2f2"/>
<rect x="195.91" y="880.65" width="9.43" height="9.43" fill="#6aaadc"/>
<rect x="204.84" y="880.65" width="9.43" height="9.43" fill="#4a92b4"/>
<rect x="213.77" y="880.65" width="45.17" height="9.43" fill="#6aaadc"/>
<rect x="258.44" y="880.65" width="18.37" height="9.43" fill="#96d2f2"/>
<rect x="276.31" y="880.65" width="9.43" height="9.43" fill="#4a92b4"/>
<rect x="285.24" y="880.65" width="9.43" height="9.43" fill="#48a46e"/>
<rect x="294.17" y="880.65" width="9.43" height="9.43" fill="#96d2f2"/>
<rect x="303.11" y="880.65" width="18.37" height="9.43" fill="#4a92b4"/>
<rect x="320.97" y="880.65" width="9.43" height="9.43" fill="#6aaadc"/>
<rect x="329.90" y="880.65" width="9.43" height="9.43" fill="#4a92b4"/>
<rect x="338.84" y="880.65" width="9.43" height="9.43" fill="#48a46e"/>
<rect x="347.77" y="880.65" width="18.37" height="9.43" fill="#4a92b4"/>
<rect x="365.64" y="880.65" width="18.37" height="9.43" fill="#cfeafa"/>
<rect x="383.50" y="880.65" width="9.43" height="9.43" fill="#ffffff"/>
<rect x="392.44" y="880.65" width="45.17" height="9.43" fill="#cfeafa"/>
<rect x="437.10" y="880.65" width="143.43" height="9.43" fill="#ffffff"/>
<rect x="580.04" y="880.65" width="54.10" height="9.43" fill="#cfeafa"/>
<rect x="633.64" y="880.65" width="54.10" height="9.43" fill="#ffffff"/>
<rect x="687.23" y="880.65" width="36.23" height="9.43" fill="#cfeafa"/>
<rect x="722.97" y="880.65" width="45.17" height="9.43" fill="#ffffff"/>
<rect x="767.63" y="880.65" width="54.10" height="9.43" fill="#cfeafa"/>
<rect x="821.23" y="880.65" width="18.37" height="9.43" fill="#ffffff"/>
<rect x="124.44" y="889.57" width="18.37" height="9.43" fill="#48a46e"/>
<rect x="142.31" y="889.57" width="9.43" height="9.43" fill="#78c050"/>
<rect x="151.24" y="889.57" width="9.43" height="9.43" fill="#fac452"/>
<rect x="160.17" y="889.57" width="9.43" height="9.43" fill="#e8542c"/>
<rect x="169.11" y="889.57" width="9.43" height="9.43" fill="#48a46e"/>
<rect x="178.04" y="889.57" width="9.43" height="9.43" fill="#6aaadc"/>
<rect x="186.97" y="889.57" width="9.43" height="9.43" fill="#96d2f2"/>
<rect x="195.91" y="889.57" width="9.43" height="9.43" fill="#6aaadc"/>
<rect x="204.84" y="889.57" width="9.43" height="9.43" fill="#4a92b4"/>
<rect x="213.77" y="889.57" width="45.17" height="9.43" fill="#6aaadc"/>
<rect x="258.44" y="889.57" width="18.37" height="9.43" fill="#96d2f2"/>
<rect x="276.31" y="889.57" width="9.43" height="9.43" fill="#4a92b4"/>
<rect x="285.24" y="889.57" width="9.43" height="9.43" fill="#48a46e"/>
<rect x="294.17" y="889.57" width="9.43" height="9.43" fill="#96d2f2"/>
<rect x="303.11" y="889.57" width="18.37" height="9.43" fill="#4a92b4"/>
<rect x="320.97" y="889.57" width="9.43" height="9.43" fill="#48a46e"/>
<rect x="329.90" y="889.57" width="27.30" height="9.43" fill="#4a92b4"/>
<rect x="356.70" y="889.57" width="45.17" height="9.43" fill="#cfeafa"/>
<rect x="401.37" y="889.57" width="9.43" height="9.43" fill="#4a92b4"/>
<rect x="410.30" y="889.57" width="9.43" height="9.43" fill="#fac452"/>
<rect x="419.24" y="889.57" width="9.43" height="9.43" fill="#e8542c"/>
<rect x="428.17" y="889.57" width="9.43" height="9.43" fill="#cfeafa"/>
<rect x="437.10" y="889.57" width="125.57" height="9.43" fill="#ffffff"/>
<rect x="562.17" y="889.57" width="45.17" height="9.43" fill="#cfeafa"/>
<rect x="606.84" y="889.57" width="9.43" height="9.43" fill="#ffffff"/>
<rect x="615.77" y="889.57" width="18.37" height="9.43" fill="#cfeafa"/>
<rect x="633.64" y="889.57" width="45.17" height="9.43" fill="#ffffff"/>
<rect x="678.30" y="889.57" width="45.17" height="9.43" fill="#cfeafa"/>
<rect x="722.97" y="889.57" width="45.17" height="9.43" fill="#ffffff"/>
<rect x="767.63" y="889.57" width="63.03" height="9.43" fill="#cfeafa"/>
<rect x="830.17" y="889.57" width="9.43" height="9.43" fill="#ffffff"/>
</g>
<g clip-path="url(#mc)" fill="none" stroke="#000" stroke-width="1.2" stroke-linejoin="round">
<path d="M124.0 274.3 L135.0 275.6 L144.8 280.4 L158.2 282.9 L172.8 284.1 L182.6 280.4 L196.0 273.1 L204.6 264.6 L210.7 263.3 L221.7 265.1 L238.7 263.3 L248.5 256.0 L255.8 254.8 L257.1 248.7 L264.4 240.2 L272.9 235.8 L290.0 234.8 L292.5 229.2 L298.6 229.2 L299.8 230.4 L305.9 229.9 L313.2 225.5 L319.3 222.6 L331.5 221.1 L342.5 221.8 L351.0 225.0 L355.9 228.4 L354.7 231.6 L358.4 231.6 L370.6 222.6 L367.6 217.0 L366.9 207.2 L360.8 204.0 L353.5 202.3 L352.3 199.1 L347.4 198.6 L346.2 193.8 L338.8 190.8 L329.1 186.4 L326.6 183.0"/>
<path d="M235.1 183.0 L246.1 194.3 L255.8 187.7 L270.5 186.9 L282.7 190.1 L290.5 195.0 L302.2 185.2 L304.7 183.0"/>
<path d="M708.0 183.0 L711.7 186.9 L713.2 192.1 L716.8 194.3 L724.2 192.8 L738.8 194.3 L753.5 192.8 L763.0 192.1 L765.2 188.4 L765.9 185.5 L768.8 184.7 L771.0 183.0"/>
<path d="M826.0 183.0 L830.8 192.8 L827.4 196.5 L821.6 200.8 L815.0 203.0 L812.8 206.0 L814.2 211.1 L810.6 213.3 L808.4 220.6 L805.5 227.9 L804.0 232.3 L803.3 237.5 L799.6 240.4 L798.1 244.1 L794.5 248.4 L791.5 251.4 L790.8 257.2 L787.1 260.2 L781.3 263.1 L779.8 267.5 L779.8 271.9 L776.9 274.8 L772.5 276.3 L771.0 271.9 L766.6 269.0 L759.3 267.2 L752.0 267.5 L746.1 269.0 L743.9 268.2 L740.3 267.2 L737.3 269.7 L733.0 274.8 L728.5 277.7 L721.2 279.2 L713.9 281.4 L715.4 285.1 L719.0 290.9 L720.5 298.3 L720.5 310.0 L721.6 320.7 L723.7 329.2 L720.5 335.7 L714.1 342.1 L705.5 344.9 L698.1 346.8 L695.9 349.6 L698.1 350.6 L703.4 352.3"/>
<path d="M745.4 269.0 L746.1 273.4 L748.3 276.3 L749.1 280.7 L747.6 285.1 L750.5 288.0 L753.5 289.5 L756.4 292.4 L759.3 289.5 L765.2 286.5 L765.9 282.1 L769.6 278.5 L772.5 275.6"/>
<path d="M703.4 352.3 L709.8 351.1 L716.2 351.7 L720.5 352.3 L722.7 348.5 L726.9 344.2 L731.2 341.0 L736.6 336.7 L740.8 333.5 L746.2 330.3 L750.5 330.3 L755.8 330.3 L756.9 333.5 L755.2 342.1 L757.9 345.3 L761.1 343.1 L767.6 344.2 L771.8 343.8 L775.0 345.3 L779.3 349.1 L784.7 348.1 L791.1 345.3 L801.8 343.1 L808.2 339.9 L816.7 335.7 L825.3 331.4 L833.9 327.5 L840.0 324.6"/>
<path d="M500.0 438.2 L503.9 435.7 L504.3 432.7 L508.8 428.4 L519.5 421.0 L529.3 415.2 L542.0 408.9 L552.7 405.0 L557.6 404.4 L566.4 397.6 L573.2 389.8 L577.1 383.9 L580.1 381.0 L585.9 377.7 L594.6 383.0 L603.4 387.3 L619.1 388.2 L626.1 387.3 L629.6 383.8 L624.3 377.4 L625.3 371.0 L635.0 369.5 L647.8 367.7 L658.5 361.3 L666.0 356.6 L674.5 355.3 L676.7 348.5 L682.0 342.5 L688.4 342.5 L693.8 346.4 L697.0 349.6 L703.4 352.3"/>
<path d="M703.4 352.3 L707.7 354.9 L705.5 360.3 L701.3 361.3 L694.8 362.4 L690.6 365.2 L684.2 369.9 L677.7 376.3 L673.5 381.6 L672.4 387.0 L676.7 390.2 L675.6 395.5 L676.8 404.4 L669.9 407.3 L662.1 410.3 L658.2 414.2 L652.3 417.1 L642.6 422.0 L640.6 424.9 L634.8 426.9 L627.0 429.8 L621.1 431.8 L615.2 434.7 L609.4 437.6 L606.4 441.5 L607.4 446.4 L606.4 451.3 L602.5 454.2 L605.5 457.1 L611.3 459.1 L617.2 462.0 L623.0 466.9 L628.9 471.8 L632.8 475.9 L636.7 481.7 L642.6 489.5 L648.4 497.3 L654.3 504.2 L660.2 512.0 L664.1 518.8 L667.0 528.6 L668.0 536.4 L667.0 544.2 L666.0 552.0 L668.0 561.8 L666.6 554.6"/>
<path d="M668.0 561.8 L666.6 570.0 L663.0 572.2 L661.3 579.2 L657.8 582.7 L652.5 584.5 L647.7 591.5 L642.8 594.4 L637.9 593.4 L633.0 592.5 L628.1 591.5 L624.2 592.5 L620.3 593.4 L618.4 591.5 L614.5 590.5 L610.5 591.5 L608.6 590.5 L606.6 592.5 L604.7 593.4 L602.7 594.4 L599.8 596.4 L596.9 598.3 L593.9 600.3 L591.0 602.2 L589.1 603.2 L587.1 605.2 L584.2 606.1 L581.3 607.1 L579.3 608.1 L576.4 609.1 L574.4 607.1 L573.4 604.2 L569.5 605.2 L565.6 607.1 L562.7 606.1 L561.7 603.2 L564.6 601.3 L567.6 599.3 L570.5 597.3 L571.5 594.4 L569.5 592.5 L570.5 589.5 L572.5 586.6 L573.4 581.7 L574.4 577.8 L573.4 573.9 L575.4 571.0 L576.2 567.7"/>
<path d="M503.9 435.7 L506.8 434.7 L509.8 437.6 L515.6 440.5 L517.6 444.5 L516.6 448.4 L519.5 447.4 L520.5 442.5 L527.3 443.5 L534.2 446.4 L539.1 447.4 L542.0 444.5 L546.9 443.5 L542.0 447.4 L541.0 454.2 L539.1 462.0 L536.1 465.9 L534.2 471.8 L539.1 471.0 L533.2 473.5 L527.3 477.8 L524.4 482.1 L525.0 487.2 L520.5 489.5 L518.0 490.1 L523.4 491.5 L532.2 493.0 L536.1 495.0 L546.9 493.8 L551.8 495.8 L555.7 498.9 L560.5 500.9 L566.4 499.3 L571.3 499.3 L574.2 501.3 L575.2 504.2 L580.1 507.1 L582.0 514.9 L578.1 518.8 L572.3 520.8 L568.4 524.7 L566.4 530.5 L564.5 534.5 L568.4 538.4 L570.3 544.2 L574.2 550.1 L578.1 554.0 L582.0 555.9 L578.1 559.8 L574.2 563.8 L576.2 567.7"/>
<path d="M578.1 499.3 L580.1 495.4 L585.9 489.5 L591.8 485.6 L597.7 484.1 L625.0 483.7 L629.9 480.7 L630.9 475.9 L632.8 475.9"/>
<path d="M510.0 428.0 L507.0 429.3 L505.1 433.1 L504.4 436.9 L499.3 438.2 L491.7 437.5 L486.6 436.3 L485.4 438.2 L480.3 439.4 L473.9 440.1 L471.4 442.6 L466.3 443.9 L461.3 445.8 L454.9 448.3 L449.8 450.9 L444.7 454.7 L440.9 457.2 L437.1 460.4 L433.3 462.9 L430.8 464.8 L427.0 464.2 L423.2 465.5 L418.1 468.0 L413.6 469.9 L410.5 471.8 L408.6 471.2 L407.3 467.4 L410.5 465.5 L415.5 464.8 L420.6 462.9 L425.1 461.0 L423.2 459.1 L423.8 456.6 L425.7 454.0 L431.4 452.1 L425.7 451.5 L420.6 452.1 L418.1 450.9 L419.4 449.0 L416.8 447.7 L411.7 448.3 L411.1 446.8 L416.8 444.5 L420.6 443.9 L418.1 440.7 L419.4 438.2 L425.7 435.6 L430.1 433.7 L433.3 429.9 L438.4 422.9 L442.2 419.1 L443.5 416.6 L440.9 412.8 L438.4 410.2 L433.3 407.7 L430.8 405.2 L431.4 400.7 L429.5 403.9 L427.0 405.8 L423.2 406.4 L418.1 404.5 L410.5 403.3 L405.4 406.4 L402.9 409.0 L403.5 410.2 L399.0 414.0 L394.0 417.9 L390.2 420.4 L388.3 424.8 L385.1 426.7 L380.0 428.6 L377.2 428.4 L371.9 430.2 L363.2 433.7 L357.9 437.2 L352.7 440.7 L351.0 445.9 L351.2 451.2 L347.1 452.9 L342.4 456.4 L338.9 458.8 L335.4 459.4 L331.9 458.8 L328.4 458.8 L324.8 460.5 L321.3 462.9 L319.0 462.3 L316.6 460.0 L314.3 458.0 L310.8 457.3 L306.1 458.2 L303.2 461.1 L303.8 463.5 L301.4 465.2 L297.9 468.8 L296.7 473.4 L297.9 478.1 L301.4 482.8 L306.1 486.3 L312.0 489.8 L320.2 491.0 L327.2 492.0 L331.9 489.8 L336.6 488.7 L337.7 492.2 L340.1 494.5 L342.4 496.9 L342.4 500.4 L343.6 503.9 L341.3 507.4 L340.7 512.1 L342.4 516.8 L345.9 519.7 L350.6 521.3 L357.7 521.5 L364.7 521.3 L367.0 519.1 L369.4 516.8 L369.4 514.5 L374.1 512.1 L378.8 510.4 L382.3 507.4 L382.3 505.1 L387.0 503.3 L392.8 501.6 L397.5 500.4 L401.6 500.4 L405.0 502.7 L410.4 507.1 L417.4 510.6 L424.4 512.3 L431.4 511.5 L440.1 508.9 L448.9 512.3 L455.8 514.1 L452.3 519.3 L450.6 526.3 L445.4 528.1 L440.1 526.3 L433.1 526.3 L424.4 529.8 L415.6 533.3 L406.9 535.1 L402.2 537.3 L399.8 536.7 L399.3 539.1 L400.4 542.6 L397.5 544.9 L395.2 544.9 L394.0 547.3 L394.6 550.8 L391.6 553.1 L388.1 554.3 L384.6 552.0 L381.1 552.0 L378.8 554.3 L376.4 559.0 L374.1 562.5 L369.4 566.0 L364.7 568.4 L361.2 570.0"/>
<path d="M361.2 570.0 L358.7 573.0 L354.4 579.4 L350.1 584.8 L346.9 586.9 L347.6 594.4 L352.3 595.5 L356.6 598.7 L363.0 603.0 L370.5 606.2 L380.2 608.4 L384.5 611.6 L387.7 620.2 L390.9 627.7 L395.2 635.2 L399.5 641.7 L401.7 650.3 L400.8 660.0 L399.9 661.8 L403.4 664.0 L408.7 666.2 L413.9 668.3 L415.7 670.5 L416.1 674.1 L417.5 676.7 L422.7 678.5 L427.1 681.1 L430.6 684.6 L432.4 688.1 L432.0 690.3 L429.8 691.2 L426.2 690.3 L421.9 688.1 L417.9 686.4 L414.8 685.5 L411.3 685.5 L408.7 686.4 L405.2 688.1 L401.6 688.1 L399.0 687.2 L398.1 684.6 L399.9 682.9 L398.1 680.7 L394.6 679.3 L389.3 678.5 L386.7 679.8 L383.2 682.0 L378.8 683.3 L377.0 682.9"/>
<path d="M377.0 683.6 L385.8 681.4 L388.9 679.2 L395.5 680.1 L398.1 681.8 L400.8 686.7 L406.9 689.3 L412.2 691.5 L414.8 695.2 L419.2 696.9 L424.5 699.5 L429.8 701.3 L431.5 703.1 L430.6 705.7 L428.0 702.2 L426.2 703.1 L427.1 705.7 L430.6 710.1 L432.4 714.5 L430.6 716.2 L426.2 716.7 L421.0 718.0 L417.5 718.9 L413.9 721.5 L410.4 723.3 L406.9 725.0 L403.4 726.8 L401.6 729.4 L399.0 732.1 L396.4 732.5 L392.9 732.1 L390.2 731.2 L387.6 731.6 L384.9 733.0 L382.3 734.7 L380.5 735.6"/>
<path d="M408.7 686.4 L414.8 685.5 L419.2 688.1 L426.2 691.6 L431.5 695.2 L431.5 697.4 L428.0 696.9 L422.7 694.7 L417.5 692.5 L412.2 689.9 L408.7 686.4"/>
<path d="M380.5 735.6 L385.0 731.3 L389.7 730.9 L392.8 732.8 L393.6 737.5 L395.2 739.8 L400.6 739.1 L405.3 735.9 L410.0 733.6 L414.7 733.6 L418.6 735.9 L421.7 739.8 L424.8 743.8 L429.5 744.5 L434.2 746.9 L438.1 746.1 L435.0 750.0 L428.8 753.9 L424.1 757.0 L419.4 757.8 L417.4 760.2 L419.4 761.3 L422.5 759.4 L427.2 757.0 L431.1 755.5 L434.2 755.1 L434.6 759.4 L433.4 763.3 L435.0 767.2 L436.2 769.5 L433.4 772.3 L429.5 771.9 L428.4 767.6 L425.6 765.6 L421.7 766.8 L419.4 769.5 L420.2 771.1 L422.5 771.9 L424.1 775.0 L422.5 778.1 L425.6 779.7 L424.1 782.0 L420.2 783.6 L417.0 784.0 L419.4 785.2 L421.7 787.5 L423.3 790.6 L422.5 793.8 L424.1 796.5 L421.7 795.3 L418.6 796.1 L416.1 796.0 L412.0 799.1 L407.9 801.2 L405.9 799.1 L403.8 802.2 L401.8 806.3 L397.7 810.4 L393.6 815.5 L391.5 818.6 L393.6 821.7 L391.5 824.7 L388.4 828.8 L385.4 829.9 L384.3 832.9 L381.3 834.0 L379.2 837.0 L376.1 840.1 L374.1 842.2 L377.2 844.2 L377.2 847.3 L373.1 850.4 L369.0 850.4 L366.9 852.4 L364.9 854.5 L362.8 852.4 L360.8 854.5 L362.8 857.5 L361.8 860.6 L359.7 863.7 L360.8 866.8 L363.8 867.8 L362.8 870.9 L361.8 873.9 L360.8 876.0 L358.7 878.0 L356.7 880.1 L353.6 881.1 L351.5 883.2 L348.5 885.2 L345.4 886.2 L346.4 888.3 L349.5 889.3 L350.5 891.4 L347.4 892.4 L345.4 893.4 L342.3 891.4 L340.3 891.4 L338.2 893.4 L339.2 896.5 L337.2 899.0"/>
<path d="M403.4 899.0 L406.9 894.8 L413.9 893.1 L420.9 889.6 L424.4 890.5 L427.9 893.9 L433.1 896.6 L434.9 899.0"/>
<path d="M840.0 567.2 L827.8 567.2 L817.3 569.0 L803.4 571.6 L792.9 573.3 L785.9 570.7 L778.9 569.8 L771.9 572.5 L766.6 574.2 L764.9 578.6 L759.7 581.2 L754.4 586.5 L747.4 591.7 L738.7 595.2 L733.4 597.8 L728.2 601.3 L724.7 605.7 L719.4 606.6 L714.2 606.6 L710.7 607.4 L711.6 614.4 L712.4 617.9 L715.9 619.7 L721.2 618.8 L726.4 617.9 L733.4 617.9 L738.7 618.8 L743.9 619.7 L747.4 620.5 L750.9 621.4 L754.4 617.9 L757.9 610.9 L761.4 609.2 L764.9 610.0 L771.9 610.9 L775.4 610.0 L782.4 607.4 L785.9 605.7 L792.9 603.9 L799.9 602.2 L806.9 600.4 L813.8 598.7 L819.1 596.9 L826.1 596.1 L834.8 595.2 L840.0 596.9"/>
<path d="M713.1 619.8 L705.7 621.6 L696.4 622.6 L690.8 627.2 L683.4 632.8 L676.0 636.5 L668.6 638.3 L666.7 641.1 L670.4 643.9 L674.1 649.5 L679.7 651.3 L685.3 649.5 L689.0 645.8 L694.5 644.8 L698.2 649.5 L703.8 655.0 L703.8 662.4 L700.1 668.0 L694.5 669.9 L689.0 673.6 L689.0 681.0 L690.8 688.4 L690.8 695.8 L689.0 701.4 L694.5 703.3 L701.9 705.1 L705.7 710.7 L711.2 707.0 L718.6 703.3 L724.2 699.6 L726.1 692.1 L729.8 681.0 L733.5 671.7 L737.2 664.3 L742.8 658.7 L746.5 651.3 L742.8 647.6 L735.3 645.8 L731.6 640.2 L735.3 632.8 L731.6 629.1 L726.1 630.9 L720.5 630.9 L714.9 627.2 L713.1 619.8"/>
<path d="M757.9 638.9 L761.4 642.4 L760.5 649.4 L764.9 654.6 L771.9 658.1 L776.3 657.3 L782.4 649.4 L785.9 640.7 L792.9 636.3 L801.6 633.7 L808.6 637.2 L813.8 641.5 L820.8 633.7 L829.6 624.9 L827.8 619.7 L826.1 614.4 L824.3 610.9 L817.3 610.9 L813.8 608.3 L808.6 607.4 L799.9 605.7 L794.6 607.4 L796.4 612.7 L794.6 617.9 L789.4 620.5 L782.4 619.7 L778.9 616.2 L775.4 612.7 L771.9 614.4 L766.6 619.7 L761.4 626.7 L756.2 633.7 L750.9 637.2 L747.4 638.1 L757.9 638.9"/>
<path d="M840.0 598.7 L833.1 600.4 L829.6 605.7 L828.7 610.9 L833.1 612.7 L840.0 609.2"/>
<path d="M661.3 605.6 L663.0 600.3 L666.6 597.7 L668.3 600.3 L665.7 607.3 L663.9 614.4 L661.3 616.1 L658.6 614.4 L659.5 610.0 L661.3 605.6"/>
<path d="M568.1 639.0 L570.8 634.6 L578.7 632.0 L586.6 633.7 L588.3 637.2 L583.9 640.7 L575.2 642.5 L568.1 642.5 L568.1 639.0"/>
<path d="M610.4 865.1 L613.9 858.1 L620.9 852.9 L627.9 845.9 L631.3 842.4 L630.5 840.6 L626.1 844.1 L620.9 847.6 L615.6 854.6 L612.1 859.9 L610.4 865.1"/>
<path d="M782.0 548.0 L786.0 546.5 L789.4 549.0 L786.0 551.5 L782.0 550.5 L782.0 548.0"/>
<path d="M430.3 740.6 L433.4 738.3 L438.1 737.5 L441.3 734.4 L439.7 732.8 L442.0 733.2 L444.4 740.6 L447.5 743.0 L449.1 746.1 L446.7 748.4 L444.4 751.6 L441.3 753.1 L438.1 751.6 L435.8 750.0 L436.6 746.9 L433.4 746.1 L431.1 744.5 L430.3 740.6"/>
<path d="M391.5 804.0 L396.0 803.2 L401.8 804.5 L401.0 806.3 L396.0 805.5 L391.5 804.0"/>
<path d="M358.7 843.0 L361.0 841.1 L364.0 842.5 L366.9 844.5 L365.0 848.3 L361.0 847.5 L358.7 843.0"/>
<path d="M369.0 846.0 L372.0 843.2 L376.0 844.0 L377.2 847.0 L373.0 851.4 L370.0 850.0 L369.0 846.0"/>
<path d="M357.0 880.0 L360.0 877.0 L364.0 878.0 L368.0 880.0 L369.0 884.0 L365.0 887.2 L360.0 886.0 L357.0 880.0"/>
<path d="M351.0 891.0 L354.0 889.0 L356.0 891.0 L354.0 893.5 L351.0 891.0"/>
<path d="M687.1 655.0 L692.7 655.0 L694.5 660.6 L690.8 664.3 L685.3 662.4 L687.1 655.0"/>
<path d="M683.4 666.2 L690.8 668.0 L692.7 673.6 L687.1 677.3 L683.4 673.6 L683.4 666.2"/>
<path d="M698.2 694.0 L701.9 690.3 L707.5 692.1 L705.7 697.7 L703.8 703.3 L700.1 701.4 L698.2 694.0"/>
<path d="M652.0 646.0 L656.0 644.5 L659.0 648.0 L657.0 653.0 L653.0 657.0 L651.0 652.0 L652.0 646.0"/>
<path d="M674.0 688.4 L678.0 685.5 L681.5 684.7 L679.0 687.5 L674.0 688.4"/>
<path d="M658.0 798.0 L662.0 795.0 L667.0 792.0 L673.0 790.5 L674.0 792.5 L669.0 795.5 L663.0 798.5 L658.0 799.5 L658.0 798.0"/>
<path d="M648.0 810.0 L650.0 808.5 L651.5 810.5 L650.0 813.0 L648.0 812.0 L648.0 810.0"/>
<path d="M637.0 823.0 L640.0 822.0 L641.0 824.0 L638.0 825.0 L637.0 823.0"/>
<path d="M698.5 731.0 L701.0 729.0 L703.5 730.5 L703.0 733.0 L700.0 734.0 L698.5 731.0"/>
<path d="M713.0 733.0 L713.5 727.0 L715.0 721.0 L717.0 719.0 L717.5 723.0 L716.0 729.0 L714.5 733.5 L713.0 733.0"/>
<path d="M596.0 860.0 L598.5 859.0 L599.5 861.0 L597.0 862.0 L596.0 860.0"/>
<path d="M674.5 689.5 L676.0 685.0 L677.5 684.5 L676.5 688.5 L674.5 689.5"/>
<circle cx="619.2" cy="836.5" r="0.9" fill="#000" stroke="none"/>
<circle cx="584.8" cy="858" r="0.9" fill="#000" stroke="none"/>
<circle cx="481.6" cy="875.2" r="0.9" fill="#000" stroke="none"/>
<circle cx="722.3" cy="870.9" r="0.9" fill="#000" stroke="none"/>
<circle cx="679.3" cy="742" r="0.9" fill="#000" stroke="none"/>
<circle cx="681" cy="748" r="0.9" fill="#000" stroke="none"/>
<circle cx="683.6" cy="755" r="0.9" fill="#000" stroke="none"/>
<circle cx="666.4" cy="707.6" r="0.9" fill="#000" stroke="none"/>
<circle cx="632" cy="679.7" r="0.9" fill="#000" stroke="none"/>
<circle cx="687" cy="750" r="0.9" fill="#000" stroke="none"/>
<circle cx="655" cy="805" r="0.9" fill="#000" stroke="none"/>
<circle cx="644" cy="816" r="0.9" fill="#000" stroke="none"/>
<circle cx="630" cy="829" r="0.9" fill="#000" stroke="none"/>
<circle cx="625" cy="833" r="0.9" fill="#000" stroke="none"/>
<circle cx="587" cy="613" r="0.9" fill="#000" stroke="none"/>
<circle cx="597.9" cy="612" r="0.9" fill="#000" stroke="none"/>
<circle cx="599.8" cy="617.9" r="0.9" fill="#000" stroke="none"/>
<circle cx="628.1" cy="599.3" r="0.9" fill="#000" stroke="none"/>
<circle cx="553" cy="614" r="0.9" fill="#000" stroke="none"/>
<circle cx="557" cy="617" r="0.9" fill="#000" stroke="none"/>
<circle cx="571" cy="616" r="0.9" fill="#000" stroke="none"/>
<circle cx="603" cy="613" r="0.9" fill="#000" stroke="none"/>
<circle cx="565" cy="620" r="0.9" fill="#000" stroke="none"/>
<circle cx="383.3" cy="838.1" r="0.9" fill="#000" stroke="none"/>
<circle cx="375.1" cy="851.4" r="0.9" fill="#000" stroke="none"/>
<circle cx="377.2" cy="849.4" r="0.9" fill="#000" stroke="none"/>
<circle cx="387.4" cy="855.5" r="0.9" fill="#000" stroke="none"/>
<circle cx="371" cy="861.6" r="0.9" fill="#000" stroke="none"/>
<circle cx="372" cy="868.8" r="0.9" fill="#000" stroke="none"/>
<circle cx="406" cy="821.6" r="0.9" fill="#000" stroke="none"/>
<circle cx="411" cy="817.5" r="0.9" fill="#000" stroke="none"/>
<circle cx="407" cy="810.4" r="0.9" fill="#000" stroke="none"/>
<circle cx="409" cy="811.4" r="0.9" fill="#000" stroke="none"/>
<circle cx="357.7" cy="892.4" r="0.9" fill="#000" stroke="none"/>
<circle cx="447.2" cy="729.7" r="0.9" fill="#000" stroke="none"/>
<circle cx="450" cy="730" r="0.9" fill="#000" stroke="none"/>
<circle cx="457.5" cy="737.8" r="0.9" fill="#000" stroke="none"/>
<circle cx="434.6" cy="732.8" r="0.9" fill="#000" stroke="none"/>
<circle cx="450.2" cy="736.3" r="0.9" fill="#000" stroke="none"/>
<circle cx="441.3" cy="761" r="0.9" fill="#000" stroke="none"/>
<circle cx="431.9" cy="790.6" r="0.9" fill="#000" stroke="none"/>
<circle cx="429.5" cy="782" r="0.9" fill="#000" stroke="none"/>
<circle cx="431.5" cy="781.5" r="0.9" fill="#000" stroke="none"/>
<circle cx="544" cy="498" r="0.9" fill="#000" stroke="none"/>
<circle cx="546" cy="505" r="0.9" fill="#000" stroke="none"/>
<circle cx="549" cy="512" r="0.9" fill="#000" stroke="none"/>
<circle cx="556" cy="527" r="0.9" fill="#000" stroke="none"/>
<circle cx="558" cy="540" r="0.9" fill="#000" stroke="none"/>
<circle cx="561" cy="552" r="0.9" fill="#000" stroke="none"/>
<circle cx="565" cy="560" r="0.9" fill="#000" stroke="none"/>
<circle cx="558" cy="568" r="0.9" fill="#000" stroke="none"/>
<circle cx="552" cy="585" r="0.9" fill="#000" stroke="none"/>
<circle cx="555" cy="592" r="0.9" fill="#000" stroke="none"/>
<circle cx="560" cy="600" r="0.9" fill="#000" stroke="none"/>
<circle cx="566" cy="612" r="0.9" fill="#000" stroke="none"/>
<circle cx="590" cy="610" r="0.9" fill="#000" stroke="none"/>
<circle cx="598" cy="608" r="0.9" fill="#000" stroke="none"/>
<circle cx="604" cy="606" r="0.9" fill="#000" stroke="none"/>
<circle cx="608" cy="612" r="0.9" fill="#000" stroke="none"/>
<circle cx="617" cy="598" r="0.9" fill="#000" stroke="none"/>
<circle cx="622" cy="604" r="0.9" fill="#000" stroke="none"/>
<circle cx="444" cy="738" r="0.9" fill="#000" stroke="none"/>
<circle cx="447" cy="741" r="0.9" fill="#000" stroke="none"/>
<circle cx="441" cy="746" r="0.9" fill="#000" stroke="none"/>
<circle cx="432" cy="748" r="0.9" fill="#000" stroke="none"/>
<circle cx="430" cy="754" r="0.9" fill="#000" stroke="none"/>
<circle cx="447" cy="754" r="0.9" fill="#000" stroke="none"/>
<circle cx="426" cy="772" r="0.9" fill="#000" stroke="none"/>
<circle cx="434" cy="765" r="0.9" fill="#000" stroke="none"/>
<circle cx="430" cy="790" r="0.9" fill="#000" stroke="none"/>
<circle cx="410" cy="812" r="0.9" fill="#000" stroke="none"/>
<circle cx="405" cy="832" r="0.9" fill="#000" stroke="none"/>
<circle cx="392" cy="848" r="0.9" fill="#000" stroke="none"/>
<circle cx="372" cy="870" r="0.9" fill="#000" stroke="none"/>
<circle cx="392" cy="836" r="0.9" fill="#000" stroke="none"/>
<circle cx="648" cy="830" r="0.9" fill="#000" stroke="none"/>
<circle cx="656" cy="822" r="0.9" fill="#000" stroke="none"/>
<circle cx="632" cy="782" r="0.9" fill="#000" stroke="none"/>
<circle cx="637" cy="790" r="0.9" fill="#000" stroke="none"/>
<circle cx="640" cy="855" r="0.9" fill="#000" stroke="none"/>
<circle cx="750" cy="600" r="0.9" fill="#000" stroke="none"/>
<circle cx="752" cy="604" r="0.9" fill="#000" stroke="none"/>
<circle cx="718" cy="551" r="0.9" fill="#000" stroke="none"/>
<circle cx="706" cy="555" r="0.9" fill="#000" stroke="none"/>
<circle cx="702" cy="547" r="0.9" fill="#000" stroke="none"/>
<circle cx="705" cy="545" r="0.9" fill="#000" stroke="none"/>
<circle cx="681" cy="688" r="0.9" fill="#000" stroke="none"/>
<circle cx="684" cy="694" r="0.9" fill="#000" stroke="none"/>
<circle cx="667" cy="675" r="0.9" fill="#000" stroke="none"/>
<circle cx="674" cy="683" r="0.9" fill="#000" stroke="none"/>
<circle cx="476" cy="466" r="0.9" fill="#000" stroke="none"/>
<circle cx="478" cy="470" r="0.9" fill="#000" stroke="none"/>
<circle cx="486" cy="471" r="0.9" fill="#000" stroke="none"/>
<circle cx="470" cy="467" r="0.9" fill="#000" stroke="none"/>
<circle cx="493" cy="463" r="0.9" fill="#000" stroke="none"/>
<circle cx="448" cy="473" r="0.9" fill="#000" stroke="none"/>
<circle cx="453" cy="458" r="0.9" fill="#000" stroke="none"/>
<circle cx="655" cy="600" r="0.9" fill="#000" stroke="none"/>
<circle cx="640" cy="615" r="0.9" fill="#000" stroke="none"/>
<circle cx="648" cy="626" r="0.9" fill="#000" stroke="none"/>
<path d="M559.6 593.0 L559.1 595.0 L556.7 595.8 L553.9 595.7 L552.1 594.1 L552.8 592.1 L554.3 590.8 L556.8 589.7 L558.8 591.2 Z"/>
<path d="M562.7 597.0 L562.7 598.9 L560.5 599.4 L558.3 599.4 L557.2 597.8 L557.0 596.1 L558.7 595.1 L560.5 594.4 L562.6 595.2 Z"/>
<path d="M561.0 601.0 L560.5 602.4 L558.6 603.1 L556.7 602.5 L554.9 601.7 L555.1 600.3 L556.6 599.4 L558.4 599.4 L560.6 599.5 Z"/>
<path d="M558.0 609.0 L557.5 610.4 L555.6 611.2 L553.4 610.9 L551.8 609.8 L552.3 608.3 L553.3 607.1 L555.5 607.1 L557.6 607.5 Z"/>
<path d="M561.8 612.0 L560.6 613.0 L559.4 613.5 L557.9 613.4 L556.3 612.7 L556.7 611.4 L557.7 610.4 L559.4 610.4 L560.9 610.8 Z"/>
<path d="M577.9 612.0 L577.2 613.2 L575.5 614.0 L573.5 613.8 L571.8 612.8 L572.0 611.3 L573.3 610.0 L575.6 609.8 L577.7 610.5 Z"/>
<path d="M581.1 614.0 L580.4 614.9 L579.4 615.7 L577.8 615.5 L576.9 614.6 L577.1 613.5 L577.9 612.6 L579.3 612.7 L580.7 612.9 Z"/>
<path d="M615.6 603.0 L614.8 604.2 L613.4 604.7 L611.6 604.9 L610.2 603.8 L611.0 602.4 L611.6 601.1 L613.4 601.1 L614.7 601.9 Z"/>
<path d="M636.8 594.0 L636.5 595.4 L634.6 596.2 L632.7 595.5 L631.1 594.7 L631.6 593.4 L632.4 592.1 L634.5 592.1 L636.6 592.5 Z"/>
<path d="M641.9 595.0 L640.9 596.2 L639.5 597.1 L637.8 596.5 L637.0 595.5 L636.6 594.4 L638.0 593.7 L639.4 593.4 L640.9 593.9 Z"/>
<path d="M645.6 593.0 L644.7 594.1 L643.4 594.7 L641.6 595.0 L640.8 593.6 L640.3 592.2 L641.6 591.0 L643.4 591.1 L644.9 591.7 Z"/>
<path d="M568.0 596.0 L567.6 597.0 L566.4 597.5 L565.0 597.3 L564.0 596.5 L563.8 595.4 L565.0 594.7 L566.3 594.6 L567.7 595.0 Z"/>
<path d="M553.4 604.0 L553.1 604.7 L552.3 605.4 L551.2 605.0 L550.6 604.4 L550.8 603.7 L551.3 603.0 L552.3 602.8 L553.0 603.4 Z"/>
<path d="M585.1 611.0 L584.6 612.0 L583.3 612.2 L582.0 612.4 L581.1 611.5 L581.0 610.5 L582.1 609.8 L583.4 609.4 L584.7 610.0 Z"/>
<path d="M591.7 609.0 L591.3 609.8 L590.4 610.6 L588.8 610.5 L588.3 609.5 L588.1 608.5 L589.0 607.7 L590.3 607.6 L591.5 608.1 Z"/>
<path d="M597.3 604.0 L596.8 605.1 L595.4 605.8 L593.8 605.4 L592.8 604.6 L592.4 603.3 L594.0 602.7 L595.4 602.2 L597.1 602.7 Z"/>
<path d="M601.9 600.0 L601.4 600.9 L600.4 601.6 L599.1 601.2 L598.3 600.5 L598.2 599.5 L598.9 598.6 L600.3 598.7 L601.4 599.1 Z"/>
<path d="M548.4 598.0 L548.3 598.7 L547.3 599.0 L546.2 599.0 L545.8 598.3 L545.7 597.7 L546.2 597.1 L547.3 596.9 L548.1 597.4 Z"/>
<path d="M552.8 590.0 L552.3 590.8 L551.4 591.5 L550.1 591.2 L548.9 590.6 L548.9 589.4 L550.1 588.8 L551.3 588.6 L552.7 588.9 Z"/>
<path d="M562.1 588.0 L561.7 589.1 L560.3 589.4 L559.1 589.1 L558.3 588.5 L557.9 587.4 L559.1 586.8 L560.3 586.6 L561.5 587.1 Z"/>
</g>
<g font-weight="bold" font-size="22.6" fill="#0000ff">
<text transform="translate(253.7 450.9) scale(0.885 1)" text-anchor="end" style="fill:#0000ff">BJ</text>
<text transform="translate(278.7 467.6) scale(0.885 1)" text-anchor="end" style="fill:#0000ff">TJ</text>
<text transform="translate(544.4 471.0) scale(0.885 1)" text-anchor="end" style="fill:#0000ff">PY</text>
<text transform="translate(584.3 517.6) scale(0.885 1)" text-anchor="end" style="fill:#0000ff">SEO</text>
<text transform="translate(656.5 509.6) scale(0.91 1)" style="fill:#0000ff">GN</text>
<text transform="translate(377.6 562.9) scale(0.885 1)" text-anchor="end" style="fill:#0000ff">QD</text>
<text transform="translate(595.9 554.0) scale(0.885 1)" text-anchor="end" style="fill:#0000ff">DJ</text>
<text transform="translate(633.3 569.1) scale(0.885 1)" text-anchor="end" style="fill:#0000ff">DG</text>
<text transform="translate(580.9 590.5) scale(0.885 1)" text-anchor="end" style="fill:#0000ff">GJ</text>
<text transform="translate(647.7 590.5) scale(0.885 1)" text-anchor="end" style="fill:#0000ff">BS</text>
<text transform="translate(569.7 644.1) scale(0.885 1)" text-anchor="end" style="fill:#0000ff">JJ</text>
<text transform="translate(689.5 640.1) scale(0.885 1)" text-anchor="end" style="fill:#0000ff">FKO</text>
<text transform="translate(327.8 687.7) scale(0.885 1)" text-anchor="end" style="fill:#0000ff">NJ</text>
<text transform="translate(412.0 713.5) scale(0.885 1)" text-anchor="end" style="fill:#0000ff">SH</text>
<text transform="translate(371.2 742.9) scale(0.885 1)" text-anchor="end" style="fill:#0000ff">HZ</text>
</g><g fill="none" stroke="#0000ff" stroke-width="1.7">
<circle cx="260.6" cy="443.1" r="6.15"/><path d="M256.25 438.75L264.95 447.45M264.95 438.75L256.25 447.45"/>
<circle cx="285.6" cy="459.8" r="6.15"/><path d="M281.25 455.45L289.95 464.15M289.95 455.45L281.25 464.15"/>
<circle cx="551.3" cy="463.2" r="6.15"/><path d="M546.95 458.85L555.65 467.55M555.65 458.85L546.95 467.55"/>
<circle cx="591.2" cy="509.8" r="6.15"/><path d="M586.85 505.45L595.55 514.15M595.55 505.45L586.85 514.15"/>
<circle cx="648.9" cy="502.7" r="6.15"/><path d="M644.55 498.35L653.25 507.05M653.25 498.35L644.55 507.05"/>
<circle cx="384.5" cy="555.1" r="6.15"/><path d="M380.15 550.75L388.85 559.45M388.85 550.75L380.15 559.45"/>
<circle cx="602.8" cy="546.2" r="6.15"/><path d="M598.45 541.85L607.15 550.55M607.15 541.85L598.45 550.55"/>
<circle cx="640.2" cy="561.3" r="6.15"/><path d="M635.85 556.95L644.55 565.65M644.55 556.95L635.85 565.65"/>
<circle cx="587.8" cy="582.7" r="6.15"/><path d="M583.45 578.35L592.15 587.05M592.15 578.35L583.45 587.05"/>
<circle cx="654.6" cy="582.7" r="6.15"/><path d="M650.25 578.35L658.95 587.05M658.95 578.35L650.25 587.05"/>
<circle cx="576.6" cy="636.3" r="6.15"/><path d="M572.25 631.95L580.95 640.65M580.95 631.95L572.25 640.65"/>
<circle cx="696.4" cy="632.3" r="6.15"/><path d="M692.05 627.95L700.75 636.65M700.75 627.95L692.05 636.65"/>
<circle cx="334.7" cy="679.9" r="6.15"/><path d="M330.35 675.55L339.05 684.25M339.05 675.55L330.35 684.25"/>
<circle cx="418.9" cy="705.7" r="6.15"/><path d="M414.55 701.35L423.25 710.05M423.25 701.35L414.55 710.05"/>
<circle cx="378.1" cy="735.1" r="6.15"/><path d="M373.75 730.75L382.45 739.45M382.45 730.75L373.75 739.45"/>
</g>
<rect x="124.44" y="871.6" width="200.6" height="26.9" fill="#fff" stroke="#000" stroke-width="1"/>
<text x="130" y="890.4" font-size="19" textLength="190.5" lengthAdjust="spacingAndGlyphs">WRF-Chem_NCAR_YSU</text>
<rect x="124.44" y="184.44" width="714.6600000000001" height="714.06" fill="none" stroke="#111" stroke-width="1.15"/>
<g stroke="#6a6a6a" stroke-width="1">
<line x1="124.44" y1="184.44" x2="124.44" y2="172.44"/>
<line x1="124.44" y1="898.5" x2="124.44" y2="910.5"/>
<line x1="186.58" y1="184.44" x2="186.58" y2="172.44"/>
<line x1="186.58" y1="898.5" x2="186.58" y2="910.5"/>
<line x1="248.73" y1="184.44" x2="248.73" y2="172.44"/>
<line x1="248.73" y1="898.5" x2="248.73" y2="910.5"/>
<line x1="310.87" y1="184.44" x2="310.87" y2="172.44"/>
<line x1="310.87" y1="898.5" x2="310.87" y2="910.5"/>
<line x1="373.02" y1="184.44" x2="373.02" y2="160.44"/>
<line x1="373.02" y1="898.5" x2="373.02" y2="922.5"/>
<line x1="435.16" y1="184.44" x2="435.16" y2="172.44"/>
<line x1="435.16" y1="898.5" x2="435.16" y2="910.5"/>
<line x1="497.31" y1="184.44" x2="497.31" y2="172.44"/>
<line x1="497.31" y1="898.5" x2="497.31" y2="910.5"/>
<line x1="559.45" y1="184.44" x2="559.45" y2="172.44"/>
<line x1="559.45" y1="898.5" x2="559.45" y2="910.5"/>
<line x1="621.59" y1="184.44" x2="621.59" y2="172.44"/>
<line x1="621.59" y1="898.5" x2="621.59" y2="910.5"/>
<line x1="683.74" y1="184.44" x2="683.74" y2="160.44"/>
<line x1="683.74" y1="898.5" x2="683.74" y2="922.5"/>
<line x1="745.88" y1="184.44" x2="745.88" y2="172.44"/>
<line x1="745.88" y1="898.5" x2="745.88" y2="910.5"/>
<line x1="808.03" y1="184.44" x2="808.03" y2="172.44"/>
<line x1="808.03" y1="898.5" x2="808.03" y2="910.5"/>
<line x1="124.44" y1="867.45" x2="112.44" y2="867.45"/>
<line x1="839.1" y1="867.45" x2="851.1" y2="867.45"/>
<line x1="124.44" y1="805.36" x2="112.44" y2="805.36"/>
<line x1="839.1" y1="805.36" x2="851.1" y2="805.36"/>
<line x1="124.44" y1="743.27" x2="100.44" y2="743.27"/>
<line x1="839.1" y1="743.27" x2="863.1" y2="743.27"/>
<line x1="124.44" y1="681.18" x2="112.44" y2="681.18"/>
<line x1="839.1" y1="681.18" x2="851.1" y2="681.18"/>
<line x1="124.44" y1="619.09" x2="112.44" y2="619.09"/>
<line x1="839.1" y1="619.09" x2="851.1" y2="619.09"/>
<line x1="124.44" y1="556.99" x2="112.44" y2="556.99"/>
<line x1="839.1" y1="556.99" x2="851.1" y2="556.99"/>
<line x1="124.44" y1="494.90" x2="112.44" y2="494.90"/>
<line x1="839.1" y1="494.90" x2="851.1" y2="494.90"/>
<line x1="124.44" y1="432.81" x2="100.44" y2="432.81"/>
<line x1="839.1" y1="432.81" x2="863.1" y2="432.81"/>
<line x1="124.44" y1="370.72" x2="112.44" y2="370.72"/>
<line x1="839.1" y1="370.72" x2="851.1" y2="370.72"/>
<line x1="124.44" y1="308.62" x2="112.44" y2="308.62"/>
<line x1="839.1" y1="308.62" x2="851.1" y2="308.62"/>
<line x1="124.44" y1="246.53" x2="112.44" y2="246.53"/>
<line x1="839.1" y1="246.53" x2="851.1" y2="246.53"/>
<line x1="124.44" y1="184.44" x2="112.44" y2="184.44"/>
<line x1="839.1" y1="184.44" x2="851.1" y2="184.44"/>
</g>
<text x="19.4" y="444.6" font-size="35" textLength="61.3" lengthAdjust="spacingAndGlyphs">40N</text>
<text x="18.4" y="755.6" font-size="35" textLength="62.8" lengthAdjust="spacingAndGlyphs">30N</text>
<text x="335" y="970.6" font-size="35" textLength="75" lengthAdjust="spacingAndGlyphs">120E</text>
<text x="645.2" y="970.6" font-size="35" textLength="76" lengthAdjust="spacingAndGlyphs">130E</text>
<rect x="874.0" y="191.40" width="42.4" height="49.99" fill="#8c1418"/>
<rect x="874.0" y="241.40" width="42.4" height="49.99" fill="#b01c22"/>
<rect x="874.0" y="291.40" width="42.4" height="49.99" fill="#d62628"/>
<rect x="874.0" y="341.40" width="42.4" height="49.99" fill="#e8542c"/>
<rect x="874.0" y="391.40" width="42.4" height="49.99" fill="#f58c3a"/>
<rect x="874.0" y="441.40" width="42.4" height="49.99" fill="#fac452"/>
<rect x="874.0" y="491.40" width="42.4" height="49.99" fill="#d2dc5a"/>
<rect x="874.0" y="541.40" width="42.4" height="49.99" fill="#78c050"/>
<rect x="874.0" y="591.40" width="42.4" height="49.99" fill="#48a46e"/>
<rect x="874.0" y="641.40" width="42.4" height="49.99" fill="#4a92b4"/>
<rect x="874.0" y="691.40" width="42.4" height="49.99" fill="#6aaadc"/>
<rect x="874.0" y="741.40" width="42.4" height="49.99" fill="#96d2f2"/>
<rect x="874.0" y="791.40" width="42.4" height="49.99" fill="#cfeafa"/>
<rect x="874.0" y="841.40" width="42.4" height="49.99" fill="#ffffff"/>
<line x1="874.0" y1="191.40" x2="916.4" y2="191.40" stroke="#1a1a1a" stroke-width="0.9"/>
<line x1="874.0" y1="241.39" x2="916.4" y2="241.39" stroke="#1a1a1a" stroke-width="0.9"/>
<line x1="874.0" y1="291.38" x2="916.4" y2="291.38" stroke="#1a1a1a" stroke-width="0.9"/>
<line x1="874.0" y1="341.37" x2="916.4" y2="341.37" stroke="#1a1a1a" stroke-width="0.9"/>
<line x1="874.0" y1="391.36" x2="916.4" y2="391.36" stroke="#1a1a1a" stroke-width="0.9"/>
<line x1="874.0" y1="441.35" x2="916.4" y2="441.35" stroke="#1a1a1a" stroke-width="0.9"/>
<line x1="874.0" y1="491.34" x2="916.4" y2="491.34" stroke="#1a1a1a" stroke-width="0.9"/>
<line x1="874.0" y1="541.33" x2="916.4" y2="541.33" stroke="#1a1a1a" stroke-width="0.9"/>
<line x1="874.0" y1="591.32" x2="916.4" y2="591.32" stroke="#1a1a1a" stroke-width="0.9"/>
<line x1="874.0" y1="641.31" x2="916.4" y2="641.31" stroke="#1a1a1a" stroke-width="0.9"/>
<line x1="874.0" y1="691.30" x2="916.4" y2="691.30" stroke="#1a1a1a" stroke-width="0.9"/>
<line x1="874.0" y1="741.29" x2="916.4" y2="741.29" stroke="#1a1a1a" stroke-width="0.9"/>
<line x1="874.0" y1="791.28" x2="916.4" y2="791.28" stroke="#1a1a1a" stroke-width="0.9"/>
<line x1="874.0" y1="841.27" x2="916.4" y2="841.27" stroke="#1a1a1a" stroke-width="0.9"/>
<line x1="874.0" y1="891.26" x2="916.4" y2="891.26" stroke="#1a1a1a" stroke-width="0.9"/>
<line x1="874.0" y1="191.4" x2="874.0" y2="891.3" stroke="#5a5a5a" stroke-width="1"/>
<line x1="916.4" y1="191.4" x2="916.4" y2="891.3" stroke="#5a5a5a" stroke-width="1"/>
<text x="0" y="0" transform="translate(959.6 253.4) scale(0.96 1)" text-anchor="middle" font-size="34">20</text>
<text x="0" y="0" transform="translate(959.6 303.4) scale(0.96 1)" text-anchor="middle" font-size="34">10</text>
<text x="0" y="0" transform="translate(959.6 353.4) scale(0.96 1)" text-anchor="middle" font-size="34">5</text>
<text x="0" y="0" transform="translate(959.6 403.4) scale(0.96 1)" text-anchor="middle" font-size="34">3</text>
<text x="0" y="0" transform="translate(959.6 453.4) scale(0.96 1)" text-anchor="middle" font-size="34">2.5</text>
<text x="0" y="0" transform="translate(959.6 503.4) scale(0.96 1)" text-anchor="middle" font-size="34">2</text>
<text x="0" y="0" transform="translate(959.6 553.4) scale(0.96 1)" text-anchor="middle" font-size="34">1.5</text>
<text x="0" y="0" transform="translate(959.6 603.4) scale(0.96 1)" text-anchor="middle" font-size="34">1</text>
<text x="0" y="0" transform="translate(959.6 653.4) scale(0.96 1)" text-anchor="middle" font-size="34">0.5</text>
<text x="0" y="0" transform="translate(959.6 703.4) scale(0.96 1)" text-anchor="middle" font-size="34">0.2</text>
<text x="0" y="0" transform="translate(959.6 753.4) scale(0.96 1)" text-anchor="middle" font-size="34">0.1</text>
<text x="0" y="0" transform="translate(959.6 803.4) scale(0.96 1)" text-anchor="middle" font-size="34">0.05</text>
<text x="0" y="0" transform="translate(959.6 853.4) scale(0.96 1)" text-anchor="middle" font-size="34">0.01</text>
</svg>
</body></html>
